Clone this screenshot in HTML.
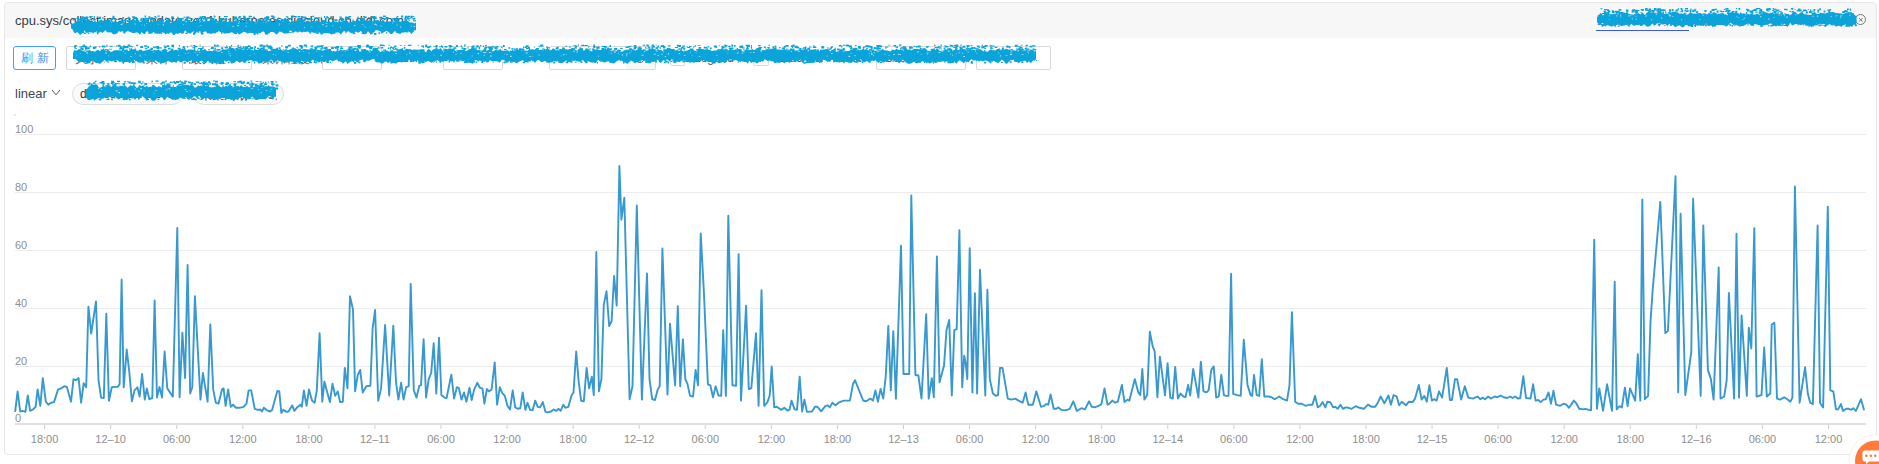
<!DOCTYPE html>
<html><head><meta charset="utf-8">
<style>
html,body{margin:0;padding:0;background:#fff;width:1879px;height:464px;overflow:hidden;font-family:"Liberation Sans",sans-serif;}
.abs{position:absolute;white-space:nowrap;}
#card{position:absolute;left:4px;top:2px;width:1873px;height:453px;border:1px solid #e6e6e6;border-radius:4px;box-sizing:border-box;}
#hdr{position:absolute;left:5px;top:3px;width:1871px;height:34.5px;background:#f7f7f7;border-radius:3px 3px 0 0;}
.title{position:absolute;left:15px;top:13px;font-size:13px;color:#383c4a;white-space:nowrap;}
.btn{position:absolute;left:13px;top:46px;width:43px;height:24px;box-sizing:border-box;border:1px solid #409eff;border-radius:3px;color:#3a94f5;font-size:12px;text-align:left;padding-left:7px;line-height:22px;letter-spacing:4px;white-space:nowrap;overflow:hidden;}
.inp{position:absolute;top:46px;height:24px;box-sizing:border-box;border:1px solid #d9d9d9;border-radius:2px;}
.lbl{position:absolute;top:51px;font-size:12px;color:#555;white-space:nowrap;}
.pill{position:absolute;top:83px;height:22px;box-sizing:border-box;border:1px solid #dedede;border-radius:11px;background:#fafafa;}
svg{position:absolute;left:0;top:0;}
.yl{font-size:11px;fill:#8e8e8e;}
.xl{font-size:11px;fill:#8e8e8e;}
</style></head><body>
<div id="card"></div>
<div id="hdr"></div>
<div class="title">cpu.sys/collect.image.update.ue01.kubernetes.didcloud.cn.didi.com</div>
<div class="abs" style="left:1597px;top:12px;font-size:12px;color:#3b5bdb;">数据源详情页面链接</div>
<div class="abs" style="left:1596px;top:30px;width:93px;height:1px;background:#3b5bdb;"></div>
<div class="abs" style="left:1692px;top:12px;font-size:12px;color:#777;">/ 监控 / 指标查看详细信息</div>
<div class="abs" style="left:1855px;top:14.25px;width:9px;height:9px;border:1px solid #777;border-radius:50%;"></div>
<div class="btn">刷新</div>
<div class="inp" style="left:66px;width:70px"></div>
<div class="lbl" style="left:75px;top:51px">大于</div>
<div class="lbl" style="left:146px">采样</div>
<div class="inp" style="left:182px;width:70px"></div>
<div class="lbl" style="left:190px;top:51px">最大值</div>
<div class="lbl" style="left:262px">采样粒度</div>
<div class="inp" style="left:322px;width:60px"></div>
<div class="lbl" style="left:393px">Outlier</div>
<div class="inp" style="left:443px;width:60px"></div>
<div class="lbl" style="left:512px">+</div>
<div class="inp" style="left:549px;width:107px"></div><div class="abs" style="left:626px;top:47px;width:29px;height:22px;background:#f7f7f7;"></div>
<div class="abs" style="left:635px;top:53px;width:8px;height:8px;border:1px solid #666;border-radius:50%;"></div>
<div class="inp" style="left:670px;top:54px;width:15px;height:12px"></div>
<div class="lbl" style="left:694px">Legend</div>
<div class="inp" style="left:753px;top:54px;width:16px;height:12px"></div>
<div class="lbl" style="left:778px">Stacked</div>
<div class="lbl" style="left:836px">Limit</div>
<div class="inp" style="left:876px;width:90px"></div>
<div class="lbl" style="left:886px;top:51px">500</div>
<div class="inp" style="left:976px;width:75px"></div>
<div class="abs" style="left:15px;top:86px;font-size:13px;color:#404552">linear</div>
<svg width="1879" height="464" viewBox="0 0 1879 464" style="z-index:1">
<path d="M52,90 L56,94.8 L60,90" fill="none" stroke="#555" stroke-width="1"/>
</svg>
<div class="pill" style="left:72px;width:111px"></div>
<div class="pill" style="left:193px;width:91px"></div>
<div class="abs" style="left:80px;top:87px;font-size:12px;color:#333">datasource: DeW</div>
<div class="abs" style="left:200px;top:87px;font-size:12px;color:#333">采集周期: 10s</div>
<svg width="1879" height="464" viewBox="0 0 1879 464" style="z-index:2">
<line x1="15" y1="366.5" x2="1866" y2="366.5" stroke="#ececec" stroke-width="1"/><text x="15" y="365" class="yl">20</text><line x1="15" y1="308.5" x2="1866" y2="308.5" stroke="#ececec" stroke-width="1"/><text x="15" y="307" class="yl">40</text><line x1="15" y1="250.5" x2="1866" y2="250.5" stroke="#ececec" stroke-width="1"/><text x="15" y="249" class="yl">60</text><line x1="15" y1="192.5" x2="1866" y2="192.5" stroke="#ececec" stroke-width="1"/><text x="15" y="191" class="yl">80</text><line x1="15" y1="134.5" x2="1866" y2="134.5" stroke="#ececec" stroke-width="1"/><text x="15" y="133" class="yl">100</text><text x="15" y="421.5" class="yl">0</text>
<rect x="14.5" y="114.5" width="1" height="1" fill="#6aaee0"/>
<line x1="15" y1="424" x2="1866" y2="424" stroke="#e0e0e0" stroke-width="2"/>
<line x1="44.58" y1="425" x2="44.58" y2="429" stroke="#cfcfcf" stroke-width="1"/><text x="44.6" y="443" class="xl" text-anchor="middle">18:00</text><line x1="110.65" y1="425" x2="110.65" y2="429" stroke="#cfcfcf" stroke-width="1"/><text x="110.6" y="443" class="xl" text-anchor="middle">12–10</text><line x1="176.72" y1="425" x2="176.72" y2="429" stroke="#cfcfcf" stroke-width="1"/><text x="176.7" y="443" class="xl" text-anchor="middle">06:00</text><line x1="242.79" y1="425" x2="242.79" y2="429" stroke="#cfcfcf" stroke-width="1"/><text x="242.8" y="443" class="xl" text-anchor="middle">12:00</text><line x1="308.86" y1="425" x2="308.86" y2="429" stroke="#cfcfcf" stroke-width="1"/><text x="308.9" y="443" class="xl" text-anchor="middle">18:00</text><line x1="374.93" y1="425" x2="374.93" y2="429" stroke="#cfcfcf" stroke-width="1"/><text x="374.9" y="443" class="xl" text-anchor="middle">12–11</text><line x1="441.0" y1="425" x2="441.0" y2="429" stroke="#cfcfcf" stroke-width="1"/><text x="441.0" y="443" class="xl" text-anchor="middle">06:00</text><line x1="507.07" y1="425" x2="507.07" y2="429" stroke="#cfcfcf" stroke-width="1"/><text x="507.1" y="443" class="xl" text-anchor="middle">12:00</text><line x1="573.14" y1="425" x2="573.14" y2="429" stroke="#cfcfcf" stroke-width="1"/><text x="573.1" y="443" class="xl" text-anchor="middle">18:00</text><line x1="639.21" y1="425" x2="639.21" y2="429" stroke="#cfcfcf" stroke-width="1"/><text x="639.2" y="443" class="xl" text-anchor="middle">12–12</text><line x1="705.28" y1="425" x2="705.28" y2="429" stroke="#cfcfcf" stroke-width="1"/><text x="705.3" y="443" class="xl" text-anchor="middle">06:00</text><line x1="771.35" y1="425" x2="771.35" y2="429" stroke="#cfcfcf" stroke-width="1"/><text x="771.4" y="443" class="xl" text-anchor="middle">12:00</text><line x1="837.42" y1="425" x2="837.42" y2="429" stroke="#cfcfcf" stroke-width="1"/><text x="837.4" y="443" class="xl" text-anchor="middle">18:00</text><line x1="903.49" y1="425" x2="903.49" y2="429" stroke="#cfcfcf" stroke-width="1"/><text x="903.5" y="443" class="xl" text-anchor="middle">12–13</text><line x1="969.56" y1="425" x2="969.56" y2="429" stroke="#cfcfcf" stroke-width="1"/><text x="969.6" y="443" class="xl" text-anchor="middle">06:00</text><line x1="1035.63" y1="425" x2="1035.63" y2="429" stroke="#cfcfcf" stroke-width="1"/><text x="1035.6" y="443" class="xl" text-anchor="middle">12:00</text><line x1="1101.7" y1="425" x2="1101.7" y2="429" stroke="#cfcfcf" stroke-width="1"/><text x="1101.7" y="443" class="xl" text-anchor="middle">18:00</text><line x1="1167.77" y1="425" x2="1167.77" y2="429" stroke="#cfcfcf" stroke-width="1"/><text x="1167.8" y="443" class="xl" text-anchor="middle">12–14</text><line x1="1233.84" y1="425" x2="1233.84" y2="429" stroke="#cfcfcf" stroke-width="1"/><text x="1233.8" y="443" class="xl" text-anchor="middle">06:00</text><line x1="1299.91" y1="425" x2="1299.91" y2="429" stroke="#cfcfcf" stroke-width="1"/><text x="1299.9" y="443" class="xl" text-anchor="middle">12:00</text><line x1="1365.98" y1="425" x2="1365.98" y2="429" stroke="#cfcfcf" stroke-width="1"/><text x="1366.0" y="443" class="xl" text-anchor="middle">18:00</text><line x1="1432.05" y1="425" x2="1432.05" y2="429" stroke="#cfcfcf" stroke-width="1"/><text x="1432.0" y="443" class="xl" text-anchor="middle">12–15</text><line x1="1498.12" y1="425" x2="1498.12" y2="429" stroke="#cfcfcf" stroke-width="1"/><text x="1498.1" y="443" class="xl" text-anchor="middle">06:00</text><line x1="1564.19" y1="425" x2="1564.19" y2="429" stroke="#cfcfcf" stroke-width="1"/><text x="1564.2" y="443" class="xl" text-anchor="middle">12:00</text><line x1="1630.26" y1="425" x2="1630.26" y2="429" stroke="#cfcfcf" stroke-width="1"/><text x="1630.3" y="443" class="xl" text-anchor="middle">18:00</text><line x1="1696.33" y1="425" x2="1696.33" y2="429" stroke="#cfcfcf" stroke-width="1"/><text x="1696.3" y="443" class="xl" text-anchor="middle">12–16</text><line x1="1762.4" y1="425" x2="1762.4" y2="429" stroke="#cfcfcf" stroke-width="1"/><text x="1762.4" y="443" class="xl" text-anchor="middle">06:00</text><line x1="1828.47" y1="425" x2="1828.47" y2="429" stroke="#cfcfcf" stroke-width="1"/><text x="1828.5" y="443" class="xl" text-anchor="middle">12:00</text>
<polyline points="15.1,411.9 17.6,391.4 20.2,411.5 22.7,410.9 25.4,411.9 27.8,395.5 30.1,410.9 32.9,409.5 35.6,406.8 37.6,389.4 40.3,405.8 42.8,378.1 45.8,401.7 48.3,404.7 51.0,402.7 54.0,402.1 58.1,389.4 61.2,388.4 64.3,386.3 66.9,386.9 71.0,401.7 73.5,379.2 75.9,380.2 78.6,378.1 81.1,402.7 83.7,383.2 86.2,387.3 88.4,306.6 91.2,333.6 96.0,301.4 98.5,380.2 101.1,397.6 103.8,398.0 106.3,313.7 108.9,400.7 111.8,387.3 114.4,386.9 117.5,386.9 119.6,384.3 121.6,279.5 123.7,387.3 126.7,349.5 129.2,371.0 131.9,401.3 134.5,390.4 137.4,387.3 139.6,396.6 142.1,374.0 144.8,399.6 146.8,388.4 149.3,399.2 152.3,398.0 154.6,300.4 157.0,397.6 159.5,386.9 162.0,397.6 164.6,351.5 167.3,388.4 172.8,396.6 177.3,228.0 179.6,397.2 182.4,332.6 185.1,378.1 187.6,265.0 190.2,393.5 192.3,387.3 194.9,296.3 200.5,399.6 202.9,373.0 207.6,401.7 210.3,324.4 213.2,389.4 215.8,402.7 218.5,403.7 222.0,389.4 223.6,388.4 225.6,405.8 228.1,389.4 230.8,406.8 233.2,404.7 235.9,407.8 239.4,407.8 243.5,406.8 246.5,403.7 248.6,390.4 251.2,390.4 254.7,408.8 257.8,409.9 260.3,409.5 261.9,411.5 263.9,407.8 267.0,410.3 270.1,411.5 272.1,409.9 277.3,391.0 279.3,391.4 281.3,412.9 283.4,409.9 286.5,411.9 288.5,411.5 292.2,405.4 294.3,410.9 296.7,407.8 300.4,404.7 301.8,406.8 303.9,390.4 306.5,405.8 309.0,389.4 312.1,400.7 314.7,402.7 316.8,390.4 319.6,333.2 322.3,401.7 324.4,381.6 327.0,391.4 329.9,402.1 332.5,383.7 335.2,395.9 337.7,391.4 340.1,402.1 342.8,401.7 344.8,367.9 347.5,388.4 350.0,296.3 353.0,309.6 355.1,391.4 357.7,375.1 360.2,369.9 362.7,392.5 366.3,386.3 370.4,385.7 372.6,328.5 375.1,310.0 378.2,400.7 381.1,388.4 385.1,325.0 389.2,395.5 393.3,325.6 396.0,382.2 398.4,399.6 401.1,382.8 403.6,399.6 406.2,386.9 408.7,386.3 410.7,284.0 413.8,390.4 416.5,397.6 419.3,385.7 421.0,385.3 423.6,339.2 426.1,397.6 428.7,379.2 431.2,373.0 433.7,343.3 436.3,393.5 439.0,337.8 441.4,395.1 444.5,397.6 446.6,398.0 451.3,374.6 454.1,398.6 456.8,387.3 458.8,387.8 461.5,399.6 464.0,392.5 466.4,401.7 469.5,387.8 471.7,400.0 474.2,389.4 477.3,382.8 479.9,387.8 482.4,388.4 484.4,403.7 486.9,389.0 488.9,391.4 491.6,389.4 494.7,362.4 497.1,404.7 499.8,387.3 502.3,393.1 504.9,395.9 507.4,405.8 510.0,409.5 512.7,390.4 515.2,407.4 517.6,408.8 520.3,408.2 522.7,392.5 525.4,409.9 527.5,402.7 530.1,409.9 532.6,410.3 535.2,400.7 537.7,406.8 540.1,407.4 542.8,402.1 545.5,411.9 547.9,412.3 551.0,411.5 553.7,409.5 556.1,410.9 558.6,408.8 560.6,410.9 563.3,404.7 565.3,407.8 568.4,406.8 571.5,395.5 573.5,392.5 576.2,351.5 578.6,381.2 581.1,400.7 583.8,401.3 586.6,367.9 589.1,388.4 591.8,376.7 593.8,395.1 596.3,252.0 598.9,391.4 601.4,379.1 603.8,304.6 606.5,291.3 609.2,326.1 611.6,321.0 614.1,276.0 616.7,305.6 619.4,166.0 621.4,219.7 624.3,197.8 629.6,399.2 632.5,386.3 636.8,205.4 641.9,399.6 647.0,273.5 649.5,379.1 652.2,399.2 655.0,400.0 657.7,389.4 659.7,386.3 662.4,248.4 667.5,394.5 670.0,323.6 675.1,385.3 677.8,306.2 680.2,386.3 682.9,339.2 685.3,379.1 687.4,383.6 690.0,395.9 693.1,396.5 695.6,369.9 698.0,385.3 700.7,233.4 703.8,290.2 707.9,384.3 710.3,385.3 713.0,397.2 715.6,386.3 718.5,395.5 721.2,395.9 723.2,330.2 725.9,395.9 728.3,215.6 732.4,385.3 736.1,385.7 738.6,254.1 741.0,400.6 746.1,305.6 748.8,389.0 751.3,388.4 756.0,333.1 758.6,405.8 761.5,290.2 764.2,405.8 767.2,402.7 769.7,395.5 771.7,366.4 774.2,407.4 776.8,406.8 781.3,409.9 784.3,407.8 787.4,410.5 789.5,409.9 791.5,400.6 794.6,409.4 797.0,409.9 799.7,376.7 802.1,411.5 804.4,399.6 806.9,411.9 812.0,411.5 815.0,406.8 817.5,406.8 821.2,411.3 825.3,406.2 827.7,405.3 829.8,407.4 832.4,402.7 835.5,405.3 838.6,402.7 841.7,401.3 844.1,400.6 849.9,400.6 852.9,384.3 855.0,380.2 863.2,400.6 866.2,401.3 870.3,398.6 873.0,400.6 875.4,390.4 877.9,401.7 880.6,389.0 883.2,398.6 885.7,377.1 888.3,326.0 890.8,390.4 893.3,331.1 895.9,398.6 901.0,245.7 903.5,374.0 909.2,374.0 911.3,195.5 915.4,375.0 918.4,375.5 921.5,398.6 926.2,314.1 928.7,398.6 931.8,378.1 933.8,397.2 936.9,256.4 939.5,382.2 944.0,365.8 946.5,330.1 949.2,319.9 951.8,395.5 954.3,330.1 956.7,329.1 959.4,230.3 962.2,387.3 964.2,355.6 965.6,362.8 967.3,379.1 969.7,248.2 972.4,392.4 974.9,293.2 977.1,393.5 980.0,269.7 985.3,395.5 987.4,289.8 989.8,379.1 992.9,393.5 996.0,395.9 998.0,395.1 1000.0,367.9 1002.5,367.9 1007.8,398.6 1011.3,399.6 1015.4,398.6 1018.5,400.6 1022.6,402.7 1025.6,392.4 1028.3,404.7 1032.8,404.7 1036.3,391.4 1041.0,406.8 1043.5,406.2 1046.1,404.1 1048.2,404.7 1050.6,394.5 1053.7,408.8 1056.4,408.8 1058.4,407.4 1061.5,409.9 1065.6,410.3 1069.7,408.8 1073.3,401.3 1076.8,410.9 1081.5,408.2 1085.0,409.4 1089.1,401.3 1091.8,406.8 1094.6,407.4 1097.9,406.2 1101.4,404.1 1104.5,388.4 1107.5,404.7 1109.6,403.7 1112.2,400.6 1115.1,402.7 1117.8,401.7 1121.9,384.9 1124.5,402.1 1127.4,399.6 1129.4,400.6 1134.8,379.1 1138.3,392.4 1140.3,395.1 1142.3,368.9 1144.4,399.6 1147.2,395.1 1149.8,331.6 1152.7,346.4 1154.7,351.5 1157.4,397.2 1159.9,356.6 1165.0,395.5 1167.6,363.2 1170.3,397.6 1172.8,398.6 1175.2,366.9 1177.9,398.6 1180.5,393.5 1183.4,396.5 1185.5,397.2 1188.1,384.9 1190.2,395.5 1193.2,368.9 1198.4,397.6 1200.8,361.7 1203.5,391.4 1206.5,392.4 1208.6,390.4 1211.3,369.9 1213.7,366.4 1216.2,397.6 1218.8,396.5 1221.3,374.6 1223.9,395.1 1226.0,395.9 1228.5,395.9 1231.1,273.8 1233.2,393.9 1237.3,395.1 1240.7,395.9 1243.8,339.8 1247.5,384.9 1250.6,395.1 1252.2,395.9 1254.0,375.0 1256.7,395.1 1259.2,395.9 1261.8,359.1 1264.3,396.5 1269.0,396.5 1272.1,397.6 1274.7,399.2 1279.2,396.5 1283.3,399.2 1287.0,400.6 1289.5,385.3 1291.9,312.1 1295.2,401.7 1298.1,403.7 1301.8,403.7 1305.4,405.8 1309.9,404.7 1312.4,404.7 1315.1,395.9 1317.7,407.4 1320.2,405.8 1322.6,402.1 1325.3,407.4 1327.4,401.7 1330.1,402.1 1333.2,407.4 1335.2,406.8 1337.7,408.8 1340.4,404.7 1343.0,408.8 1345.5,407.4 1348.5,407.8 1351.6,408.8 1355.7,406.2 1359.4,407.8 1363.9,408.8 1368.0,404.7 1371.7,406.8 1375.2,406.8 1377.8,402.7 1380.7,396.5 1384.4,403.3 1388.5,395.5 1390.9,404.7 1393.6,395.1 1396.7,396.5 1399.1,405.3 1401.8,401.7 1405.9,405.3 1408.9,401.7 1412.6,402.1 1415.1,398.6 1418.8,384.9 1421.6,399.6 1424.3,395.9 1426.8,401.7 1429.4,385.3 1431.9,400.6 1434.5,399.2 1436.6,400.6 1439.0,391.4 1442.1,397.6 1446.8,367.9 1449.9,400.0 1451.9,400.0 1455.0,379.1 1457.1,379.1 1461.2,399.6 1464.8,386.3 1468.3,397.6 1472.8,398.6 1477.5,396.5 1480.2,399.2 1482.7,397.6 1485.1,399.2 1488.2,396.5 1490.8,398.6 1494.9,396.5 1497.4,397.2 1500.7,395.5 1503.5,397.2 1507.2,398.0 1510.3,396.5 1512.5,398.0 1515.1,396.5 1517.8,398.6 1520.2,398.0 1523.3,376.1 1526.0,398.0 1530.5,398.6 1533.1,384.3 1535.6,400.6 1538.3,400.0 1540.7,402.1 1543.4,399.6 1545.8,399.2 1548.5,392.4 1551.0,403.7 1553.4,390.8 1556.1,404.7 1560.2,405.8 1563.6,403.7 1566.3,404.7 1569.0,407.8 1573.9,400.6 1576.5,403.7 1579.2,408.8 1583.7,409.4 1585.0,408.8 1591.1,410.3 1594.2,239.7 1596.9,408.8 1599.3,388.4 1603.0,410.9 1607.1,384.3 1612.0,410.9 1614.7,281.7 1616.7,409.4 1619.4,406.2 1621.9,407.4 1624.9,387.7 1627.6,406.2 1630.0,388.4 1635.2,400.6 1637.8,354.2 1638.6,373.0 1640.3,400.6 1642.3,199.4 1644.8,399.2 1648.1,395.9 1650.5,321.7 1652.6,291.0 1660.3,201.9 1665.3,333.1 1667.9,331.0 1675.5,176.3 1678.2,392.4 1680.6,213.7 1685.3,395.1 1691.3,352.0 1693.1,198.8 1700.7,395.9 1703.3,225.4 1707.9,369.9 1710.9,379.1 1713.6,399.6 1718.7,267.4 1720.5,398.6 1724.2,396.5 1726.7,380.2 1728.9,293.0 1734.1,398.6 1736.5,233.6 1739.0,397.6 1741.6,315.5 1746.8,395.9 1748.8,327.8 1751.3,348.4 1754.3,228.1 1756.6,396.5 1761.5,395.1 1764.2,347.4 1766.8,396.5 1770.3,393.5 1771.7,324.7 1774.4,322.7 1777.0,398.6 1780.1,399.6 1784.2,397.2 1787.3,399.2 1790.4,401.7 1792.4,397.6 1794.9,186.5 1799.6,402.7 1805.1,367.3 1807.8,393.5 1810.2,402.7 1812.9,404.1 1817.6,225.4 1820.0,402.7 1823.1,407.4 1827.8,206.6 1830.3,390.4 1833.3,391.4 1836.0,409.4 1838.1,409.4 1840.9,404.1 1843.0,410.9 1846.2,408.8 1848.7,408.8 1851.2,409.9 1853.2,408.2 1855.9,410.9 1861.0,399.2 1864.1,410.3" fill="none" stroke="#3898d0" stroke-width="1.9" stroke-linejoin="round"/>
<path d="M71.0 23.4L72.5 23.7L74.0 22.9L75.5 21.3L77.0 21.4L78.5 20.8L80.0 21.0L81.5 21.2L83.0 22.2L84.5 21.2L86.0 20.3L87.5 20.1L89.0 21.2L90.5 22.3L92.0 20.4L93.5 20.7L95.0 23.1L96.5 22.1L98.0 21.8L99.5 20.8L101.0 19.5L102.5 20.7L104.0 20.5L105.5 20.1L107.0 20.1L108.5 19.4L110.0 19.6L111.5 20.8L113.0 21.4L114.5 21.9L116.0 21.9L117.5 21.9L119.0 21.7L120.5 21.4L122.0 20.1L123.5 21.3L125.0 22.8L126.5 22.9L128.0 22.7L129.5 21.2L131.0 20.1L132.5 20.3L134.0 19.6L135.5 20.6L137.0 21.2L138.5 21.3L140.0 21.5L141.5 22.0L143.0 23.2L144.5 20.4L146.0 19.5L147.5 21.8L149.0 21.9L150.5 22.2L152.0 22.3L153.5 20.2L155.0 20.6L156.5 21.6L158.0 21.2L159.5 19.8L161.0 19.9L162.5 21.8L164.0 22.8L165.5 21.4L167.0 20.1L168.5 19.4L170.0 19.7L171.5 20.7L173.0 21.2L174.5 20.7L176.0 21.4L177.5 20.1L179.0 21.4L180.5 20.4L182.0 20.4L183.5 20.8L185.0 20.2L186.5 20.0L188.0 20.1L189.5 21.5L191.0 22.4L192.5 21.6L194.0 21.1L195.5 21.6L197.0 20.6L198.5 21.5L200.0 22.4L201.5 20.7L203.0 21.1L204.5 21.8L206.0 20.0L207.5 20.8L209.0 20.9L210.5 20.4L212.0 20.0L213.5 19.7L215.0 20.2L216.5 20.3L218.0 21.0L219.5 20.8L221.0 20.6L222.5 21.8L224.0 22.2L225.5 21.6L227.0 22.4L228.5 21.5L230.0 19.6L231.5 21.7L233.0 22.3L234.5 21.1L236.0 19.9L237.5 20.7L239.0 22.8L240.5 21.7L242.0 21.1L243.5 23.2L245.0 21.6L246.5 21.2L248.0 20.6L249.5 19.7L251.0 21.2L252.5 21.1L254.0 21.2L255.5 20.6L257.0 20.9L258.5 22.1L260.0 20.6L261.5 20.1L263.0 20.8L264.5 21.2L266.0 19.7L267.5 20.9L269.0 22.3L270.5 22.4L272.0 21.3L273.5 21.8L275.0 21.8L276.5 19.6L278.0 20.0L279.5 20.5L281.0 20.4L282.5 19.5L284.0 19.9L285.5 20.8L287.0 20.1L288.5 19.7L290.0 21.9L291.5 22.4L293.0 22.5L294.5 21.3L296.0 21.3L297.5 20.3L299.0 19.6L300.5 18.9L302.0 20.6L303.5 22.1L305.0 22.8L306.5 20.8L308.0 20.8L309.5 21.4L311.0 21.5L312.5 20.8L314.0 22.0L315.5 21.3L317.0 20.1L318.5 21.8L320.0 21.9L321.5 22.3L323.0 22.2L324.5 21.8L326.0 22.3L327.5 22.0L329.0 21.3L330.5 22.0L332.0 22.3L333.5 21.2L335.0 21.9L336.5 22.0L338.0 22.2L339.5 21.5L341.0 21.6L342.5 21.4L344.0 21.8L345.5 20.9L347.0 20.9L348.5 22.4L350.0 22.5L351.5 22.1L353.0 20.9L354.5 21.3L356.0 21.6L357.5 20.8L359.0 21.6L360.5 21.3L362.0 20.3L363.5 20.9L365.0 20.4L366.5 20.8L368.0 20.8L369.5 21.1L371.0 21.4L372.5 21.1L374.0 22.1L375.5 21.2L377.0 19.9L378.5 20.2L380.0 21.3L381.5 21.2L383.0 19.5L384.5 21.4L386.0 21.9L387.5 21.7L389.0 21.4L390.5 21.2L392.0 21.0L393.5 21.3L395.0 20.4L396.5 21.9L398.0 22.4L399.5 22.6L401.0 21.5L402.5 21.5L404.0 21.1L405.5 19.5L407.0 20.2L408.5 21.4L410.0 22.5L411.5 22.6L413.0 22.7L414.5 23.6L416.0 22.4L416.0 30.4L414.5 30.1L413.0 32.3L411.5 34.0L410.0 32.2L408.5 31.4L407.0 32.8L405.5 32.1L404.0 32.6L402.5 32.4L401.0 33.0L399.5 32.4L398.0 33.3L396.5 33.0L395.0 30.7L393.5 32.5L392.0 34.1L390.5 34.0L389.0 32.2L387.5 31.2L386.0 30.8L384.5 32.1L383.0 32.1L381.5 32.1L380.0 31.3L378.5 30.5L377.0 30.3L375.5 30.3L374.0 32.4L372.5 32.7L371.0 33.2L369.5 32.8L368.0 31.2L366.5 33.4L365.0 34.6L363.5 33.6L362.0 32.0L360.5 30.8L359.0 32.4L357.5 32.6L356.0 31.6L354.5 32.6L353.0 32.7L351.5 32.8L350.0 32.8L348.5 31.0L347.0 32.1L345.5 31.8L344.0 30.9L342.5 32.3L341.0 34.7L339.5 33.0L338.0 32.3L336.5 32.7L335.0 32.1L333.5 33.5L332.0 34.6L330.5 33.9L329.0 33.1L327.5 32.7L326.0 33.3L324.5 33.1L323.0 33.6L321.5 33.3L320.0 33.1L318.5 31.7L317.0 31.7L315.5 31.8L314.0 32.2L312.5 32.6L311.0 31.7L309.5 33.1L308.0 31.6L306.5 31.7L305.0 31.9L303.5 31.7L302.0 32.5L300.5 31.8L299.0 31.5L297.5 32.7L296.0 31.3L294.5 32.0L293.0 32.9L291.5 31.1L290.0 30.2L288.5 32.2L287.0 32.0L285.5 33.3L284.0 33.7L282.5 31.6L281.0 32.0L279.5 31.5L278.0 33.3L276.5 34.5L275.0 33.3L273.5 32.0L272.0 32.0L270.5 32.1L269.0 32.8L267.5 34.9L266.0 33.4L264.5 32.6L263.0 31.3L261.5 32.3L260.0 33.3L258.5 32.3L257.0 33.7L255.5 33.2L254.0 32.9L252.5 33.1L251.0 32.9L249.5 31.0L248.0 33.0L246.5 32.7L245.0 31.9L243.5 31.7L242.0 33.1L240.5 33.8L239.0 34.5L237.5 32.7L236.0 32.6L234.5 34.1L233.0 32.8L231.5 32.3L230.0 32.1L228.5 33.2L227.0 33.3L225.5 33.5L224.0 33.5L222.5 32.0L221.0 32.4L219.5 31.4L218.0 31.1L216.5 32.3L215.0 33.8L213.5 33.0L212.0 33.7L210.5 33.7L209.0 33.3L207.5 33.6L206.0 31.5L204.5 31.4L203.0 32.4L201.5 33.5L200.0 31.1L198.5 32.1L197.0 31.8L195.5 32.4L194.0 31.6L192.5 31.8L191.0 32.9L189.5 33.2L188.0 32.7L186.5 31.6L185.0 30.5L183.5 32.4L182.0 34.2L180.5 32.4L179.0 33.3L177.5 34.0L176.0 33.3L174.5 35.0L173.0 34.7L171.5 32.5L170.0 32.5L168.5 33.9L167.0 33.2L165.5 34.4L164.0 32.4L162.5 32.0L161.0 32.4L159.5 33.7L158.0 33.8L156.5 33.5L155.0 33.5L153.5 31.8L152.0 33.6L150.5 33.7L149.0 33.3L147.5 31.1L146.0 32.1L144.5 34.6L143.0 33.2L141.5 31.9L140.0 34.7L138.5 33.3L137.0 32.2L135.5 32.7L134.0 33.1L132.5 33.1L131.0 32.3L129.5 31.7L128.0 31.1L126.5 31.6L125.0 32.9L123.5 31.2L122.0 31.2L120.5 32.0L119.0 31.1L117.5 32.4L116.0 34.1L114.5 34.3L113.0 34.2L111.5 32.6L110.0 32.3L108.5 32.5L107.0 32.1L105.5 29.9L104.0 31.4L102.5 32.9L101.0 32.0L99.5 31.3L98.0 31.3L96.5 31.1L95.0 32.2L93.5 32.5L92.0 32.2L90.5 32.6L89.0 31.8L87.5 32.7L86.0 32.8L84.5 30.2L83.0 31.8L81.5 34.1L80.0 34.9L78.5 32.9L77.0 31.9L75.5 33.3L74.0 32.4L72.5 29.3L71.0 28.2ZM120.6 20.2h3.2v1.5h-3.2zM317.4 21.0h1.4v2.1h-1.4zM287.1 16.8h1.2v1.1h-1.2zM269.7 20.1h1.7v2.1h-1.7zM195.9 18.6h1.3v2.2h-1.3zM118.5 21.5h2.2v1.6h-2.2zM264.2 17.2h3.0v2.2h-3.0zM352.4 19.5h1.3v2.0h-1.3zM171.0 21.4h1.5v1.6h-1.5zM356.9 16.7h2.2v0.9h-2.2zM83.0 16.7h3.2v2.1h-3.2zM297.8 17.5h2.5v1.8h-2.5zM202.9 19.4h2.8v0.8h-2.8zM140.4 18.6h1.3v1.3h-1.3zM267.3 16.6h2.1v1.2h-2.1zM266.8 17.7h2.4v0.9h-2.4zM302.2 16.5h3.1v1.6h-3.1zM233.2 18.2h2.4v1.8h-2.4zM332.0 20.5h2.1v2.2h-2.1zM359.5 21.2h1.9v1.4h-1.9zM266.1 21.5h2.2v1.5h-2.2zM220.3 21.5h1.7v0.9h-1.7zM320.9 21.4h2.6v1.6h-2.6zM329.9 17.5h2.3v0.9h-2.3zM114.7 18.5h2.1v1.4h-2.1zM89.8 20.1h2.2v1.1h-2.2zM177.1 18.1h1.5v0.9h-1.5zM384.6 21.9h2.5v2.0h-2.5zM216.5 20.8h1.5v1.8h-1.5zM266.4 21.5h1.2v1.9h-1.2zM114.5 19.1h3.1v0.8h-3.1zM155.7 17.5h1.7v0.9h-1.7zM379.0 20.9h1.9v1.3h-1.9zM272.8 15.8h1.1v2.1h-1.1zM177.6 18.8h3.1v2.2h-3.1zM234.1 16.9h1.6v2.1h-1.6zM379.6 16.8h2.8v1.3h-2.8zM234.1 16.6h2.9v2.2h-2.9zM141.3 19.7h1.4v2.0h-1.4zM89.2 16.2h2.6v1.2h-2.6zM380.8 21.2h2.6v1.0h-2.6zM310.7 21.7h2.0v0.9h-2.0zM148.6 17.5h2.6v1.1h-2.6zM134.1 17.1h2.5v1.9h-2.5zM199.8 19.9h2.9v1.6h-2.9zM150.5 17.5h3.0v1.7h-3.0zM167.0 19.7h1.2v2.2h-1.2zM223.0 19.0h2.2v0.9h-2.2zM277.7 17.4h1.6v1.9h-1.6zM101.9 17.4h2.7v1.1h-2.7zM167.7 19.1h1.4v2.1h-1.4zM410.8 15.7h2.0v1.9h-2.0zM204.0 21.6h2.1v1.1h-2.1zM262.7 19.8h1.8v1.7h-1.8zM340.6 18.9h2.1v2.0h-2.1zM306.7 18.9h3.1v1.0h-3.1zM339.4 16.6h2.3v1.1h-2.3zM223.1 20.6h2.7v1.9h-2.7zM152.9 18.7h1.5v1.6h-1.5zM243.1 15.7h2.3v1.8h-2.3zM268.4 21.3h1.4v1.0h-1.4zM78.1 18.8h2.0v1.4h-2.0zM162.2 20.8h1.2v2.1h-1.2zM267.1 19.1h2.7v1.1h-2.7zM122.2 17.6h1.1v1.2h-1.1zM285.1 19.0h1.6v1.6h-1.6zM102.3 20.9h1.4v1.2h-1.4zM126.8 20.1h2.8v1.9h-2.8zM93.0 18.2h1.8v1.1h-1.8zM404.9 15.8h2.1v1.9h-2.1zM410.3 16.5h2.0v1.8h-2.0zM85.5 17.1h3.0v1.0h-3.0zM206.8 17.5h1.9v0.9h-1.9zM83.8 22.1h2.7v1.8h-2.7zM150.8 17.2h2.2v1.1h-2.2zM230.3 21.7h1.8v1.3h-1.8zM408.6 19.5h1.1v1.4h-1.1zM294.9 15.9h1.8v1.8h-1.8zM368.5 19.4h3.0v1.4h-3.0zM206.8 21.1h1.8v1.9h-1.8zM145.9 17.8h1.4v1.6h-1.4zM128.2 16.8h1.5v1.5h-1.5zM177.8 18.5h3.2v1.8h-3.2zM367.9 16.9h1.8v0.9h-1.8zM309.1 17.9h1.6v0.8h-1.6zM134.4 17.2h1.9v2.1h-1.9zM317.3 17.3h1.8v1.0h-1.8zM393.3 17.9h2.7v1.8h-2.7zM383.1 15.6h1.7v1.3h-1.7zM100.5 21.3h1.7v1.9h-1.7zM250.1 15.9h1.9v1.1h-1.9zM86.0 16.5h2.3v0.8h-2.3zM179.1 18.3h2.2v1.0h-2.2zM314.4 17.2h2.6v1.7h-2.6zM122.5 16.9h1.6v1.8h-1.6zM211.0 18.1h2.9v1.1h-2.9zM172.2 17.8h1.5v0.9h-1.5zM80.4 19.7h2.2v1.9h-2.2zM406.6 17.5h2.5v2.1h-2.5zM146.2 20.1h2.5v2.1h-2.5zM369.9 17.1h2.4v0.9h-2.4zM218.7 18.1h1.1v1.3h-1.1zM184.6 18.8h1.6v1.0h-1.6zM210.0 18.6h1.4v1.7h-1.4zM154.3 16.1h1.8v1.4h-1.8zM123.7 19.4h2.5v1.6h-2.5zM312.2 15.7h1.9v1.3h-1.9zM93.6 18.2h1.1v1.5h-1.1zM273.0 18.6h1.7v1.2h-1.7zM80.1 17.8h3.0v1.6h-3.0zM161.8 19.9h1.4v1.5h-1.4zM283.0 21.8h1.8v1.6h-1.8zM395.2 20.6h2.4v1.7h-2.4zM213.0 18.2h1.6v2.0h-1.6zM373.7 18.0h3.0v0.9h-3.0zM118.6 18.9h1.7v1.3h-1.7zM407.1 16.5h1.4v1.1h-1.4zM305.3 17.1h1.0v1.6h-1.0zM207.1 17.1h2.1v1.7h-2.1zM260.0 19.6h2.2v2.0h-2.2zM404.3 17.7h1.8v2.0h-1.8zM179.5 20.2h2.5v1.8h-2.5zM402.6 20.9h1.4v1.7h-1.4zM240.3 19.2h1.8v1.2h-1.8zM328.9 19.0h1.5v1.1h-1.5zM183.5 16.7h2.1v1.0h-2.1zM93.7 16.0h1.2v1.8h-1.2zM110.7 18.5h2.7v1.5h-2.7zM127.8 21.2h2.9v0.9h-2.9zM159.1 18.9h2.8v1.3h-2.8zM317.6 17.2h2.6v1.3h-2.6zM186.5 20.5h2.9v2.0h-2.9zM266.6 18.3h2.6v1.7h-2.6zM357.0 20.8h1.3v1.3h-1.3zM301.6 17.0h1.4v0.8h-1.4zM272.8 21.7h3.1v1.0h-3.1zM307.8 18.3h2.4v1.4h-2.4zM392.1 22.0h1.1v1.8h-1.1zM112.6 15.8h1.6v1.8h-1.6zM412.8 16.3h1.7v0.8h-1.7zM258.1 18.7h1.8v1.2h-1.8zM346.6 21.0h1.6v1.3h-1.6zM283.9 20.6h3.2v1.3h-3.2zM310.1 19.1h2.8v1.0h-2.8zM132.1 16.2h3.1v1.2h-3.1zM239.5 16.3h1.7v0.8h-1.7zM266.1 16.4h2.4v1.2h-2.4zM150.1 18.7h1.8v1.2h-1.8zM89.6 15.9h3.0v1.2h-3.0zM98.9 16.7h2.1v2.2h-2.1zM141.4 21.2h2.1v1.4h-2.1zM348.8 18.1h1.1v1.6h-1.1zM297.3 19.6h1.6v2.1h-1.6zM368.6 22.1h2.0v2.0h-2.0zM320.7 16.7h1.1v1.0h-1.1zM112.7 16.0h1.8v1.9h-1.8zM178.3 18.9h1.0v1.1h-1.0zM401.0 15.6h2.2v1.9h-2.2zM343.8 20.4h1.9v1.9h-1.9zM355.9 20.6h3.2v0.9h-3.2zM398.0 18.2h2.6v1.2h-2.6zM384.0 15.7h2.3v1.1h-2.3zM205.2 17.9h2.4v1.9h-2.4zM197.1 19.7h1.8v1.2h-1.8zM382.5 17.6h1.2v1.3h-1.2zM326.4 16.9h2.6v1.6h-2.6zM305.3 16.7h1.2v1.0h-1.2zM192.2 18.3h1.0v1.5h-1.0zM210.4 17.6h2.2v2.1h-2.2zM142.2 21.3h1.7v1.9h-1.7zM109.2 22.0h1.9v2.1h-1.9zM147.3 18.2h2.6v1.0h-2.6zM165.8 20.0h3.1v1.3h-3.1zM134.9 17.9h3.2v1.0h-3.2zM289.7 18.0h2.4v1.1h-2.4zM283.4 21.4h2.9v1.7h-2.9zM245.2 19.3h1.3v2.0h-1.3zM308.6 18.5h2.5v1.4h-2.5zM203.9 17.0h2.3v1.6h-2.3zM248.7 15.7h2.4v1.4h-2.4zM275.5 19.4h3.0v1.0h-3.0zM232.8 22.1h2.6v1.2h-2.6zM324.7 22.0h1.9v2.0h-1.9zM115.5 22.0h2.1v1.1h-2.1zM360.2 19.8h3.1v2.0h-3.1zM345.6 18.9h3.2v0.9h-3.2zM370.4 20.2h1.6v1.9h-1.6zM227.7 19.0h2.9v1.1h-2.9zM167.9 19.8h1.2v1.6h-1.2zM342.0 18.7h1.5v1.9h-1.5zM365.3 20.6h2.2v2.1h-2.2zM345.3 16.5h1.8v0.9h-1.8zM84.6 17.8h2.9v2.0h-2.9zM112.3 16.7h1.9v2.0h-1.9zM283.7 21.5h1.2v2.2h-1.2zM142.9 19.7h2.9v1.8h-2.9zM139.6 19.9h1.9v0.8h-1.9zM188.5 17.6h2.4v1.2h-2.4zM278.9 20.1h1.4v1.0h-1.4zM310.0 18.6h1.3v1.0h-1.3zM394.8 19.5h1.8v1.1h-1.8zM413.2 20.1h2.6v1.3h-2.6zM178.4 18.2h1.3v1.7h-1.3zM217.7 20.9h1.9v1.4h-1.9zM245.7 21.7h1.8v1.8h-1.8zM152.6 19.3h1.6v2.0h-1.6zM170.3 21.1h2.5v1.4h-2.5zM392.3 18.1h2.6v1.6h-2.6zM225.8 15.9h1.9v1.2h-1.9zM223.2 21.8h1.6v1.8h-1.6zM302.5 17.1h1.9v1.0h-1.9zM379.1 17.2h1.9v1.3h-1.9zM353.4 21.1h2.3v1.6h-2.3zM106.1 21.4h1.2v1.3h-1.2zM200.4 20.3h2.5v1.3h-2.5zM380.0 21.8h1.1v1.7h-1.1zM232.9 17.9h2.0v1.2h-2.0zM302.1 19.5h3.1v2.2h-3.1zM412.5 18.1h2.8v1.7h-2.8zM312.5 22.1h1.1v1.4h-1.1zM209.6 19.8h1.5v2.2h-1.5zM143.8 17.9h1.3v1.4h-1.3zM326.4 16.1h1.4v1.7h-1.4zM285.7 20.4h1.6v1.9h-1.6zM322.7 20.6h1.3v1.5h-1.3zM77.4 21.2h3.1v2.1h-3.1zM80.3 17.8h2.2v1.5h-2.2zM110.2 20.7h1.7v1.5h-1.7zM114.7 19.3h1.3v0.9h-1.3zM247.7 17.4h2.7v1.1h-2.7zM214.0 15.9h1.5v1.4h-1.5zM263.4 18.5h2.9v0.9h-2.9zM363.6 16.5h3.1v1.5h-3.1zM211.4 19.5h2.9v2.1h-2.9zM213.8 15.6h1.3v1.9h-1.3zM323.9 20.2h1.3v1.5h-1.3zM81.8 16.2h1.7v2.2h-1.7zM292.6 21.1h1.1v1.4h-1.1zM98.9 17.2h1.2v2.1h-1.2zM184.8 18.7h2.4v2.0h-2.4zM396.6 19.3h2.1v2.1h-2.1zM207.3 17.5h2.6v1.2h-2.6zM198.2 18.3h2.0v1.3h-2.0zM219.7 18.5h1.1v2.0h-1.1zM93.2 19.0h2.2v1.4h-2.2zM148.4 16.2h1.8v1.2h-1.8zM238.0 17.0h2.6v1.5h-2.6zM75.1 18.2h3.1v0.8h-3.1zM275.5 21.9h1.8v1.6h-1.8zM198.5 17.5h2.3v1.6h-2.3zM180.1 18.8h2.1v1.9h-2.1zM90.2 16.1h1.6v1.2h-1.6zM344.9 18.3h2.9v1.4h-2.9zM170.0 20.0h1.2v2.2h-1.2zM357.2 17.7h1.7v1.9h-1.7zM342.4 19.7h1.1v1.9h-1.1zM88.4 19.6h2.2v2.1h-2.2zM291.1 15.6h3.1v1.9h-3.1zM270.9 15.5h2.6v1.4h-2.6zM305.1 22.0h3.0v0.9h-3.0zM340.0 18.4h2.7v1.3h-2.7zM225.6 18.4h1.3v1.2h-1.3zM324.0 16.0h1.3v2.0h-1.3zM300.5 19.1h1.2v1.0h-1.2zM178.3 21.8h2.2v2.1h-2.2zM144.4 18.2h2.2v2.0h-2.2zM114.3 21.3h2.0v0.8h-2.0zM220.2 18.0h2.5v2.1h-2.5zM241.3 20.1h1.9v1.9h-1.9zM108.1 20.4h1.4v1.6h-1.4zM141.3 17.8h1.4v1.3h-1.4zM274.9 18.9h1.9v1.6h-1.9zM360.9 17.9h2.3v1.5h-2.3zM408.3 17.7h2.5v1.1h-2.5zM161.6 20.3h2.3v1.2h-2.3zM94.0 21.0h1.8v1.8h-1.8zM220.4 19.6h2.2v2.2h-2.2zM384.0 18.5h2.1v1.1h-2.1zM330.3 16.2h1.7v2.0h-1.7zM84.0 20.1h2.2v1.6h-2.2zM186.2 16.5h3.1v1.9h-3.1zM348.4 16.1h2.7v1.1h-2.7zM140.3 19.0h2.3v1.0h-2.3zM334.4 19.3h3.0v2.1h-3.0zM308.4 17.9h3.1v1.8h-3.1zM171.8 21.2h2.6v1.2h-2.6zM157.5 15.6h2.2v1.2h-2.2zM172.5 17.2h1.3v1.5h-1.3zM165.5 17.4h1.6v1.5h-1.6zM371.7 16.6h2.9v2.0h-2.9zM281.0 19.1h2.6v1.5h-2.6zM298.4 21.6h2.7v1.2h-2.7zM90.6 21.7h1.8v1.9h-1.8zM152.1 18.5h1.8v1.8h-1.8zM395.7 18.8h2.2v1.3h-2.2zM151.6 21.8h1.2v2.1h-1.2zM297.4 16.0h3.0v0.9h-3.0zM265.9 16.3h3.2v1.2h-3.2zM371.1 15.9h2.5v0.9h-2.5zM82.2 19.3h3.2v1.8h-3.2zM365.4 20.7h2.1v0.9h-2.1zM252.8 16.7h2.2v1.3h-2.2zM243.2 16.8h2.6v1.4h-2.6zM238.7 16.0h2.1v1.6h-2.1zM405.6 19.2h1.3v1.2h-1.3zM187.1 20.1h3.1v2.2h-3.1zM397.8 21.6h2.9v2.1h-2.9zM78.9 18.7h2.3v1.8h-2.3zM282.2 19.6h3.1v0.9h-3.1zM250.1 21.8h1.1v1.0h-1.1zM370.1 21.8h1.1v0.8h-1.1zM356.6 20.1h2.1v1.6h-2.1zM331.8 20.8h1.0v0.9h-1.0zM344.4 21.9h2.8v1.4h-2.8zM187.1 17.8h1.0v1.9h-1.0zM162.0 19.4h2.2v1.3h-2.2zM303.5 18.5h1.5v2.0h-1.5zM132.3 16.5h1.6v1.5h-1.6zM340.8 17.7h1.5v1.7h-1.5zM161.3 19.0h1.6v2.0h-1.6zM135.3 17.0h1.7v1.3h-1.7zM321.2 20.0h2.7v1.6h-2.7zM99.0 20.5h1.5v1.1h-1.5zM214.1 22.0h1.8v1.3h-1.8zM384.5 22.0h1.9v1.0h-1.9zM342.8 20.7h1.7v1.9h-1.7zM202.2 17.4h2.3v1.8h-2.3zM235.2 20.9h1.0v1.5h-1.0zM202.5 15.9h3.0v1.0h-3.0zM142.5 21.3h3.1v2.1h-3.1zM189.3 21.7h1.3v1.8h-1.3zM396.3 16.8h1.3v1.7h-1.3zM374.7 20.3h3.1v1.4h-3.1zM199.7 16.3h1.6v2.1h-1.6zM96.6 16.7h1.8v0.9h-1.8zM177.3 16.7h1.3v1.5h-1.3zM257.3 19.3h2.7v1.5h-2.7zM396.9 16.0h1.5v0.9h-1.5zM178.1 20.5h3.0v1.5h-3.0zM127.0 17.7h2.3v1.2h-2.3zM343.9 21.9h2.0v1.6h-2.0zM362.2 18.6h1.4v2.1h-1.4zM407.4 15.7h2.7v1.4h-2.7zM89.8 16.6h1.4v1.8h-1.4zM144.6 15.6h1.5v1.9h-1.5zM243.2 19.8h2.0v1.1h-2.0zM77.2 17.5h1.1v1.2h-1.1zM284.2 17.9h2.0v1.7h-2.0zM180.8 17.9h2.9v1.6h-2.9zM215.0 19.1h2.0v1.3h-2.0zM385.4 17.0h3.1v2.0h-3.1zM374.5 16.6h2.1v2.2h-2.1zM171.0 16.6h2.6v1.1h-2.6zM272.2 16.5h3.1v1.2h-3.1zM105.2 20.0h1.8v1.6h-1.8zM242.5 21.6h2.1v1.3h-2.1zM72.6 18.8h1.6v1.6h-1.6zM288.7 18.6h1.2v1.5h-1.2zM237.3 19.7h3.1v1.2h-3.1zM223.9 16.1h2.8v1.1h-2.8zM356.4 20.8h1.6v2.1h-1.6zM244.9 18.3h2.2v2.1h-2.2zM240.0 18.7h1.6v2.0h-1.6zM244.5 17.8h1.4v1.1h-1.4zM358.1 20.8h3.2v2.1h-3.2zM307.0 20.8h2.6v1.9h-2.6zM346.8 16.7h2.8v1.2h-2.8zM155.7 21.6h1.1v1.5h-1.1zM189.7 20.7h2.3v2.1h-2.3zM391.8 19.8h1.1v1.7h-1.1zM109.5 22.0h2.9v1.2h-2.9zM135.8 20.1h2.7v2.2h-2.7zM285.7 16.3h2.6v0.9h-2.6zM369.6 20.6h2.7v2.0h-2.7zM267.2 21.7h2.4v1.5h-2.4zM203.9 17.8h1.1v1.0h-1.1zM344.9 17.0h2.4v1.9h-2.4zM310.2 18.9h1.7v1.2h-1.7zM136.3 19.8h2.5v2.1h-2.5zM185.4 32.9h2.4v1.1h-2.4zM398.6 32.2h2.4v1.6h-2.4zM186.3 31.4h1.8v1.3h-1.8zM84.1 32.8h1.8v1.3h-1.8zM327.4 31.3h1.3v1.4h-1.3zM154.8 31.5h1.1v0.9h-1.1zM193.9 32.0h2.4v1.4h-2.4zM214.1 31.7h1.4v1.3h-1.4zM401.0 31.0h1.6v1.5h-1.6zM333.5 32.0h2.0v1.7h-2.0zM381.6 31.3h1.8v1.8h-1.8zM253.0 31.2h2.1v0.9h-2.1zM123.6 32.0h1.4v1.5h-1.4zM321.3 31.5h2.2v1.4h-2.2zM314.1 31.8h1.6v0.9h-1.6zM234.9 33.0h2.3v0.9h-2.3zM96.4 31.3h2.0v1.2h-2.0zM115.9 31.7h1.9v1.5h-1.9zM210.2 32.3h2.0v1.4h-2.0zM87.9 32.4h1.2v0.9h-1.2zM234.5 30.7h1.1v1.2h-1.1zM232.7 31.0h2.4v1.7h-2.4zM238.9 32.1h1.5v1.8h-1.5zM113.1 31.4h1.3v1.7h-1.3zM246.5 31.7h1.6v1.7h-1.6zM160.3 32.6h2.1v1.2h-2.1zM197.5 31.7h1.7v1.1h-1.7zM286.0 31.7h1.5v1.6h-1.5zM228.1 31.8h2.3v1.3h-2.3zM201.0 32.9h2.5v1.6h-2.5zM209.7 32.3h2.1v1.1h-2.1zM320.3 33.0h2.0v1.5h-2.0zM221.2 32.3h1.3v1.6h-1.3zM256.9 33.1h1.5v1.5h-1.5zM77.7 31.7h2.1v1.1h-2.1zM282.4 31.2h1.6v1.8h-1.6zM139.4 32.9h1.1v1.4h-1.1zM353.7 32.7h1.6v1.4h-1.6zM316.3 32.5h2.1v1.4h-2.1zM158.3 32.4h1.8v1.3h-1.8zM410.6 31.0h2.2v1.1h-2.2zM321.2 33.0h1.4v1.4h-1.4zM253.2 31.9h1.3v1.4h-1.3zM378.5 32.3h1.4v1.6h-1.4zM216.1 31.0h1.9v1.3h-1.9zM253.7 33.1h1.9v1.8h-1.9zM193.0 32.5h1.1v1.1h-1.1zM309.3 32.4h2.2v1.2h-2.2zM165.9 31.6h1.8v0.8h-1.8zM200.5 32.3h1.2v1.1h-1.2zM371.3 32.9h1.4v1.0h-1.4zM112.4 30.9h2.2v1.5h-2.2zM162.7 31.9h2.0v0.8h-2.0zM352.9 32.8h1.3v1.5h-1.3zM311.9 31.5h2.3v1.0h-2.3zM234.6 31.5h1.7v1.6h-1.7zM267.5 32.2h2.5v1.0h-2.5zM148.4 32.2h1.2v1.8h-1.2zM189.0 31.8h1.6v1.6h-1.6zM386.0 32.3h1.3v1.2h-1.3zM314.3 31.2h2.3v1.7h-2.3zM149.7 31.6h1.3v1.5h-1.3zM88.2 32.4h1.1v1.6h-1.1zM258.3 32.1h1.1v0.8h-1.1zM193.1 33.1h1.9v1.7h-1.9zM93.5 30.9h1.0v1.5h-1.0zM132.5 31.4h2.0v1.5h-2.0zM182.6 31.8h1.4v1.4h-1.4zM194.1 31.6h1.4v1.1h-1.4zM161.5 30.7h1.5v1.4h-1.5zM164.2 31.0h2.3v1.3h-2.3zM247.5 31.4h2.3v1.6h-2.3zM285.6 32.3h2.0v1.3h-2.0zM213.7 31.6h1.8v1.3h-1.8zM253.4 32.0h2.2v1.7h-2.2zM148.8 30.8h1.5v0.8h-1.5zM345.2 32.2h1.4v1.0h-1.4zM369.9 32.7h2.0v1.5h-2.0zM327.4 31.8h1.6v1.4h-1.6zM374.0 33.1h2.4v1.6h-2.4zM97.5 31.3h2.5v1.3h-2.5zM248.6 31.4h2.3v1.3h-2.3zM411.7 30.9h2.5v0.8h-2.5zM122.9 31.6h2.0v0.9h-2.0zM264.9 33.0h1.7v1.6h-1.7zM275.0 32.1h1.3v1.3h-1.3zM380.8 32.3h1.3v1.2h-1.3zM258.4 31.5h1.9v1.4h-1.9zM78.1 31.2h2.0v1.0h-2.0zM97.0 32.5h1.5v1.8h-1.5zM263.7 30.9h2.0v1.1h-2.0zM351.3 32.4h2.1v0.9h-2.1zM83.7 32.6h1.2v1.0h-1.2zM82.3 31.1h1.7v1.8h-1.7zM182.2 31.3h2.2v1.0h-2.2zM289.8 32.2h2.4v0.8h-2.4zM265.2 31.6h2.2v1.1h-2.2zM317.2 31.1h1.7v1.8h-1.7zM154.3 31.4h2.4v1.5h-2.4zM94.6 31.1h1.4v1.1h-1.4zM361.7 32.4h2.5v1.5h-2.5zM287.4 31.6h2.1v1.3h-2.1zM92.2 31.9h1.6v1.3h-1.6z" fill="#0aa3da"/><path d="M89.6 20.3h1.8v0.8h-1.8zM185.5 21.1h1.3v1.1h-1.3zM134.5 23.6h1.2v1.0h-1.2zM265.7 21.8h0.8v1.0h-0.8zM99.6 26.1h0.6v0.6h-0.6zM232.5 26.0h1.3v1.0h-1.3zM332.5 25.1h0.7v1.1h-0.7zM123.4 21.2h0.6v0.5h-0.6zM372.0 22.8h0.7v0.5h-0.7zM361.6 24.3h1.7v0.5h-1.7zM111.4 22.1h0.8v0.6h-0.8zM141.4 24.6h0.8v0.6h-0.8zM255.6 22.7h0.8v0.9h-0.8zM246.2 22.8h1.2v0.5h-1.2zM282.7 21.5h1.0v0.5h-1.0zM375.7 24.2h1.1v0.9h-1.1zM393.5 21.0h1.1v1.0h-1.1zM199.9 25.0h1.7v0.5h-1.7zM170.0 22.1h1.5v1.0h-1.5zM311.5 26.5h0.8v0.8h-0.8zM363.8 25.4h0.7v1.2h-0.7zM325.5 26.1h1.0v0.9h-1.0zM399.9 26.4h1.3v1.1h-1.3zM413.7 25.9h1.4v1.2h-1.4zM122.0 22.9h1.3v0.6h-1.3zM339.2 20.5h1.4v0.7h-1.4zM183.1 24.3h0.8v0.8h-0.8zM365.3 27.0h0.9v0.8h-0.9zM309.6 21.4h1.6v0.6h-1.6zM262.8 22.5h0.6v0.5h-0.6zM73.7 22.4h0.9v1.2h-0.9zM290.4 20.6h1.5v0.7h-1.5zM237.2 25.1h1.6v1.2h-1.6zM216.5 22.3h1.1v0.7h-1.1zM325.9 23.3h1.4v0.6h-1.4zM339.9 26.8h0.8v0.9h-0.8zM128.3 20.4h1.1v0.6h-1.1zM322.2 24.1h1.4v1.2h-1.4zM92.9 20.8h0.6v0.8h-0.6zM354.1 24.9h1.3v1.1h-1.3zM199.9 20.9h1.4v0.5h-1.4zM151.2 20.3h0.8v0.5h-0.8zM254.3 21.0h1.3v1.1h-1.3zM190.4 20.9h1.4v1.0h-1.4zM374.4 24.0h1.3v1.1h-1.3zM303.9 26.9h0.9v1.0h-0.9zM288.8 23.4h0.6v0.8h-0.6zM162.8 24.3h1.2v0.9h-1.2zM93.0 21.0h1.3v1.0h-1.3zM410.8 25.6h0.9v0.8h-0.9zM245.5 25.7h1.1v1.1h-1.1zM238.0 22.9h1.2v0.8h-1.2zM413.9 20.4h1.1v0.6h-1.1zM304.2 21.2h0.8v0.8h-0.8zM278.3 25.4h1.1v0.7h-1.1zM198.4 26.3h0.9v0.5h-0.9zM375.1 23.5h0.8v0.6h-0.8zM376.6 25.3h0.7v1.0h-0.7zM145.9 23.2h1.3v0.5h-1.3zM392.0 22.4h0.8v1.0h-0.8zM110.2 20.4h1.4v0.8h-1.4zM380.1 25.6h0.8v0.5h-0.8zM278.8 23.4h1.0v1.1h-1.0zM144.1 24.6h0.7v1.1h-0.7zM396.5 24.4h1.0v1.0h-1.0zM381.1 25.6h0.6v0.9h-0.6zM120.7 23.9h1.7v1.1h-1.7zM157.8 23.9h1.0v0.6h-1.0zM326.6 25.4h1.0v0.8h-1.0z" fill="#fff" fill-opacity="0.7"/><path d="M73.0 52.9L74.5 49.7L76.0 50.4L77.5 50.1L79.0 49.1L80.5 49.4L82.0 50.6L83.5 50.8L85.0 50.6L86.5 50.5L88.0 50.8L89.5 49.9L91.0 50.9L92.5 51.6L94.0 51.5L95.5 51.5L97.0 50.0L98.5 50.1L100.0 51.2L101.5 50.1L103.0 49.0L104.5 49.9L106.0 50.5L107.5 51.5L109.0 51.9L110.5 51.7L112.0 51.7L113.5 50.4L115.0 50.3L116.5 50.2L118.0 50.3L119.5 50.3L121.0 50.6L122.5 51.8L124.0 51.6L125.5 50.1L127.0 50.4L128.5 50.9L130.0 49.9L131.5 48.7L133.0 49.4L134.5 49.1L136.0 50.3L137.5 50.8L139.0 50.5L140.5 50.1L142.0 50.6L143.5 51.5L145.0 50.8L146.5 49.5L148.0 49.7L149.5 49.5L151.0 50.3L152.5 50.9L154.0 49.9L155.5 50.3L157.0 50.2L158.5 49.3L160.0 50.7L161.5 50.5L163.0 49.3L164.5 49.8L166.0 50.7L167.5 52.2L169.0 51.3L170.5 49.9L172.0 49.5L173.5 50.5L175.0 50.1L176.5 49.7L178.0 50.4L179.5 49.2L181.0 49.6L182.5 49.7L184.0 48.4L185.5 49.6L187.0 50.8L188.5 50.9L190.0 49.8L191.5 49.4L193.0 49.8L194.5 49.2L196.0 50.7L197.5 51.2L199.0 51.0L200.5 50.9L202.0 50.4L203.5 49.7L205.0 50.0L206.5 50.9L208.0 51.6L209.5 50.5L211.0 50.9L212.5 51.3L214.0 50.5L215.5 50.6L217.0 51.5L218.5 51.4L220.0 51.2L221.5 50.2L223.0 49.1L224.5 50.3L226.0 49.7L227.5 49.1L229.0 49.9L230.5 50.4L232.0 49.1L233.5 49.2L235.0 50.5L236.5 50.4L238.0 49.4L239.5 48.8L241.0 48.6L242.5 50.6L244.0 50.6L245.5 49.4L247.0 48.8L248.5 48.9L250.0 49.8L251.5 49.7L253.0 50.3L254.5 51.0L256.0 51.3L257.5 50.2L259.0 48.8L260.5 50.1L262.0 49.9L263.5 48.8L265.0 49.2L266.5 49.8L268.0 50.9L269.5 51.0L271.0 50.6L272.5 49.1L274.0 48.7L275.5 49.0L277.0 48.6L278.5 50.1L280.0 49.9L281.5 49.8L283.0 51.6L284.5 49.9L286.0 48.9L287.5 49.9L289.0 49.9L290.5 49.1L292.0 49.2L293.5 49.7L295.0 49.3L296.5 49.1L298.0 51.1L299.5 51.9L301.0 50.3L302.5 49.4L304.0 49.0L305.5 49.1L307.0 50.3L308.5 51.1L310.0 49.8L311.5 48.8L313.0 50.1L314.5 50.0L316.0 49.9L317.5 51.1L319.0 50.9L320.5 49.5L322.0 50.7L323.5 50.4L325.0 49.2L326.5 49.2L328.0 48.9L329.5 50.6L331.0 50.7L332.5 51.0L334.0 51.1L335.5 51.4L337.0 50.1L338.5 49.3L340.0 50.6L341.5 50.9L343.0 50.2L344.5 49.9L346.0 50.0L347.5 48.9L349.0 48.3L350.5 49.1L352.0 49.5L353.5 50.0L355.0 51.2L356.5 50.6L358.0 49.8L359.5 51.4L361.0 51.4L362.5 50.0L364.0 50.6L365.5 50.0L367.0 50.3L368.5 51.3L370.0 50.9L371.5 51.1L373.0 49.5L374.5 48.7L376.0 48.3L377.5 49.3L379.0 50.7L380.5 52.2L382.0 51.2L383.5 50.3L385.0 50.6L386.5 50.6L388.0 51.1L389.5 51.7L391.0 51.1L392.5 51.2L394.0 51.2L395.5 51.2L397.0 49.6L398.5 49.5L400.0 49.1L401.5 48.6L403.0 50.3L404.5 50.2L406.0 48.8L407.5 49.1L409.0 49.2L410.5 48.9L412.0 49.9L413.5 49.6L415.0 49.5L416.5 49.7L418.0 49.5L419.5 50.1L421.0 50.0L422.5 50.3L424.0 50.5L425.5 51.9L427.0 51.1L428.5 48.8L430.0 49.8L431.5 51.4L433.0 49.4L434.5 48.9L436.0 49.1L437.5 49.1L439.0 49.4L440.5 48.1L442.0 49.8L443.5 51.9L445.0 50.3L446.5 49.7L448.0 50.4L449.5 50.9L451.0 48.8L452.5 48.4L454.0 49.2L455.5 50.9L457.0 51.1L458.5 49.9L460.0 50.1L461.5 49.7L463.0 49.7L464.5 50.7L466.0 51.0L467.5 50.5L469.0 49.3L470.5 48.9L472.0 48.6L473.5 48.4L475.0 49.3L476.5 50.1L478.0 50.3L479.5 49.6L481.0 50.7L482.5 50.6L484.0 48.9L485.5 49.7L487.0 50.9L488.5 49.9L490.0 49.1L491.5 49.6L493.0 51.5L494.5 50.6L496.0 49.3L497.5 50.4L499.0 49.9L500.5 48.8L502.0 51.1L503.5 50.8L505.0 50.4L506.5 50.5L508.0 50.3L509.5 51.7L511.0 49.7L512.5 49.8L514.0 51.0L515.5 50.7L517.0 50.5L518.5 49.7L520.0 49.9L521.5 50.2L523.0 50.5L524.5 50.5L526.0 50.4L527.5 50.9L529.0 49.4L530.5 49.4L532.0 49.5L533.5 50.3L535.0 49.4L536.5 49.8L538.0 49.8L539.5 50.1L541.0 49.7L542.5 49.9L544.0 50.7L545.5 49.8L547.0 49.2L548.5 49.0L550.0 50.3L551.5 50.0L553.0 48.3L554.5 49.1L556.0 50.6L557.5 49.9L559.0 50.3L560.5 50.7L562.0 49.3L563.5 48.2L565.0 49.2L566.5 49.3L568.0 49.7L569.5 48.9L571.0 49.1L572.5 49.6L574.0 49.3L575.5 50.3L577.0 50.6L578.5 50.2L580.0 50.1L581.5 48.8L583.0 50.6L584.5 50.4L586.0 48.3L587.5 48.6L589.0 49.8L590.5 50.7L592.0 51.5L593.5 51.2L595.0 50.3L596.5 50.0L598.0 50.4L599.5 49.9L601.0 50.1L602.5 50.3L604.0 49.4L605.5 48.8L607.0 49.5L608.5 49.3L610.0 50.2L611.5 51.6L613.0 50.9L614.5 51.4L616.0 51.5L617.5 50.1L619.0 49.4L620.5 50.0L622.0 52.0L623.5 50.7L625.0 50.3L626.5 49.4L628.0 49.9L629.5 50.8L631.0 50.1L632.5 49.2L634.0 49.8L635.5 50.9L637.0 50.5L638.5 49.1L640.0 50.1L641.5 49.9L643.0 49.9L644.5 50.4L646.0 50.7L647.5 50.4L649.0 49.0L650.5 48.8L652.0 48.6L653.5 49.0L655.0 49.8L656.5 51.5L658.0 51.3L659.5 49.9L661.0 49.7L662.5 51.3L664.0 50.0L665.5 49.3L667.0 49.7L668.5 49.3L670.0 48.7L671.5 49.1L673.0 49.0L674.5 49.9L676.0 50.6L677.5 50.6L679.0 50.9L680.5 50.0L682.0 49.6L683.5 51.6L685.0 50.9L686.5 51.0L688.0 50.9L689.5 49.5L691.0 48.7L692.5 48.8L694.0 50.2L695.5 51.5L697.0 49.9L698.5 49.1L700.0 48.9L701.5 48.9L703.0 49.0L704.5 49.7L706.0 49.2L707.5 49.3L709.0 49.7L710.5 50.2L712.0 51.2L713.5 50.4L715.0 50.6L716.5 50.6L718.0 49.0L719.5 49.0L721.0 49.2L722.5 49.0L724.0 49.8L725.5 49.9L727.0 50.6L728.5 50.5L730.0 49.3L731.5 49.3L733.0 49.8L734.5 50.8L736.0 50.6L737.5 49.2L739.0 49.1L740.5 48.7L742.0 51.0L743.5 51.8L745.0 50.2L746.5 48.7L748.0 49.5L749.5 49.9L751.0 49.7L752.5 49.1L754.0 50.2L755.5 49.5L757.0 49.1L758.5 50.5L760.0 51.1L761.5 50.6L763.0 49.9L764.5 50.3L766.0 49.3L767.5 49.0L769.0 50.0L770.5 49.2L772.0 48.4L773.5 48.5L775.0 49.0L776.5 49.2L778.0 49.5L779.5 49.6L781.0 50.6L782.5 50.1L784.0 48.8L785.5 49.5L787.0 50.9L788.5 51.1L790.0 50.9L791.5 50.0L793.0 48.9L794.5 49.1L796.0 50.6L797.5 50.6L799.0 49.4L800.5 49.6L802.0 50.7L803.5 50.0L805.0 48.5L806.5 49.0L808.0 50.6L809.5 50.7L811.0 49.6L812.5 49.7L814.0 49.4L815.5 49.1L817.0 49.9L818.5 50.9L820.0 51.5L821.5 50.0L823.0 49.6L824.5 49.4L826.0 49.1L827.5 48.9L829.0 49.9L830.5 51.6L832.0 50.2L833.5 49.2L835.0 50.0L836.5 52.0L838.0 51.2L839.5 51.0L841.0 50.6L842.5 51.3L844.0 51.4L845.5 50.4L847.0 51.5L848.5 52.0L850.0 50.1L851.5 49.4L853.0 49.1L854.5 49.0L856.0 50.3L857.5 51.1L859.0 50.2L860.5 50.3L862.0 49.5L863.5 48.5L865.0 50.2L866.5 49.7L868.0 50.6L869.5 51.0L871.0 51.5L872.5 51.1L874.0 50.8L875.5 50.4L877.0 51.6L878.5 51.5L880.0 50.8L881.5 49.6L883.0 49.6L884.5 50.3L886.0 50.6L887.5 50.4L889.0 51.5L890.5 51.5L892.0 50.9L893.5 50.5L895.0 50.0L896.5 48.5L898.0 49.7L899.5 50.5L901.0 51.1L902.5 51.2L904.0 50.1L905.5 49.6L907.0 50.0L908.5 49.4L910.0 50.7L911.5 50.3L913.0 49.6L914.5 49.0L916.0 48.9L917.5 48.7L919.0 49.3L920.5 49.4L922.0 49.7L923.5 48.2L925.0 48.1L926.5 49.4L928.0 51.7L929.5 51.3L931.0 50.9L932.5 49.9L934.0 49.6L935.5 49.9L937.0 48.3L938.5 49.4L940.0 51.2L941.5 50.6L943.0 50.4L944.5 50.7L946.0 50.4L947.5 51.4L949.0 51.4L950.5 51.5L952.0 51.6L953.5 50.2L955.0 49.4L956.5 49.8L958.0 50.3L959.5 49.5L961.0 49.4L962.5 49.8L964.0 48.8L965.5 49.6L967.0 50.9L968.5 50.7L970.0 50.2L971.5 49.5L973.0 49.6L974.5 50.1L976.0 49.7L977.5 48.9L979.0 49.3L980.5 49.3L982.0 50.5L983.5 51.2L985.0 50.9L986.5 51.5L988.0 51.7L989.5 50.0L991.0 49.6L992.5 50.2L994.0 50.2L995.5 50.6L997.0 49.1L998.5 49.0L1000.0 50.0L1001.5 50.8L1003.0 50.6L1004.5 49.4L1006.0 48.8L1007.5 48.9L1009.0 50.1L1010.5 49.6L1012.0 49.0L1013.5 50.3L1015.0 50.4L1016.5 50.1L1018.0 48.4L1019.5 48.5L1021.0 49.0L1022.5 51.0L1024.0 50.6L1025.5 50.9L1027.0 51.2L1028.5 51.0L1030.0 50.6L1031.5 50.2L1033.0 50.8L1034.5 51.6L1036.0 50.9L1036.0 59.1L1034.5 60.7L1033.0 60.5L1031.5 62.2L1030.0 61.7L1028.5 61.5L1027.0 63.1L1025.5 60.5L1024.0 60.9L1022.5 61.0L1021.0 61.3L1019.5 62.4L1018.0 61.4L1016.5 61.6L1015.0 61.9L1013.5 59.8L1012.0 60.1L1010.5 60.3L1009.0 61.4L1007.5 63.3L1006.0 63.9L1004.5 61.9L1003.0 60.3L1001.5 59.6L1000.0 61.5L998.5 62.9L997.0 62.8L995.5 62.1L994.0 61.0L992.5 60.9L991.0 61.6L989.5 61.1L988.0 61.3L986.5 60.7L985.0 60.5L983.5 61.2L982.0 61.3L980.5 60.6L979.0 61.8L977.5 60.4L976.0 60.2L974.5 59.7L973.0 60.1L971.5 59.2L970.0 60.3L968.5 62.6L967.0 61.2L965.5 60.6L964.0 63.2L962.5 62.3L961.0 61.0L959.5 60.2L958.0 61.6L956.5 63.5L955.0 61.8L953.5 61.1L952.0 62.7L950.5 63.5L949.0 62.8L947.5 61.6L946.0 61.4L944.5 60.9L943.0 61.6L941.5 61.5L940.0 62.0L938.5 61.8L937.0 62.0L935.5 63.3L934.0 62.0L932.5 61.7L931.0 63.1L929.5 63.5L928.0 62.5L926.5 63.0L925.0 61.7L923.5 60.5L922.0 61.1L920.5 63.0L919.0 62.6L917.5 63.2L916.0 63.2L914.5 61.8L913.0 62.2L911.5 63.3L910.0 63.8L908.5 63.7L907.0 63.3L905.5 61.9L904.0 60.1L902.5 59.7L901.0 61.6L899.5 63.2L898.0 62.2L896.5 61.1L895.0 60.8L893.5 59.5L892.0 60.2L890.5 60.5L889.0 59.6L887.5 61.7L886.0 60.8L884.5 62.2L883.0 62.8L881.5 61.1L880.0 61.1L878.5 63.1L877.0 61.7L875.5 59.9L874.0 61.3L872.5 60.5L871.0 61.0L869.5 62.9L868.0 61.8L866.5 60.9L865.0 62.2L863.5 62.0L862.0 60.7L860.5 58.8L859.0 61.5L857.5 61.8L856.0 60.0L854.5 60.6L853.0 61.5L851.5 63.0L850.0 62.7L848.5 62.8L847.0 61.9L845.5 61.5L844.0 63.4L842.5 62.1L841.0 61.9L839.5 62.6L838.0 62.2L836.5 62.0L835.0 61.7L833.5 60.2L832.0 59.8L830.5 60.3L829.0 61.1L827.5 61.6L826.0 60.7L824.5 59.9L823.0 59.8L821.5 60.2L820.0 60.3L818.5 61.8L817.0 61.2L815.5 60.1L814.0 62.4L812.5 63.3L811.0 62.8L809.5 63.0L808.0 62.1L806.5 60.5L805.0 60.1L803.5 62.3L802.0 62.7L800.5 59.2L799.0 60.6L797.5 61.6L796.0 61.2L794.5 61.2L793.0 59.8L791.5 61.3L790.0 62.0L788.5 61.4L787.0 60.7L785.5 62.4L784.0 63.6L782.5 60.9L781.0 60.8L779.5 61.7L778.0 62.8L776.5 62.6L775.0 63.4L773.5 61.7L772.0 61.1L770.5 60.2L769.0 60.8L767.5 61.0L766.0 59.8L764.5 59.2L763.0 62.1L761.5 61.1L760.0 61.2L758.5 62.6L757.0 63.6L755.5 62.5L754.0 61.9L752.5 62.3L751.0 63.0L749.5 60.7L748.0 62.4L746.5 62.0L745.0 62.0L743.5 61.7L742.0 61.3L740.5 60.6L739.0 61.3L737.5 61.1L736.0 60.0L734.5 60.3L733.0 60.5L731.5 59.6L730.0 59.6L728.5 59.5L727.0 60.7L725.5 62.3L724.0 62.4L722.5 61.7L721.0 62.7L719.5 62.4L718.0 60.2L716.5 61.5L715.0 63.7L713.5 63.5L712.0 62.6L710.5 62.0L709.0 60.4L707.5 60.4L706.0 61.6L704.5 60.7L703.0 60.1L701.5 59.8L700.0 60.3L698.5 62.2L697.0 62.1L695.5 61.1L694.0 62.4L692.5 62.3L691.0 62.5L689.5 62.4L688.0 62.1L686.5 61.7L685.0 60.6L683.5 59.8L682.0 60.8L680.5 60.5L679.0 61.6L677.5 61.6L676.0 62.3L674.5 63.1L673.0 59.8L671.5 59.3L670.0 61.4L668.5 60.6L667.0 59.3L665.5 60.4L664.0 59.7L662.5 61.0L661.0 62.7L659.5 62.6L658.0 59.8L656.5 60.1L655.0 61.4L653.5 62.0L652.0 61.5L650.5 63.0L649.0 63.4L647.5 62.8L646.0 61.9L644.5 60.7L643.0 60.0L641.5 60.4L640.0 61.1L638.5 62.3L637.0 62.6L635.5 61.4L634.0 61.8L632.5 61.5L631.0 60.6L629.5 61.6L628.0 63.6L626.5 63.4L625.0 62.2L623.5 62.0L622.0 60.6L620.5 61.0L619.0 59.9L617.5 60.8L616.0 61.8L614.5 63.1L613.0 63.4L611.5 62.8L610.0 63.1L608.5 61.0L607.0 61.4L605.5 62.3L604.0 62.5L602.5 61.8L601.0 61.8L599.5 61.0L598.0 59.7L596.5 62.2L595.0 63.3L593.5 62.2L592.0 62.4L590.5 62.2L589.0 61.4L587.5 61.4L586.0 62.7L584.5 61.9L583.0 59.9L581.5 60.8L580.0 62.0L578.5 60.5L577.0 61.5L575.5 60.5L574.0 61.1L572.5 60.4L571.0 62.2L569.5 62.0L568.0 62.2L566.5 60.6L565.0 61.3L563.5 62.5L562.0 63.1L560.5 62.3L559.0 62.9L557.5 61.1L556.0 59.9L554.5 61.2L553.0 61.8L551.5 62.4L550.0 61.7L548.5 61.1L547.0 62.9L545.5 60.9L544.0 61.0L542.5 62.1L541.0 62.3L539.5 60.2L538.0 59.8L536.5 60.9L535.0 63.1L533.5 60.9L532.0 59.7L530.5 61.2L529.0 61.5L527.5 61.5L526.0 62.1L524.5 62.5L523.0 60.0L521.5 60.8L520.0 61.3L518.5 61.9L517.0 63.2L515.5 62.8L514.0 61.7L512.5 62.4L511.0 62.4L509.5 60.7L508.0 61.6L506.5 62.5L505.0 60.7L503.5 60.1L502.0 59.6L500.5 61.8L499.0 62.7L497.5 60.6L496.0 61.2L494.5 61.1L493.0 61.2L491.5 60.9L490.0 60.1L488.5 61.9L487.0 62.8L485.5 61.1L484.0 62.0L482.5 61.3L481.0 61.0L479.5 60.6L478.0 61.7L476.5 60.2L475.0 60.1L473.5 62.9L472.0 64.0L470.5 61.2L469.0 62.6L467.5 62.7L466.0 62.6L464.5 60.7L463.0 61.0L461.5 61.3L460.0 59.5L458.5 61.5L457.0 61.9L455.5 60.3L454.0 62.4L452.5 61.0L451.0 61.5L449.5 60.6L448.0 60.3L446.5 61.3L445.0 60.8L443.5 61.4L442.0 61.7L440.5 61.2L439.0 61.0L437.5 60.2L436.0 60.7L434.5 60.9L433.0 61.4L431.5 62.8L430.0 62.1L428.5 61.1L427.0 61.4L425.5 60.7L424.0 61.3L422.5 63.2L421.0 62.4L419.5 62.0L418.0 60.2L416.5 60.5L415.0 60.9L413.5 60.7L412.0 61.8L410.5 61.4L409.0 59.2L407.5 61.3L406.0 62.3L404.5 61.0L403.0 62.0L401.5 62.6L400.0 62.0L398.5 61.2L397.0 62.1L395.5 63.7L394.0 62.9L392.5 63.1L391.0 61.5L389.5 62.0L388.0 63.1L386.5 61.4L385.0 61.7L383.5 62.7L382.0 63.7L380.5 63.0L379.0 62.2L377.5 62.5L376.0 62.1L374.5 59.3L373.0 59.1L371.5 59.6L370.0 60.6L368.5 60.8L367.0 60.4L365.5 61.1L364.0 62.2L362.5 59.6L361.0 59.8L359.5 60.6L358.0 61.7L356.5 61.9L355.0 60.4L353.5 61.5L352.0 61.3L350.5 61.8L349.0 62.8L347.5 64.0L346.0 61.3L344.5 62.2L343.0 63.8L341.5 61.7L340.0 61.3L338.5 61.8L337.0 59.5L335.5 60.1L334.0 60.8L332.5 61.4L331.0 59.9L329.5 60.4L328.0 61.8L326.5 60.2L325.0 61.9L323.5 61.3L322.0 61.3L320.5 61.3L319.0 62.7L317.5 61.8L316.0 61.5L314.5 61.3L313.0 59.5L311.5 60.8L310.0 63.5L308.5 62.0L307.0 60.5L305.5 60.9L304.0 61.4L302.5 61.0L301.0 60.7L299.5 62.5L298.0 62.7L296.5 62.5L295.0 63.7L293.5 62.9L292.0 60.9L290.5 60.7L289.0 62.7L287.5 62.1L286.0 62.1L284.5 63.8L283.0 62.3L281.5 61.3L280.0 60.4L278.5 60.9L277.0 59.2L275.5 61.6L274.0 63.6L272.5 60.6L271.0 59.0L269.5 60.3L268.0 61.5L266.5 62.6L265.0 62.0L263.5 61.6L262.0 62.7L260.5 63.3L259.0 61.7L257.5 61.8L256.0 61.2L254.5 61.4L253.0 60.6L251.5 59.9L250.0 60.2L248.5 60.8L247.0 60.6L245.5 62.5L244.0 62.9L242.5 61.3L241.0 61.9L239.5 62.7L238.0 61.6L236.5 60.8L235.0 62.2L233.5 62.9L232.0 63.4L230.5 61.9L229.0 60.4L227.5 60.9L226.0 61.7L224.5 60.4L223.0 61.2L221.5 64.0L220.0 64.2L218.5 62.4L217.0 62.9L215.5 62.7L214.0 62.3L212.5 62.9L211.0 63.1L209.5 61.5L208.0 61.1L206.5 61.0L205.0 63.3L203.5 62.1L202.0 60.8L200.5 60.9L199.0 61.3L197.5 62.1L196.0 61.4L194.5 61.7L193.0 62.5L191.5 60.2L190.0 61.1L188.5 61.4L187.0 62.4L185.5 60.9L184.0 60.7L182.5 61.6L181.0 62.7L179.5 61.0L178.0 60.8L176.5 62.8L175.0 62.3L173.5 61.7L172.0 62.7L170.5 61.9L169.0 61.0L167.5 60.5L166.0 61.8L164.5 62.8L163.0 62.9L161.5 63.3L160.0 62.4L158.5 62.5L157.0 61.3L155.5 60.3L154.0 61.7L152.5 61.4L151.0 60.1L149.5 60.8L148.0 62.3L146.5 60.9L145.0 60.5L143.5 61.0L142.0 62.6L140.5 62.8L139.0 62.4L137.5 62.3L136.0 60.6L134.5 60.0L133.0 60.6L131.5 61.4L130.0 63.0L128.5 62.6L127.0 61.7L125.5 61.5L124.0 61.5L122.5 61.5L121.0 61.5L119.5 62.2L118.0 60.5L116.5 60.3L115.0 60.9L113.5 60.7L112.0 61.6L110.5 61.1L109.0 60.4L107.5 61.2L106.0 61.6L104.5 59.7L103.0 61.4L101.5 62.4L100.0 63.9L98.5 63.2L97.0 62.9L95.5 62.8L94.0 61.6L92.5 60.5L91.0 61.3L89.5 63.0L88.0 63.4L86.5 62.0L85.0 62.2L83.5 61.9L82.0 61.8L80.5 62.3L79.0 62.5L77.5 60.9L76.0 59.2L74.5 58.9L73.0 58.9ZM555.8 47.3h1.7v2.0h-1.7zM708.7 51.1h1.4v1.9h-1.4zM662.9 46.6h2.1v1.9h-2.1zM593.9 46.1h1.6v1.9h-1.6zM166.8 45.3h2.5v1.7h-2.5zM900.1 47.4h1.7v2.2h-1.7zM360.8 49.2h1.2v1.4h-1.2zM528.9 47.9h1.1v2.0h-1.1zM1000.4 49.4h2.8v2.1h-2.8zM1008.7 50.1h1.9v0.9h-1.9zM435.6 44.9h2.1v2.1h-2.1zM926.3 46.0h2.4v1.2h-2.4zM841.2 45.8h1.2v1.6h-1.2zM1002.0 47.4h2.1v2.0h-2.1zM642.6 49.3h2.2v1.3h-2.2zM511.4 47.9h1.3v1.2h-1.3zM218.5 48.9h2.0v1.6h-2.0zM448.6 49.4h2.7v0.9h-2.7zM121.6 50.0h1.5v2.2h-1.5zM393.6 46.4h1.1v1.6h-1.1zM642.7 44.8h2.6v0.9h-2.6zM531.0 50.5h1.1v2.0h-1.1zM809.1 46.6h2.4v1.0h-2.4zM737.7 51.0h1.7v0.8h-1.7zM92.8 46.9h2.4v2.2h-2.4zM945.5 50.0h2.4v1.8h-2.4zM682.2 45.4h2.8v1.3h-2.8zM224.9 50.9h2.8v0.9h-2.8zM581.2 44.7h2.8v1.3h-2.8zM504.0 49.1h2.6v0.9h-2.6zM651.6 47.0h1.7v2.0h-1.7zM735.1 49.3h1.6v1.3h-1.6zM571.1 47.9h2.1v2.0h-2.1zM263.2 45.3h2.1v1.6h-2.1zM885.2 46.4h3.2v1.1h-3.2zM500.9 46.6h1.4v1.1h-1.4zM441.7 45.9h1.5v1.8h-1.5zM363.0 50.5h1.8v0.8h-1.8zM241.2 50.2h2.2v2.1h-2.2zM487.4 46.7h1.9v1.4h-1.9zM792.4 50.8h2.6v1.9h-2.6zM390.1 47.6h1.0v2.1h-1.0zM946.5 49.2h1.7v1.3h-1.7zM634.8 46.8h2.0v1.1h-2.0zM856.6 50.6h2.5v2.1h-2.5zM970.0 47.8h1.1v1.8h-1.1zM495.6 46.9h1.6v1.6h-1.6zM903.4 46.6h2.3v1.4h-2.3zM874.9 47.9h3.1v0.9h-3.1zM994.6 46.7h2.7v1.4h-2.7zM347.6 50.4h2.3v1.0h-2.3zM666.7 48.0h3.2v1.5h-3.2zM654.5 49.0h1.0v1.4h-1.0zM984.3 48.0h1.6v1.1h-1.6zM387.8 47.6h1.6v1.5h-1.6zM231.0 45.1h1.1v1.4h-1.1zM243.0 46.3h1.4v1.3h-1.4zM731.3 44.6h1.7v2.0h-1.7zM116.9 50.8h1.2v1.3h-1.2zM971.7 49.6h1.6v1.4h-1.6zM402.0 48.3h1.1v1.9h-1.1zM495.6 50.2h1.3v1.0h-1.3zM869.2 49.0h1.8v1.7h-1.8zM122.6 46.1h1.4v2.2h-1.4zM943.0 50.5h2.4v2.2h-2.4zM357.6 46.5h2.9v2.0h-2.9zM833.3 49.1h2.5v0.8h-2.5zM368.8 46.8h2.9v1.2h-2.9zM672.6 48.9h2.0v1.3h-2.0zM377.5 47.3h2.1v1.1h-2.1zM865.4 46.2h1.9v0.9h-1.9zM363.8 48.9h2.3v2.0h-2.3zM703.7 46.7h3.2v1.9h-3.2zM780.1 50.5h2.7v1.4h-2.7zM1018.6 47.6h1.9v1.1h-1.9zM256.9 47.7h2.6v1.4h-2.6zM792.0 46.0h1.0v2.2h-1.0zM248.8 48.3h1.8v1.2h-1.8zM163.8 48.8h2.1v1.3h-2.1zM690.8 50.5h1.7v1.7h-1.7zM791.0 45.2h2.6v1.8h-2.6zM845.9 44.7h3.1v1.6h-3.1zM526.0 47.9h2.8v1.1h-2.8zM199.3 44.8h1.8v0.8h-1.8zM689.0 46.0h2.4v1.2h-2.4zM296.5 46.8h1.2v1.5h-1.2zM242.2 47.8h1.3v1.1h-1.3zM635.5 49.7h2.3v1.0h-2.3zM531.2 49.3h2.5v2.0h-2.5zM782.2 50.7h1.5v1.4h-1.5zM577.9 44.6h1.1v1.1h-1.1zM369.4 49.8h1.5v1.6h-1.5zM536.4 50.1h1.3v1.0h-1.3zM202.1 46.4h1.7v1.2h-1.7zM441.0 45.3h1.1v1.0h-1.1zM842.5 48.5h2.4v2.0h-2.4zM713.7 45.4h2.1v1.4h-2.1zM831.2 49.9h2.6v1.5h-2.6zM568.9 46.6h2.0v0.9h-2.0zM596.6 46.6h3.0v2.1h-3.0zM171.7 48.5h1.7v1.8h-1.7zM964.5 50.7h1.6v1.2h-1.6zM595.3 49.4h1.1v1.4h-1.1zM602.0 49.7h2.9v1.7h-2.9zM682.7 47.4h2.6v1.4h-2.6zM447.7 49.1h2.8v2.1h-2.8zM669.8 48.6h1.2v2.1h-1.2zM124.1 49.8h1.1v1.6h-1.1zM446.6 49.8h1.1v1.6h-1.1zM656.5 46.8h1.7v2.0h-1.7zM930.5 49.3h2.5v1.5h-2.5zM718.1 49.9h1.2v0.8h-1.2zM976.9 47.7h1.6v1.1h-1.6zM260.0 47.7h1.1v1.1h-1.1zM999.7 50.3h3.0v1.2h-3.0zM365.7 50.3h2.8v1.2h-2.8zM865.2 45.6h3.2v1.7h-3.2zM421.1 50.1h2.5v1.9h-2.5zM747.0 44.8h2.9v2.2h-2.9zM180.0 50.7h3.1v2.1h-3.1zM865.0 49.4h1.3v2.1h-1.3zM522.6 49.8h1.6v2.0h-1.6zM80.4 47.8h2.9v1.7h-2.9zM603.5 50.1h2.7v1.3h-2.7zM663.3 49.3h2.7v1.0h-2.7zM488.3 50.8h1.1v1.6h-1.1zM655.7 47.6h1.4v1.3h-1.4zM541.9 51.0h2.6v0.9h-2.6zM614.2 48.0h3.1v2.1h-3.1zM894.1 50.3h2.6v2.0h-2.6zM945.7 49.9h1.6v1.6h-1.6zM119.9 47.7h2.0v1.9h-2.0zM422.6 45.6h1.5v2.1h-1.5zM786.2 48.6h1.2v1.8h-1.2zM383.2 49.4h2.8v2.0h-2.8zM540.2 44.6h3.0v1.1h-3.0zM667.9 45.2h2.5v1.2h-2.5zM291.7 47.8h2.0v1.9h-2.0zM990.2 47.2h1.5v2.0h-1.5zM1008.2 46.1h1.6v1.4h-1.6zM596.8 49.7h2.0v1.8h-2.0zM606.8 47.6h2.2v2.1h-2.2zM213.9 44.5h1.7v1.9h-1.7zM662.9 46.0h2.4v2.1h-2.4zM945.1 46.6h3.0v1.0h-3.0zM97.2 50.9h2.3v1.9h-2.3zM400.3 45.0h1.2v1.1h-1.2zM874.1 46.9h1.1v1.1h-1.1zM915.8 46.0h2.9v1.6h-2.9zM982.7 46.0h2.0v2.1h-2.0zM1006.4 45.6h1.3v2.1h-1.3zM858.0 46.0h2.6v1.4h-2.6zM608.5 48.3h3.1v1.6h-3.1zM264.3 45.9h1.7v0.9h-1.7zM89.6 45.6h1.4v1.7h-1.4zM200.1 48.1h3.0v0.9h-3.0zM149.6 48.9h3.1v1.1h-3.1zM596.5 48.5h1.1v1.0h-1.1zM858.2 47.3h2.8v1.5h-2.8zM236.7 46.4h1.1v0.9h-1.1zM449.7 51.0h2.4v1.5h-2.4zM1024.6 47.9h1.6v1.6h-1.6zM971.3 47.0h1.9v1.9h-1.9zM595.6 49.4h2.2v1.0h-2.2zM767.9 48.4h2.5v1.2h-2.5zM310.4 45.8h2.2v1.0h-2.2zM426.9 50.0h3.1v0.8h-3.1zM773.4 47.5h2.8v1.6h-2.8zM636.2 50.7h1.5v0.8h-1.5zM423.2 49.8h1.3v1.6h-1.3zM551.8 50.1h1.6v1.2h-1.6zM331.1 47.1h2.7v1.9h-2.7zM1026.2 49.1h2.4v1.7h-2.4zM246.5 47.7h1.4v1.9h-1.4zM756.4 47.9h2.6v2.0h-2.6zM172.1 50.6h2.9v2.1h-2.9zM157.2 46.1h1.3v0.8h-1.3zM450.4 45.8h2.3v1.5h-2.3zM601.4 49.0h1.5v1.7h-1.5zM476.3 45.3h2.4v1.9h-2.4zM285.8 47.2h2.0v1.3h-2.0zM109.6 45.8h3.0v0.9h-3.0zM122.2 49.4h2.1v1.5h-2.1zM403.7 45.2h1.6v0.9h-1.6zM960.4 44.6h1.2v1.3h-1.2zM999.8 50.6h1.8v1.4h-1.8zM226.7 46.7h1.2v1.9h-1.2zM795.4 47.1h2.0v1.1h-2.0zM940.1 46.4h1.4v1.3h-1.4zM858.2 50.5h2.4v1.1h-2.4zM861.0 50.6h2.0v1.8h-2.0zM562.0 47.5h2.6v1.1h-2.6zM763.8 46.6h2.0v1.3h-2.0zM866.2 45.1h1.4v1.9h-1.4zM271.7 49.2h2.0v1.6h-2.0zM303.7 44.5h3.1v2.1h-3.1zM170.8 48.8h2.0v2.1h-2.0zM419.7 49.2h2.1v1.1h-2.1zM633.6 47.2h2.5v2.1h-2.5zM888.3 44.7h1.9v0.8h-1.9zM786.0 45.0h2.6v1.7h-2.6zM316.2 50.0h3.1v1.9h-3.1zM1018.0 49.3h2.3v2.1h-2.3zM692.9 46.6h1.8v1.0h-1.8zM794.4 45.7h3.2v1.4h-3.2zM701.7 49.4h2.8v1.3h-2.8zM199.8 49.9h1.5v1.6h-1.5zM182.8 46.0h1.9v2.1h-1.9zM535.8 48.0h3.1v1.5h-3.1zM85.6 50.5h2.9v1.1h-2.9zM924.1 49.6h2.2v2.0h-2.2zM299.2 45.0h3.1v1.7h-3.1zM271.1 48.1h1.6v1.7h-1.6zM646.5 44.6h2.2v1.7h-2.2zM990.4 48.3h2.9v0.8h-2.9zM248.7 45.4h1.7v1.8h-1.7zM306.1 45.9h1.1v1.7h-1.1zM848.6 45.3h2.0v1.9h-2.0zM474.7 47.4h2.7v0.9h-2.7zM867.7 45.4h2.7v2.2h-2.7zM578.5 49.1h2.6v2.1h-2.6zM644.9 46.7h1.1v0.9h-1.1zM584.5 50.7h1.3v1.4h-1.3zM216.6 49.3h2.2v1.5h-2.2zM998.4 50.2h2.6v1.1h-2.6zM1025.3 47.5h1.8v1.1h-1.8zM1009.7 49.9h1.4v0.8h-1.4zM394.8 48.1h1.6v1.4h-1.6zM731.6 45.3h1.5v1.5h-1.5zM596.3 49.8h2.4v1.9h-2.4zM660.6 45.3h2.3v1.6h-2.3zM959.4 46.7h1.9v1.6h-1.9zM262.3 47.5h2.4v2.0h-2.4zM420.4 49.3h3.1v1.2h-3.1zM187.0 46.2h1.2v1.4h-1.2zM721.5 46.6h3.1v1.8h-3.1zM242.5 46.9h2.2v1.5h-2.2zM484.8 45.1h2.1v1.1h-2.1zM837.1 48.6h2.5v2.0h-2.5zM862.5 47.4h1.9v1.0h-1.9zM427.9 46.3h2.3v1.3h-2.3zM214.1 49.4h2.7v0.9h-2.7zM276.3 47.8h1.7v1.4h-1.7zM863.0 46.4h2.3v1.1h-2.3zM940.5 44.6h1.5v1.1h-1.5zM816.4 49.8h2.6v1.3h-2.6zM314.4 46.6h2.5v2.1h-2.5zM303.6 50.3h2.6v1.2h-2.6zM783.6 46.0h2.6v1.4h-2.6zM282.7 49.2h1.2v1.0h-1.2zM949.4 50.3h2.6v1.8h-2.6zM211.0 47.1h2.9v1.9h-2.9zM629.7 49.8h1.9v2.0h-1.9zM232.1 50.4h2.6v1.4h-2.6zM575.5 45.4h1.7v1.9h-1.7zM240.7 48.3h2.2v0.9h-2.2zM648.2 46.7h2.0v2.1h-2.0zM774.7 45.5h1.6v1.8h-1.6zM129.1 45.4h2.0v1.4h-2.0zM876.7 49.6h1.7v0.9h-1.7zM178.9 45.1h1.1v1.3h-1.1zM311.4 45.2h2.0v1.4h-2.0zM853.9 49.4h1.0v1.1h-1.0zM80.7 46.2h2.6v0.8h-2.6zM877.3 48.0h2.6v1.6h-2.6zM668.9 50.0h2.7v2.1h-2.7zM119.6 46.5h2.6v1.9h-2.6zM878.7 47.8h2.2v1.6h-2.2zM728.0 50.8h3.0v1.2h-3.0zM797.1 47.0h2.2v1.6h-2.2zM807.3 47.7h2.8v2.1h-2.8zM1025.6 44.8h2.2v1.5h-2.2zM580.7 49.1h2.2v1.1h-2.2zM234.0 50.4h3.1v1.6h-3.1zM259.5 45.3h1.7v1.0h-1.7zM254.1 48.1h1.2v1.6h-1.2zM793.0 48.6h1.5v2.1h-1.5zM254.3 46.0h1.6v2.1h-1.6zM547.8 47.3h2.1v0.9h-2.1zM134.2 48.7h2.0v1.1h-2.0zM979.0 50.3h3.1v1.8h-3.1zM332.2 47.3h1.3v1.5h-1.3zM223.5 49.6h2.8v1.0h-2.8zM444.5 48.5h1.3v1.6h-1.3zM791.1 46.1h2.8v1.0h-2.8zM543.9 49.4h2.0v1.8h-2.0zM356.4 49.0h2.3v1.5h-2.3zM78.9 49.2h1.9v1.5h-1.9zM279.3 49.2h1.9v1.0h-1.9zM592.2 49.3h2.8v2.2h-2.8zM976.9 45.4h2.6v1.6h-2.6zM779.1 47.1h1.5v1.2h-1.5zM638.2 49.5h3.0v1.6h-3.0zM417.6 45.1h1.1v1.0h-1.1zM1033.9 49.0h2.4v1.3h-2.4zM420.5 50.9h2.9v1.2h-2.9zM91.9 50.9h1.6v1.2h-1.6zM124.1 46.2h1.6v2.1h-1.6zM877.8 50.3h2.3v1.1h-2.3zM347.6 50.7h1.2v1.8h-1.2zM557.2 46.8h1.5v2.0h-1.5zM572.5 49.9h2.8v1.2h-2.8zM349.9 46.6h2.4v2.1h-2.4zM919.7 48.1h1.8v1.8h-1.8zM604.5 46.6h1.4v1.9h-1.4zM984.2 50.1h1.1v1.9h-1.1zM247.1 48.3h3.2v1.7h-3.2zM292.0 49.2h2.2v1.1h-2.2zM758.1 45.1h2.6v1.1h-2.6zM315.4 48.0h1.9v1.7h-1.9zM464.1 44.6h1.1v1.9h-1.1zM864.6 50.0h3.1v1.2h-3.1zM157.6 45.9h1.5v1.8h-1.5zM706.6 47.7h1.4v1.1h-1.4zM297.5 48.7h3.2v2.2h-3.2zM740.9 45.5h2.4v2.1h-2.4zM109.1 48.7h3.0v0.8h-3.0zM724.8 46.0h1.7v1.6h-1.7zM292.6 51.0h2.1v0.8h-2.1zM907.9 49.6h3.0v0.9h-3.0zM372.0 46.0h1.3v1.0h-1.3zM528.0 46.7h1.8v1.3h-1.8zM933.4 48.6h1.6v1.6h-1.6zM893.4 45.1h2.8v0.8h-2.8zM131.7 46.7h1.2v0.9h-1.2zM999.0 49.3h1.0v1.1h-1.0zM444.5 45.9h2.9v1.6h-2.9zM391.1 50.9h1.2v1.8h-1.2zM214.4 47.4h1.5v1.9h-1.5zM359.3 47.1h1.4v1.7h-1.4zM869.6 45.9h2.9v1.9h-2.9zM798.6 49.3h2.8v1.6h-2.8zM938.9 48.4h3.1v0.9h-3.1zM520.7 48.6h2.1v1.2h-2.1zM677.6 44.7h1.5v2.1h-1.5zM340.1 48.2h1.9v0.9h-1.9zM193.9 46.3h1.2v2.0h-1.2zM152.9 46.6h1.3v1.1h-1.3zM327.2 49.3h1.5v1.3h-1.5zM233.9 50.4h1.5v1.3h-1.5zM848.9 45.6h3.0v1.9h-3.0zM268.6 45.6h3.0v1.7h-3.0zM238.3 50.7h1.7v1.3h-1.7zM126.3 46.4h1.1v1.7h-1.1zM728.2 45.8h2.4v1.3h-2.4zM857.6 49.7h1.3v1.2h-1.3zM574.5 46.8h2.1v1.8h-2.1zM1032.3 48.6h2.4v1.2h-2.4zM324.4 47.1h3.2v1.8h-3.2zM85.0 47.6h1.5v2.1h-1.5zM366.4 44.6h2.1v2.1h-2.1zM208.3 49.1h1.5v0.8h-1.5zM375.7 48.1h2.6v1.0h-2.6zM1006.3 45.4h2.0v2.1h-2.0zM171.5 44.9h2.3v2.1h-2.3zM369.6 45.9h3.2v1.5h-3.2zM879.3 45.1h1.4v1.9h-1.4zM639.5 47.4h2.3v2.0h-2.3zM546.1 46.6h2.0v0.9h-2.0zM801.0 50.7h2.5v1.7h-2.5zM786.3 50.8h2.3v1.6h-2.3zM496.3 46.0h2.2v1.6h-2.2zM154.1 46.8h1.3v1.4h-1.3zM76.4 51.1h2.8v1.3h-2.8zM144.1 45.3h3.1v1.3h-3.1zM294.8 51.0h2.5v2.1h-2.5zM620.1 47.7h1.5v1.2h-1.5zM1030.0 49.9h3.1v1.2h-3.1zM520.6 48.3h1.0v2.1h-1.0zM544.4 49.6h2.8v1.8h-2.8zM698.6 47.6h1.8v2.1h-1.8zM145.6 49.9h1.0v1.9h-1.0zM156.1 50.4h2.2v2.2h-2.2zM970.8 44.9h1.5v1.3h-1.5zM366.6 44.8h2.2v1.1h-2.2zM154.0 50.8h2.1v1.0h-2.1zM464.6 44.5h1.4v0.8h-1.4zM955.5 44.5h2.9v2.2h-2.9zM799.7 50.7h2.4v2.1h-2.4zM1031.4 50.7h1.9v1.4h-1.9zM630.1 45.7h1.5v1.1h-1.5zM1009.4 49.5h1.5v1.1h-1.5zM334.3 46.8h2.6v1.1h-2.6zM911.6 47.2h1.5v1.4h-1.5zM171.2 44.8h3.1v1.0h-3.1zM307.9 49.9h3.0v1.2h-3.0zM163.5 45.4h2.1v1.1h-2.1zM801.5 50.0h1.4v1.8h-1.4zM815.3 49.6h2.7v2.1h-2.7zM954.7 49.5h2.8v0.8h-2.8zM831.3 46.0h1.4v1.9h-1.4zM934.6 46.9h3.2v1.3h-3.2zM577.9 49.5h2.1v1.1h-2.1zM230.9 48.1h2.6v0.9h-2.6zM938.0 46.2h2.1v1.0h-2.1zM981.3 46.4h2.2v2.2h-2.2zM803.5 50.0h2.3v1.2h-2.3zM351.5 49.2h2.1v1.4h-2.1zM651.6 44.5h2.1v2.0h-2.1zM452.3 48.5h2.5v1.1h-2.5zM390.1 46.4h2.1v1.6h-2.1zM949.2 48.1h1.3v1.9h-1.3zM895.2 46.4h2.9v1.0h-2.9zM868.5 50.6h1.1v1.8h-1.1zM1021.7 48.6h1.3v1.7h-1.3zM268.5 46.2h1.8v1.7h-1.8zM741.6 47.6h3.1v0.9h-3.1zM443.2 49.7h1.1v1.3h-1.1zM421.3 49.2h2.3v0.8h-2.3zM382.3 45.3h2.8v1.0h-2.8zM453.6 47.2h2.7v1.6h-2.7zM234.0 50.0h1.2v1.1h-1.2zM74.5 47.9h2.5v0.9h-2.5zM851.8 50.7h2.6v1.5h-2.6zM194.2 46.1h3.2v1.2h-3.2zM379.8 44.6h2.4v1.4h-2.4zM794.8 46.7h1.4v0.9h-1.4zM644.5 50.3h1.5v1.4h-1.5zM340.1 49.6h2.0v2.1h-2.0zM932.3 49.0h2.1v2.0h-2.1zM267.5 45.7h1.3v1.9h-1.3zM152.8 50.5h1.2v1.6h-1.2zM202.4 46.8h1.1v2.1h-1.1zM266.5 49.3h1.2v1.2h-1.2zM711.0 51.1h2.8v1.3h-2.8zM737.4 51.0h2.0v1.0h-2.0zM1029.8 45.7h2.7v1.9h-2.7zM943.2 50.9h2.7v1.7h-2.7zM198.0 48.1h3.0v0.9h-3.0zM772.5 46.3h1.7v1.7h-1.7zM147.5 45.9h1.4v2.0h-1.4zM680.3 48.2h1.8v1.6h-1.8zM975.5 48.2h1.4v1.0h-1.4zM1011.5 50.6h1.7v1.3h-1.7zM138.0 50.9h1.1v2.2h-1.1zM601.9 49.4h1.4v2.0h-1.4zM124.9 47.0h1.8v1.1h-1.8zM834.5 47.7h1.5v1.0h-1.5zM102.8 50.4h2.0v1.2h-2.0zM472.1 47.6h2.5v2.0h-2.5zM573.9 45.3h1.8v1.0h-1.8zM984.6 44.9h3.2v1.3h-3.2zM203.5 50.3h3.0v1.7h-3.0zM956.0 50.5h2.9v1.4h-2.9zM746.3 47.9h2.9v0.9h-2.9zM200.0 49.0h2.3v1.6h-2.3zM722.0 49.3h2.6v1.4h-2.6zM432.1 49.9h2.9v1.9h-2.9zM125.3 49.6h2.5v1.9h-2.5zM295.9 50.2h1.3v2.1h-1.3zM81.7 48.6h2.0v1.4h-2.0zM894.3 46.2h1.3v0.9h-1.3zM876.4 45.0h3.0v2.2h-3.0zM404.6 49.5h2.3v1.0h-2.3zM163.8 50.1h1.9v1.3h-1.9zM289.4 50.6h1.1v1.7h-1.1zM725.7 45.3h2.1v1.0h-2.1zM946.2 45.9h2.6v0.9h-2.6zM493.0 46.4h2.8v1.1h-2.8zM686.7 46.0h1.0v1.6h-1.0zM592.3 48.2h1.8v1.1h-1.8zM546.0 49.1h1.8v1.5h-1.8zM827.1 47.3h1.4v1.2h-1.4zM714.3 45.4h2.8v2.1h-2.8zM960.0 48.6h2.8v1.9h-2.8zM1021.4 48.9h2.4v1.7h-2.4zM758.2 47.8h1.0v1.4h-1.0zM352.4 49.0h2.7v1.5h-2.7zM812.8 46.5h2.7v1.6h-2.7zM213.3 49.8h1.2v0.9h-1.2zM1014.7 44.7h3.1v2.1h-3.1zM156.6 47.0h2.4v1.9h-2.4zM286.7 45.9h1.5v1.2h-1.5zM276.6 49.0h2.1v0.8h-2.1zM261.0 47.6h2.1v1.5h-2.1zM369.2 47.1h2.9v1.8h-2.9zM134.5 50.3h1.1v2.1h-1.1zM609.0 48.5h2.9v1.4h-2.9zM403.9 51.0h2.4v1.9h-2.4zM774.9 49.5h1.9v1.9h-1.9zM805.0 46.5h1.5v2.2h-1.5zM131.5 50.3h2.5v0.9h-2.5zM953.6 45.0h2.9v1.1h-2.9zM867.6 50.2h2.2v2.0h-2.2zM1029.9 49.6h1.6v1.0h-1.6zM433.3 46.2h2.3v0.9h-2.3zM483.8 48.3h2.5v1.6h-2.5zM869.5 48.7h2.2v1.2h-2.2zM1002.5 48.8h1.1v1.4h-1.1zM732.8 49.7h2.5v1.8h-2.5zM118.4 45.1h2.0v1.7h-2.0zM937.1 47.0h2.6v1.2h-2.6zM515.3 49.7h1.9v1.3h-1.9zM359.4 45.6h1.6v1.4h-1.6zM187.4 49.4h3.0v2.1h-3.0zM916.1 49.5h1.8v2.0h-1.8zM321.7 46.8h1.3v1.9h-1.3zM340.3 47.7h2.9v1.3h-2.9zM300.9 46.0h2.1v1.4h-2.1zM448.0 49.6h2.8v0.9h-2.8zM106.6 50.8h2.3v1.5h-2.3zM74.0 46.1h1.9v1.7h-1.9zM854.9 45.0h1.8v1.2h-1.8zM136.1 44.8h2.1v1.5h-2.1zM1016.3 48.3h1.1v1.2h-1.1zM268.1 46.9h2.3v1.9h-2.3zM656.4 49.5h2.8v1.5h-2.8zM873.6 47.3h3.0v2.0h-3.0zM532.5 50.5h1.5v1.0h-1.5zM927.1 50.8h2.3v1.4h-2.3zM266.2 44.6h1.6v2.0h-1.6zM180.1 49.3h2.9v1.7h-2.9zM559.7 49.1h1.7v1.6h-1.7zM784.8 45.5h1.9v1.1h-1.9zM484.4 49.3h1.6v1.2h-1.6zM890.7 51.0h2.3v1.5h-2.3zM127.7 44.6h2.3v1.5h-2.3zM953.3 46.8h2.9v1.2h-2.9zM967.9 48.1h1.6v1.0h-1.6zM657.7 45.6h1.6v1.9h-1.6zM817.5 49.4h1.5v1.9h-1.5zM82.3 45.2h2.3v2.1h-2.3zM687.9 50.1h1.7v1.9h-1.7zM789.5 49.4h2.4v2.0h-2.4zM321.0 49.2h1.1v0.9h-1.1zM471.1 47.8h2.1v0.9h-2.1zM624.3 50.2h2.9v0.8h-2.9zM240.0 45.8h1.6v0.8h-1.6zM882.3 48.8h1.0v1.6h-1.0zM192.4 47.3h2.9v1.0h-2.9zM314.7 49.1h1.3v0.9h-1.3zM715.6 46.3h1.2v1.6h-1.2zM913.2 50.4h1.5v2.1h-1.5zM492.4 45.4h1.0v1.1h-1.0zM522.1 48.4h2.0v1.9h-2.0zM934.1 44.7h1.4v1.4h-1.4zM725.2 50.4h2.4v1.0h-2.4zM350.0 46.5h2.5v2.1h-2.5zM920.8 48.6h3.0v1.6h-3.0zM296.0 50.4h2.9v1.4h-2.9zM662.5 45.1h1.7v1.0h-1.7zM512.0 48.4h3.1v1.1h-3.1zM172.7 46.0h1.4v1.6h-1.4zM865.2 49.3h1.6v1.8h-1.6zM380.5 47.1h2.8v1.5h-2.8zM745.7 44.8h2.3v1.1h-2.3zM514.1 48.6h1.0v2.1h-1.0zM736.6 48.1h1.5v1.2h-1.5zM388.2 44.7h1.6v0.8h-1.6zM966.6 49.9h2.0v1.2h-2.0zM543.6 48.7h1.5v1.8h-1.5zM274.5 49.3h2.2v1.2h-2.2zM931.5 48.7h2.1v0.9h-2.1zM292.5 47.5h1.5v1.5h-1.5zM129.1 48.3h1.2v1.4h-1.2zM427.1 46.6h2.7v1.6h-2.7zM821.2 50.0h3.1v1.0h-3.1zM944.1 45.5h2.2v0.9h-2.2zM978.2 47.2h1.9v1.1h-1.9zM951.9 45.6h1.0v1.5h-1.0zM628.2 49.4h1.3v1.5h-1.3zM830.8 51.0h1.4v2.0h-1.4zM343.7 50.2h2.8v1.1h-2.8zM102.8 45.7h2.7v1.7h-2.7zM302.5 50.8h2.8v1.5h-2.8zM325.8 49.9h2.7v2.0h-2.7zM951.5 49.5h1.1v1.4h-1.1zM140.3 49.7h1.7v1.7h-1.7zM656.6 46.6h1.4v1.4h-1.4zM518.3 51.0h2.3v0.9h-2.3zM827.4 51.0h1.1v1.3h-1.1zM947.3 48.2h2.8v1.5h-2.8zM150.5 47.7h2.5v1.4h-2.5zM151.2 50.6h1.6v2.2h-1.6zM352.5 48.2h1.2v2.0h-1.2zM580.2 48.2h2.8v1.5h-2.8zM119.8 48.5h2.5v0.8h-2.5zM647.4 45.5h1.5v1.3h-1.5zM902.6 49.8h2.5v0.9h-2.5zM797.1 46.6h1.4v1.2h-1.4zM565.0 49.9h2.3v1.4h-2.3zM315.5 50.0h2.1v1.0h-2.1zM850.7 47.0h1.6v2.1h-1.6zM287.9 44.8h2.9v1.8h-2.9zM764.1 50.6h1.9v1.5h-1.9zM535.1 49.1h2.5v1.4h-2.5zM307.5 49.7h1.8v1.6h-1.8zM300.2 45.8h2.0v1.4h-2.0zM707.4 46.2h2.0v1.4h-2.0zM750.9 44.9h1.0v2.2h-1.0zM570.1 49.4h2.9v2.2h-2.9zM565.7 45.8h1.2v1.1h-1.2zM847.1 51.0h3.0v1.8h-3.0zM229.8 49.8h1.1v1.7h-1.1zM722.7 49.5h2.6v1.3h-2.6zM553.4 51.1h3.0v1.4h-3.0zM1016.2 51.1h1.2v1.9h-1.2zM699.3 50.2h2.8v2.1h-2.8zM872.0 50.7h3.1v1.0h-3.1zM710.0 47.6h1.5v1.6h-1.5zM823.5 49.9h2.5v1.9h-2.5zM625.6 46.4h2.7v1.6h-2.7zM740.3 46.1h1.3v1.8h-1.3zM515.4 48.3h2.5v2.0h-2.5zM559.1 48.9h2.7v1.2h-2.7zM289.6 49.4h1.1v1.7h-1.1zM372.5 48.2h1.4v1.5h-1.4zM228.4 47.9h2.7v2.0h-2.7zM167.9 47.7h2.7v1.7h-2.7zM696.8 49.0h2.0v1.8h-2.0zM728.8 47.5h2.9v1.7h-2.9zM238.8 47.0h2.7v1.3h-2.7zM852.7 48.3h2.5v1.3h-2.5zM767.2 47.1h2.4v1.1h-2.4zM328.6 49.0h2.6v1.8h-2.6zM627.7 46.0h2.3v1.6h-2.3zM353.9 48.0h1.7v2.1h-1.7zM730.4 50.5h2.8v1.7h-2.8zM216.5 49.4h2.6v0.9h-2.6zM814.9 47.2h1.6v0.9h-1.6zM463.2 49.2h2.0v1.5h-2.0zM259.4 48.9h2.5v2.1h-2.5zM487.6 51.1h2.4v1.9h-2.4zM884.7 51.0h1.2v0.9h-1.2zM270.8 46.8h1.8v1.3h-1.8zM107.6 49.0h1.0v1.1h-1.0zM496.5 48.6h1.6v0.9h-1.6zM639.0 46.4h1.6v1.3h-1.6zM409.4 44.7h2.2v1.0h-2.2zM659.7 47.1h1.0v1.9h-1.0zM125.6 46.1h3.0v2.1h-3.0zM359.1 45.1h1.7v1.5h-1.7zM597.0 46.7h1.4v2.0h-1.4zM651.7 50.8h2.2v2.0h-2.2zM573.1 48.2h2.2v1.5h-2.2zM140.3 45.9h2.9v2.0h-2.9zM913.6 48.9h2.6v0.9h-2.6zM729.9 48.0h1.7v1.0h-1.7zM366.0 45.3h3.1v2.2h-3.1zM603.8 50.3h2.2v2.0h-2.2zM266.7 45.4h2.9v1.7h-2.9zM922.8 48.4h2.6v1.9h-2.6zM250.2 47.0h3.0v1.9h-3.0zM435.5 47.2h1.8v1.8h-1.8zM319.9 45.4h1.1v1.2h-1.1zM489.5 47.0h1.4v2.0h-1.4zM369.0 46.9h2.2v1.1h-2.2zM490.9 47.9h2.0v1.9h-2.0zM226.1 49.9h2.1v1.3h-2.1zM571.5 50.3h3.0v1.0h-3.0zM455.9 44.9h2.0v2.1h-2.0zM216.4 45.6h2.8v1.0h-2.8zM275.4 48.6h1.2v2.2h-1.2zM840.5 48.8h1.2v1.8h-1.2zM745.9 44.8h2.3v1.1h-2.3zM709.8 47.7h1.9v1.1h-1.9zM230.6 48.0h2.6v2.2h-2.6zM320.8 45.2h3.2v0.9h-3.2zM269.4 46.5h1.3v2.1h-1.3zM489.8 50.1h1.6v1.0h-1.6zM106.9 49.7h1.9v1.3h-1.9zM1024.3 50.2h2.6v1.2h-2.6zM573.3 45.2h3.0v0.8h-3.0zM474.8 48.4h2.0v1.5h-2.0zM750.9 46.7h1.2v2.1h-1.2zM269.9 47.6h1.6v2.1h-1.6zM688.7 51.0h1.6v1.6h-1.6zM395.4 48.6h1.7v1.1h-1.7zM323.2 47.4h2.7v1.4h-2.7zM1019.6 46.9h2.9v1.5h-2.9zM593.1 46.2h2.1v1.6h-2.1zM898.1 49.8h3.0v1.1h-3.0zM854.8 48.0h2.7v2.2h-2.7zM798.1 50.3h2.1v2.1h-2.1zM448.6 45.0h2.4v1.2h-2.4zM966.7 46.8h1.6v1.0h-1.6zM467.4 47.2h1.3v1.4h-1.3zM588.1 46.1h1.1v1.5h-1.1zM852.2 49.2h1.1v1.0h-1.1zM281.0 45.5h1.7v1.1h-1.7zM381.9 44.6h1.6v1.1h-1.6zM984.7 45.8h1.6v1.5h-1.6zM651.5 46.9h1.5v1.1h-1.5zM755.1 49.2h2.0v1.4h-2.0zM787.9 49.4h1.4v1.4h-1.4zM970.4 45.2h1.2v0.8h-1.2zM288.0 51.0h2.1v1.6h-2.1zM478.6 50.0h2.4v1.7h-2.4zM122.0 48.0h2.2v1.4h-2.2zM425.2 44.6h2.0v2.1h-2.0zM604.0 46.3h3.0v1.3h-3.0zM106.2 44.7h1.2v1.9h-1.2zM235.3 48.0h3.0v2.2h-3.0zM166.3 49.9h1.1v1.4h-1.1zM237.6 44.8h1.5v1.8h-1.5zM83.8 45.8h3.1v1.6h-3.1zM981.6 44.8h1.3v1.3h-1.3zM698.7 47.1h2.5v1.5h-2.5zM863.3 50.9h2.0v0.9h-2.0zM101.8 45.6h3.1v1.7h-3.1zM758.7 48.1h2.5v2.0h-2.5zM336.7 48.5h1.9v1.3h-1.9zM461.6 47.2h1.6v1.9h-1.6zM950.5 50.8h1.2v1.1h-1.2zM955.1 47.3h2.4v2.1h-2.4zM320.7 45.7h2.1v1.7h-2.1zM639.0 48.3h2.7v1.4h-2.7zM839.3 50.4h2.1v2.2h-2.1zM433.0 49.6h2.1v1.5h-2.1zM850.1 47.9h2.1v1.3h-2.1zM448.9 47.6h2.3v0.9h-2.3zM142.7 50.8h1.9v2.1h-1.9zM146.2 50.5h1.8v2.0h-1.8zM632.0 50.4h2.1v1.3h-2.1zM719.5 50.8h1.2v1.8h-1.2zM244.2 48.2h2.0v1.4h-2.0zM721.3 48.3h1.5v1.5h-1.5zM156.7 47.1h1.6v1.7h-1.6zM373.3 47.7h2.5v1.0h-2.5zM686.3 50.6h2.5v1.0h-2.5zM676.8 44.7h1.0v1.7h-1.0zM526.1 45.2h2.5v1.5h-2.5zM1026.4 48.6h3.0v1.6h-3.0zM578.3 50.9h1.4v1.8h-1.4zM966.7 49.4h2.3v2.0h-2.3zM792.6 50.9h1.7v1.7h-1.7zM743.2 49.3h1.4v1.3h-1.4zM368.3 45.9h1.5v0.9h-1.5zM725.8 50.4h1.1v1.6h-1.1zM691.3 50.2h1.2v1.6h-1.2zM724.2 44.5h1.4v1.6h-1.4zM530.2 49.8h2.4v1.9h-2.4zM472.1 45.5h1.4v2.1h-1.4zM533.8 46.6h1.1v0.9h-1.1zM989.7 45.0h1.8v1.5h-1.8zM232.8 48.4h2.0v2.0h-2.0zM353.7 46.4h3.2v0.9h-3.2zM190.5 45.4h2.1v0.9h-2.1zM259.6 44.6h3.2v2.2h-3.2zM472.8 50.6h2.2v1.8h-2.2zM254.1 49.6h2.2v1.7h-2.2zM335.0 47.6h2.5v1.2h-2.5zM962.1 49.4h3.2v1.4h-3.2zM139.1 49.8h1.8v1.7h-1.8zM394.2 45.5h2.2v1.8h-2.2zM108.6 50.8h1.2v1.4h-1.2zM116.0 45.5h1.3v1.1h-1.3zM898.8 44.6h1.6v1.1h-1.6zM460.7 45.4h1.5v1.7h-1.5zM403.8 47.0h1.5v1.7h-1.5zM185.2 51.1h1.2v1.5h-1.2zM887.1 51.1h2.5v1.2h-2.5zM593.9 50.2h3.0v2.2h-3.0zM273.3 49.8h1.9v1.7h-1.9zM821.8 45.9h1.9v1.7h-1.9zM281.8 50.6h1.6v0.8h-1.6zM807.2 49.5h1.4v2.1h-1.4zM652.6 45.9h2.4v1.7h-2.4zM85.3 47.3h2.2v2.1h-2.2zM904.0 47.2h2.6v1.9h-2.6zM320.1 48.2h1.6v1.0h-1.6zM733.9 45.0h1.7v1.7h-1.7zM263.1 45.9h1.9v1.3h-1.9zM697.7 50.1h2.8v1.7h-2.8zM229.7 46.8h1.5v1.8h-1.5zM813.6 46.5h2.5v1.3h-2.5zM355.4 48.3h2.6v1.1h-2.6zM968.8 49.0h1.1v1.6h-1.1zM609.6 45.1h1.4v2.0h-1.4zM314.5 49.1h1.6v1.0h-1.6zM245.1 46.2h3.0v2.1h-3.0zM117.6 44.7h2.4v1.6h-2.4zM311.4 45.7h1.3v1.8h-1.3zM973.5 46.9h2.0v2.0h-2.0zM582.0 51.1h2.4v1.6h-2.4zM237.7 47.0h2.8v1.4h-2.8zM898.9 44.6h2.5v1.1h-2.5zM395.8 48.6h2.0v2.0h-2.0zM739.3 45.7h1.5v2.1h-1.5zM456.0 50.2h2.8v0.9h-2.8zM585.0 44.9h2.8v1.0h-2.8zM830.3 47.0h1.5v2.2h-1.5zM224.5 46.9h2.1v0.8h-2.1zM261.4 50.0h3.1v1.3h-3.1zM546.7 47.2h1.4v2.1h-1.4zM601.7 45.9h3.1v1.2h-3.1zM542.1 48.4h2.1v1.3h-2.1zM207.6 50.7h2.6v0.8h-2.6zM965.9 47.9h1.9v1.7h-1.9zM846.4 44.5h1.5v2.1h-1.5zM694.7 45.2h1.4v1.6h-1.4zM397.9 49.6h1.9v1.2h-1.9zM633.9 47.0h1.7v1.2h-1.7zM144.9 47.7h2.3v1.2h-2.3zM329.3 50.8h2.4v1.9h-2.4zM780.2 49.5h2.4v1.3h-2.4zM103.0 48.4h1.1v1.7h-1.1zM523.0 46.5h1.3v1.6h-1.3zM905.3 48.8h1.9v2.0h-1.9zM428.9 46.1h2.3v1.1h-2.3zM401.2 49.4h1.8v1.1h-1.8zM203.9 49.3h1.9v1.8h-1.9zM794.4 47.2h2.6v0.8h-2.6zM489.2 49.1h2.3v1.9h-2.3zM998.5 48.3h1.2v2.0h-1.2zM538.5 45.7h1.1v1.6h-1.1zM183.8 47.5h1.6v2.0h-1.6zM294.0 48.3h1.8v1.3h-1.8zM950.0 48.7h1.9v2.1h-1.9zM488.5 48.1h1.9v1.0h-1.9zM315.8 46.3h1.6v1.9h-1.6zM74.3 45.1h2.5v1.4h-2.5zM950.0 51.1h2.0v1.9h-2.0zM100.6 49.3h1.3v1.2h-1.3zM340.5 46.3h1.9v1.3h-1.9zM487.2 50.2h2.0v0.9h-2.0zM747.9 49.5h1.5v1.4h-1.5zM604.0 49.7h2.0v1.5h-2.0zM444.2 48.9h3.1v1.9h-3.1zM633.8 44.9h2.6v1.9h-2.6zM164.3 46.3h2.4v1.9h-2.4zM311.6 49.3h3.2v1.7h-3.2zM841.5 49.4h2.2v1.5h-2.2zM765.3 48.3h1.0v0.8h-1.0zM746.5 46.0h3.1v1.3h-3.1zM463.4 47.9h2.9v1.6h-2.9zM309.8 48.3h3.0v1.0h-3.0zM130.8 48.3h1.4v1.1h-1.4zM130.4 49.2h2.0v2.1h-2.0zM393.2 49.0h1.5v1.1h-1.5zM762.3 50.6h2.1v1.3h-2.1zM678.4 48.2h1.7v1.6h-1.7zM902.3 47.7h2.8v1.6h-2.8zM484.4 46.9h2.7v1.6h-2.7zM518.8 48.3h1.8v1.7h-1.8zM910.1 46.7h2.3v1.1h-2.3zM853.8 47.8h2.7v1.6h-2.7zM448.9 45.2h2.2v0.9h-2.2zM878.0 47.6h1.8v2.0h-1.8zM357.2 45.0h2.7v2.0h-2.7zM718.6 45.5h1.4v0.8h-1.4zM79.3 46.4h3.0v1.2h-3.0zM263.2 47.3h1.5v2.1h-1.5zM801.6 48.5h2.2v1.1h-2.2zM665.3 49.3h2.6v1.4h-2.6zM83.4 44.6h1.6v0.8h-1.6zM944.9 49.3h1.3v1.0h-1.3zM799.4 48.1h1.9v2.1h-1.9zM1008.9 46.4h1.5v1.8h-1.5zM976.8 51.1h3.1v1.3h-3.1zM182.4 48.4h2.5v1.6h-2.5zM260.9 50.9h2.8v1.4h-2.8zM392.3 47.3h1.7v1.9h-1.7zM488.8 46.6h3.1v1.7h-3.1zM768.6 50.5h2.3v2.2h-2.3zM158.5 47.2h3.2v1.4h-3.2zM132.8 50.4h1.5v1.8h-1.5zM778.4 50.5h1.8v1.8h-1.8zM229.0 46.5h2.3v2.0h-2.3zM86.8 47.2h2.9v2.1h-2.9zM108.5 50.9h1.5v1.5h-1.5zM144.1 45.9h3.2v0.8h-3.2zM605.3 45.9h1.3v1.3h-1.3zM902.9 46.3h2.7v2.1h-2.7zM877.5 46.8h1.1v1.1h-1.1zM596.2 47.2h3.1v1.0h-3.1zM318.1 45.9h2.9v1.2h-2.9zM724.8 50.2h1.5v2.1h-1.5zM285.1 46.2h2.9v2.1h-2.9zM758.6 46.9h2.2v1.3h-2.2zM210.6 48.1h2.4v1.0h-2.4zM781.9 47.4h2.9v1.7h-2.9zM508.4 47.2h1.8v1.5h-1.8zM469.6 50.0h2.5v2.2h-2.5zM863.2 50.8h2.1v1.0h-2.1zM679.0 45.1h1.9v1.8h-1.9zM247.9 49.7h1.5v2.0h-1.5zM317.2 45.6h2.6v2.0h-2.6zM962.7 45.7h2.7v2.0h-2.7zM683.4 48.4h1.4v2.0h-1.4zM300.6 46.9h2.2v1.9h-2.2zM725.2 48.6h1.3v1.5h-1.3zM163.7 49.3h2.7v1.6h-2.7zM353.8 48.0h1.5v1.5h-1.5zM813.5 45.0h1.0v2.2h-1.0zM555.5 48.2h3.0v1.3h-3.0zM948.2 49.0h3.1v1.7h-3.1zM254.7 50.0h3.2v1.2h-3.2zM1014.7 50.5h2.9v1.3h-2.9zM960.5 47.2h2.3v2.2h-2.3zM760.1 47.0h2.0v1.3h-2.0zM731.7 47.5h1.7v1.6h-1.7zM774.5 47.5h2.0v2.0h-2.0zM248.0 45.9h2.7v1.3h-2.7zM891.4 49.8h2.6v1.6h-2.6zM361.6 49.2h2.6v1.7h-2.6zM358.0 49.9h1.1v1.7h-1.1zM628.5 46.7h1.8v0.9h-1.8zM450.5 49.0h1.5v2.1h-1.5zM478.6 46.8h1.6v2.1h-1.6zM407.8 44.8h3.0v1.2h-3.0zM435.8 44.9h1.3v1.0h-1.3zM815.4 49.7h2.1v1.4h-2.1zM99.2 45.9h1.0v1.7h-1.0zM490.2 47.1h2.0v1.7h-2.0zM787.6 49.4h1.6v1.7h-1.6zM446.6 49.6h1.2v1.0h-1.2zM435.0 49.9h2.9v0.8h-2.9zM865.9 50.7h2.4v0.8h-2.4zM494.5 47.4h1.7v1.6h-1.7zM221.1 47.3h2.1v2.0h-2.1zM546.2 49.8h1.2v1.8h-1.2zM913.5 45.8h1.7v1.0h-1.7zM705.0 49.2h2.4v1.8h-2.4zM842.8 47.9h1.7v1.5h-1.7zM524.9 46.2h2.6v1.9h-2.6zM1032.3 45.3h3.1v1.2h-3.1zM588.6 48.4h2.6v1.1h-2.6zM177.6 47.8h3.0v1.7h-3.0zM447.9 48.7h1.2v2.1h-1.2zM790.1 48.6h2.2v2.1h-2.2zM991.8 45.5h2.8v1.1h-2.8zM569.6 50.9h2.6v1.2h-2.6zM304.3 49.2h3.2v1.2h-3.2zM629.1 48.3h2.8v1.8h-2.8zM970.4 50.2h2.8v1.0h-2.8zM943.9 50.1h1.6v1.0h-1.6zM336.0 46.1h2.9v1.9h-2.9zM949.9 45.0h2.8v1.6h-2.8zM214.9 45.4h1.7v1.2h-1.7zM842.7 44.7h2.9v1.1h-2.9zM681.2 47.0h2.3v1.2h-2.3zM122.6 46.2h1.4v1.7h-1.4zM216.6 44.8h1.8v1.8h-1.8zM804.1 50.1h2.3v1.8h-2.3zM248.0 45.2h1.1v1.1h-1.1zM690.7 48.5h2.7v1.7h-2.7zM562.3 48.5h2.7v1.0h-2.7zM178.3 51.0h1.8v1.4h-1.8zM808.4 49.7h3.1v1.1h-3.1zM746.6 47.1h1.4v1.8h-1.4zM871.0 47.4h1.9v1.3h-1.9zM870.8 49.6h2.9v1.3h-2.9zM425.0 46.2h3.1v1.1h-3.1zM226.1 45.4h1.1v1.3h-1.1zM921.9 50.9h2.9v1.2h-2.9zM1020.7 44.7h2.0v0.8h-2.0zM539.8 45.6h2.6v1.2h-2.6zM484.4 48.7h1.0v1.5h-1.0zM726.5 49.3h1.3v1.1h-1.3zM502.8 45.1h1.9v2.0h-1.9zM721.5 45.8h2.0v1.6h-2.0zM118.9 48.4h1.6v1.0h-1.6zM969.7 47.8h1.9v1.4h-1.9zM807.2 48.8h2.1v0.9h-2.1zM197.2 49.6h1.2v2.0h-1.2zM653.2 45.6h1.1v1.2h-1.1zM472.3 45.4h2.9v1.2h-2.9zM757.4 48.0h1.8v1.4h-1.8zM245.5 48.1h2.7v1.2h-2.7zM579.4 47.5h2.1v2.0h-2.1zM517.9 50.4h1.8v1.6h-1.8zM601.4 48.0h2.9v2.0h-2.9zM900.9 47.2h2.2v0.9h-2.2zM959.8 47.6h1.2v1.9h-1.2zM242.4 49.6h2.5v1.0h-2.5zM479.9 44.9h1.4v1.3h-1.4zM104.7 49.0h2.4v0.9h-2.4zM577.8 50.8h1.4v1.4h-1.4zM262.6 45.4h3.1v0.9h-3.1zM693.4 50.7h2.9v1.4h-2.9zM687.7 50.8h2.7v1.8h-2.7zM621.1 47.9h1.6v1.0h-1.6zM581.1 49.7h1.4v1.6h-1.4zM724.2 44.9h2.4v1.2h-2.4zM310.6 50.6h3.1v1.0h-3.1zM421.1 45.4h2.2v1.3h-2.2zM655.8 44.8h1.0v0.8h-1.0zM917.9 45.5h2.9v2.1h-2.9zM877.2 46.5h1.4v2.1h-1.4zM967.9 49.2h2.9v0.8h-2.9zM650.6 50.7h2.6v2.1h-2.6zM674.8 46.9h3.2v1.1h-3.2zM966.5 44.9h2.9v2.0h-2.9zM909.0 46.5h3.2v2.2h-3.2zM401.5 50.8h2.4v1.0h-2.4zM834.1 49.0h1.6v1.7h-1.6zM449.3 45.6h2.1v1.5h-2.1zM193.2 44.9h2.2v1.0h-2.2zM802.9 47.3h3.2v1.1h-3.2zM609.0 50.5h2.8v1.9h-2.8zM792.7 44.6h1.9v1.4h-1.9zM637.5 47.3h1.6v1.9h-1.6zM900.4 49.9h3.0v1.6h-3.0zM676.7 49.5h1.6v1.1h-1.6zM612.5 50.2h3.1v1.6h-3.1zM1011.3 49.1h1.5v1.8h-1.5zM485.0 50.7h2.5v1.9h-2.5zM866.0 48.2h2.3v1.1h-2.3zM119.7 45.4h1.3v1.5h-1.3zM902.6 51.0h2.7v1.4h-2.7zM278.6 47.3h1.9v1.7h-1.9zM348.4 46.8h3.2v2.0h-3.2zM725.0 45.7h1.7v1.3h-1.7zM482.9 45.6h1.1v1.5h-1.1zM696.0 49.2h2.3v1.6h-2.3zM864.8 50.5h1.1v1.9h-1.1zM439.0 46.2h2.7v1.0h-2.7zM758.0 49.9h2.5v2.0h-2.5zM790.1 48.8h1.7v1.4h-1.7zM943.6 47.4h1.7v2.0h-1.7zM390.3 50.3h3.0v1.1h-3.0zM885.3 47.6h1.2v1.1h-1.2zM879.9 45.6h2.2v1.6h-2.2zM994.3 51.1h2.5v1.5h-2.5zM838.9 44.9h2.5v1.6h-2.5zM224.9 47.6h2.2v0.8h-2.2zM604.6 47.2h1.2v1.9h-1.2zM872.1 50.0h2.0v2.1h-2.0zM896.4 46.3h1.4v1.6h-1.4zM644.6 49.4h1.1v1.5h-1.1zM739.1 49.1h2.3v1.2h-2.3zM902.3 49.5h2.9v1.9h-2.9zM593.3 44.5h1.7v2.1h-1.7zM821.2 46.5h3.1v1.9h-3.1zM531.5 50.8h1.2v1.1h-1.2zM542.5 45.7h1.4v0.9h-1.4zM93.9 46.5h2.6v2.1h-2.6zM630.9 49.3h2.7v1.5h-2.7zM689.8 48.6h2.9v1.3h-2.9zM903.9 47.8h1.5v1.6h-1.5zM130.7 45.9h1.4v1.2h-1.4zM955.4 45.9h1.7v1.8h-1.7zM193.9 48.1h1.4v1.5h-1.4zM949.5 44.7h2.9v0.9h-2.9zM1018.0 45.9h2.7v0.8h-2.7zM154.2 46.6h2.2v0.8h-2.2zM155.5 46.3h3.1v1.4h-3.1zM491.7 46.5h1.4v1.2h-1.4zM697.7 45.0h3.0v0.8h-3.0zM584.2 45.0h2.5v0.9h-2.5zM768.5 44.8h1.5v1.0h-1.5zM828.6 48.4h2.2v1.3h-2.2zM423.2 49.3h1.3v1.4h-1.3zM687.5 47.1h2.4v1.0h-2.4zM997.8 50.2h3.1v2.1h-3.1zM593.7 51.0h2.7v1.8h-2.7zM718.8 49.5h1.5v1.3h-1.5zM122.9 45.6h2.3v2.0h-2.3zM990.7 46.7h1.9v1.1h-1.9zM926.0 46.9h2.1v0.9h-2.1zM471.4 46.0h2.4v1.5h-2.4zM839.1 49.6h1.5v1.8h-1.5zM693.1 49.9h1.0v2.1h-1.0zM599.0 50.3h2.6v1.0h-2.6zM819.9 49.8h2.0v2.2h-2.0zM972.0 50.7h2.8v1.5h-2.8zM306.9 49.6h3.0v1.4h-3.0zM645.0 47.7h2.7v0.9h-2.7zM1033.2 49.5h2.9v1.0h-2.9zM314.9 62.1h2.2v1.2h-2.2zM855.7 61.6h1.9v1.2h-1.9zM963.2 61.4h1.2v1.3h-1.2zM664.0 61.7h1.6v1.5h-1.6zM951.4 61.9h2.2v1.0h-2.2zM507.4 60.8h1.4v1.4h-1.4zM248.1 61.7h2.1v1.4h-2.1zM585.1 61.9h2.4v1.4h-2.4zM509.8 60.8h2.3v1.3h-2.3zM707.1 60.0h2.2v1.8h-2.2zM612.2 60.0h1.0v1.1h-1.0zM326.6 61.4h2.5v1.5h-2.5zM807.1 61.2h1.8v1.7h-1.8zM346.1 60.6h1.3v1.3h-1.3zM469.8 61.6h2.2v1.4h-2.2zM439.7 62.0h1.1v0.8h-1.1zM577.6 60.0h2.0v1.4h-2.0zM554.7 60.3h2.3v1.1h-2.3zM131.6 60.5h2.0v1.7h-2.0zM592.0 61.3h1.2v1.4h-1.2zM222.6 60.2h1.5v1.8h-1.5zM810.3 60.9h1.6v1.0h-1.6zM188.8 59.8h1.6v1.2h-1.6zM659.3 60.5h2.1v1.1h-2.1zM348.8 60.1h2.1v1.2h-2.1zM297.9 60.7h1.2v0.8h-1.2zM682.5 60.3h2.3v1.7h-2.3zM357.1 61.2h2.2v1.0h-2.2zM244.3 61.4h1.5v1.3h-1.5zM340.3 60.4h2.0v1.6h-2.0zM712.6 60.4h1.7v1.6h-1.7zM665.7 61.6h1.5v0.9h-1.5zM964.3 59.8h2.1v1.2h-2.1zM342.7 61.2h1.8v0.9h-1.8zM309.7 62.0h2.4v1.3h-2.4zM1016.2 60.2h2.3v1.7h-2.3zM1001.1 62.0h1.8v1.0h-1.8zM739.1 60.9h2.3v0.9h-2.3zM81.1 60.0h1.0v1.7h-1.0zM698.8 59.7h2.4v1.4h-2.4zM682.8 60.2h1.8v1.2h-1.8zM923.4 60.9h1.2v1.4h-1.2zM759.8 61.1h1.3v0.9h-1.3zM509.8 61.2h1.5v1.6h-1.5zM1018.4 61.5h1.2v1.2h-1.2zM230.8 61.7h1.2v1.7h-1.2zM150.7 60.3h1.7v1.4h-1.7zM510.3 60.6h1.5v1.2h-1.5zM925.9 61.3h2.1v1.2h-2.1zM154.0 60.1h1.2v1.4h-1.2zM596.8 62.0h1.3v1.6h-1.3zM549.0 61.2h1.2v1.1h-1.2zM829.0 60.2h1.8v0.9h-1.8zM547.5 61.0h1.8v1.8h-1.8zM785.4 60.9h1.9v1.2h-1.9zM770.3 59.7h1.4v1.5h-1.4zM885.6 60.7h2.4v1.2h-2.4zM467.6 61.4h1.3v1.5h-1.3zM253.8 62.0h1.5v1.5h-1.5zM674.7 61.6h1.9v1.0h-1.9zM624.8 61.1h1.5v1.3h-1.5zM951.2 59.8h1.3v1.7h-1.3zM612.8 61.7h2.4v1.5h-2.4zM526.5 61.1h2.0v1.3h-2.0zM86.0 62.0h1.7v1.8h-1.7zM1021.4 61.2h1.9v1.8h-1.9zM553.4 60.7h2.5v0.9h-2.5zM682.7 61.4h1.5v1.1h-1.5zM320.5 60.7h1.8v1.0h-1.8zM833.1 60.7h1.7v1.6h-1.7zM673.5 61.3h2.3v1.7h-2.3zM217.7 60.9h2.4v1.5h-2.4zM522.7 61.9h2.2v1.3h-2.2zM294.7 60.4h1.9v1.0h-1.9zM580.6 61.6h1.8v1.4h-1.8zM645.3 61.7h1.6v1.2h-1.6zM458.1 60.4h2.4v1.2h-2.4zM570.5 61.3h2.0v1.4h-2.0zM322.9 60.3h2.3v1.7h-2.3zM910.4 59.9h1.8v1.4h-1.8zM404.2 59.9h1.4v1.5h-1.4zM717.7 61.4h2.1v1.7h-2.1zM664.2 60.2h2.3v1.1h-2.3zM270.3 60.4h1.9v1.3h-1.9zM780.0 60.6h1.3v1.6h-1.3zM179.2 60.9h1.9v1.1h-1.9zM853.8 61.1h2.2v1.4h-2.2zM553.2 61.9h2.0v1.6h-2.0zM470.6 61.4h1.6v1.3h-1.6zM623.0 62.0h1.5v1.6h-1.5zM782.8 59.9h1.1v1.7h-1.1zM506.0 61.4h1.7v1.4h-1.7zM833.1 60.0h1.1v1.6h-1.1zM803.5 62.1h2.0v1.6h-2.0zM559.5 60.6h1.4v1.3h-1.4zM911.1 60.9h1.5v1.2h-1.5zM422.3 61.3h2.4v1.6h-2.4zM693.4 61.9h1.7v0.8h-1.7zM352.8 61.3h1.7v0.9h-1.7zM88.6 61.4h1.8v1.8h-1.8zM923.9 61.6h1.2v1.5h-1.2zM723.8 61.5h1.7v1.5h-1.7zM277.1 62.0h1.4v1.3h-1.4zM707.2 60.5h2.4v1.0h-2.4zM142.4 60.7h1.7v1.2h-1.7zM1009.5 61.2h2.2v1.6h-2.2zM356.9 61.0h1.6v1.3h-1.6zM667.5 61.6h1.7v1.1h-1.7zM754.4 59.8h1.9v0.9h-1.9zM439.2 60.9h2.0v1.4h-2.0zM858.8 60.3h2.1v1.4h-2.1zM945.1 60.0h1.3v1.0h-1.3zM628.1 60.1h2.3v1.5h-2.3zM652.0 61.2h1.3v0.8h-1.3zM114.9 61.3h2.3v1.0h-2.3zM861.4 59.7h2.4v1.0h-2.4zM418.4 62.1h2.3v1.6h-2.3zM902.7 61.3h1.8v1.3h-1.8zM580.4 61.2h1.6v0.8h-1.6zM503.4 61.8h2.4v1.5h-2.4zM990.5 60.5h1.1v1.1h-1.1zM971.5 60.9h1.1v1.1h-1.1zM944.2 61.0h1.3v1.4h-1.3zM320.9 62.0h1.3v1.6h-1.3zM813.0 61.0h2.5v1.4h-2.5zM97.3 59.8h1.9v1.4h-1.9zM819.7 61.5h2.4v1.1h-2.4zM861.6 61.5h1.3v0.9h-1.3zM729.9 60.1h1.7v1.1h-1.7zM122.6 62.1h1.4v1.7h-1.4zM257.8 61.8h2.2v1.7h-2.2zM392.3 61.8h1.6v1.3h-1.6zM363.3 60.8h2.2v1.5h-2.2zM925.2 59.8h1.9v1.0h-1.9zM221.1 62.1h2.2v0.9h-2.2zM504.0 61.4h1.7v1.3h-1.7zM300.5 62.0h2.5v1.4h-2.5zM684.5 61.2h2.5v0.9h-2.5zM655.6 60.3h1.2v1.0h-1.2zM258.9 61.0h2.1v1.2h-2.1zM975.5 59.9h1.4v1.0h-1.4zM559.8 61.7h1.8v1.3h-1.8zM390.7 61.9h1.1v1.1h-1.1zM710.9 60.9h1.9v0.8h-1.9zM193.2 60.5h2.1v1.7h-2.1zM880.0 61.5h2.1v1.6h-2.1zM745.9 61.1h2.2v0.9h-2.2zM861.8 61.8h1.5v1.1h-1.5zM87.2 60.0h1.9v1.1h-1.9zM382.0 62.1h1.4v1.0h-1.4zM827.3 60.3h1.0v1.8h-1.0zM132.4 61.0h2.5v1.5h-2.5zM918.9 61.7h1.4v1.1h-1.4zM989.7 61.7h1.7v1.5h-1.7zM612.0 60.4h2.4v0.9h-2.4zM132.1 62.0h2.4v0.9h-2.4zM559.6 61.1h2.5v1.1h-2.5zM1029.7 61.7h1.8v1.0h-1.8zM777.1 61.8h1.6v0.9h-1.6zM639.9 61.2h1.0v1.4h-1.0zM129.2 60.8h1.0v1.7h-1.0zM202.0 61.9h1.8v0.8h-1.8zM468.8 60.2h2.2v1.8h-2.2zM565.7 61.5h2.4v1.8h-2.4zM509.8 60.3h2.0v1.1h-2.0zM432.7 61.8h1.1v0.9h-1.1zM899.6 60.2h1.5v0.9h-1.5zM184.2 60.4h1.0v1.1h-1.0zM1014.1 60.8h1.1v1.0h-1.1zM475.8 61.5h1.2v1.4h-1.2zM877.8 61.1h2.1v1.1h-2.1zM121.7 61.8h2.0v0.9h-2.0zM719.8 59.9h1.2v1.6h-1.2zM314.2 59.8h2.4v1.2h-2.4zM575.3 61.4h1.1v1.6h-1.1zM418.6 60.3h1.2v1.5h-1.2zM338.8 59.9h2.2v1.3h-2.2zM81.2 60.5h2.0v1.4h-2.0zM252.1 60.4h2.0v1.1h-2.0zM951.8 61.0h2.3v1.4h-2.3zM194.3 60.1h1.3v1.0h-1.3zM269.8 61.3h1.6v1.1h-1.6zM988.4 60.6h1.9v1.7h-1.9zM828.8 60.0h1.7v1.8h-1.7zM124.7 61.1h2.1v1.0h-2.1zM737.8 60.9h1.1v1.6h-1.1zM547.5 61.6h1.5v0.9h-1.5zM921.6 60.2h2.3v1.0h-2.3zM396.2 62.0h1.3v1.2h-1.3zM947.3 62.0h2.2v1.2h-2.2zM914.8 61.3h2.5v1.6h-2.5zM232.4 60.8h1.8v0.8h-1.8zM305.2 60.5h2.4v1.8h-2.4zM299.2 61.6h2.0v1.2h-2.0zM103.7 61.4h1.1v1.1h-1.1zM633.9 61.3h2.0v1.6h-2.0zM936.0 61.9h1.2v0.9h-1.2zM784.6 60.6h1.5v1.7h-1.5zM160.2 61.8h2.1v1.3h-2.1zM313.6 61.3h1.5v1.7h-1.5zM892.6 60.2h1.2v1.8h-1.2zM420.6 60.8h2.2v1.6h-2.2zM183.6 62.0h2.2v1.8h-2.2zM984.1 61.8h2.1v1.6h-2.1zM679.0 60.1h2.4v1.1h-2.4zM219.5 62.1h1.7v0.9h-1.7zM820.6 60.3h2.4v1.8h-2.4zM131.5 60.3h2.3v1.3h-2.3zM550.8 60.6h2.1v0.9h-2.1zM213.7 61.6h2.2v1.6h-2.2zM778.4 61.1h2.1v1.7h-2.1zM541.8 60.1h1.9v0.9h-1.9zM970.8 62.0h2.1v1.7h-2.1zM114.1 60.1h2.4v1.8h-2.4zM665.4 60.8h2.2v1.5h-2.2zM940.1 59.9h1.2v0.9h-1.2zM390.3 61.7h2.3v1.8h-2.3zM593.1 60.3h1.1v1.0h-1.1zM464.0 61.2h2.5v1.7h-2.5zM135.1 60.0h1.7v1.1h-1.7zM107.4 61.2h1.4v1.6h-1.4zM329.9 61.7h1.2v1.2h-1.2zM721.4 60.2h1.1v0.9h-1.1zM560.3 61.4h1.6v0.9h-1.6zM671.6 60.4h2.3v0.9h-2.3zM358.4 61.5h2.0v1.7h-2.0zM365.3 60.3h1.3v0.9h-1.3zM965.6 60.6h1.5v1.6h-1.5zM625.9 60.0h2.3v1.3h-2.3zM1036.0 60.2h1.3v0.8h-1.3zM227.8 61.8h1.8v1.5h-1.8zM435.8 61.3h1.0v1.5h-1.0zM686.2 60.3h1.1v1.7h-1.1zM415.5 60.3h1.6v1.0h-1.6zM856.2 61.2h2.1v1.4h-2.1zM189.0 61.9h1.1v1.8h-1.1zM932.7 61.9h1.4v1.7h-1.4zM325.9 60.7h2.2v1.5h-2.2zM970.9 61.0h1.5v1.1h-1.5zM652.9 60.4h1.9v1.3h-1.9zM492.7 61.6h1.1v1.0h-1.1zM532.0 60.2h1.8v1.1h-1.8zM290.5 60.8h1.2v1.5h-1.2zM221.1 61.8h1.7v1.0h-1.7zM837.4 60.8h2.1v1.0h-2.1zM496.6 60.1h2.0v1.5h-2.0zM420.3 60.6h1.1v1.0h-1.1zM954.7 61.1h1.3v1.7h-1.3zM548.4 61.8h1.0v1.5h-1.0zM991.7 60.0h1.0v1.7h-1.0zM1018.0 61.0h1.6v1.7h-1.6zM473.8 60.9h1.5v1.6h-1.5zM818.9 61.9h1.4v1.2h-1.4zM655.1 61.3h2.0v1.3h-2.0zM433.9 60.5h1.5v1.3h-1.5zM928.7 61.3h1.4v1.1h-1.4zM353.9 62.0h2.4v1.8h-2.4zM670.4 61.0h2.1v1.0h-2.1zM788.7 61.5h1.5v1.3h-1.5zM293.1 61.8h2.3v1.0h-2.3zM142.6 62.0h2.2v1.5h-2.2zM286.9 60.2h2.4v1.6h-2.4zM673.7 60.6h2.2v1.7h-2.2zM374.7 60.2h2.1v1.4h-2.1zM473.3 61.0h1.4v1.1h-1.4zM448.6 60.7h1.5v1.8h-1.5zM558.8 60.4h1.0v1.3h-1.0zM667.9 61.9h1.2v1.7h-1.2zM1017.2 61.1h1.2v1.4h-1.2zM549.7 61.3h1.0v1.2h-1.0zM129.9 60.6h2.1v0.9h-2.1zM746.6 62.1h1.8v1.2h-1.8zM869.2 61.8h1.5v1.0h-1.5zM208.3 61.7h2.0v0.8h-2.0zM805.3 61.8h2.3v1.5h-2.3zM843.4 59.9h1.2v1.2h-1.2zM468.9 60.9h2.0v1.6h-2.0zM808.3 60.7h1.1v1.2h-1.1zM122.5 61.6h2.3v0.9h-2.3zM678.1 61.1h2.1v0.9h-2.1zM712.2 60.3h2.0v1.5h-2.0zM972.4 59.7h2.3v0.9h-2.3zM923.8 60.6h1.9v1.7h-1.9zM160.8 60.1h2.0v1.6h-2.0zM481.3 61.2h1.8v1.7h-1.8zM622.1 60.2h1.7v1.1h-1.7zM948.4 60.4h2.3v1.2h-2.3zM739.5 59.9h2.0v1.2h-2.0zM417.9 60.2h1.5v1.6h-1.5z" fill="#0aa3da"/><path d="M630.6 50.6h1.2v0.7h-1.2zM538.5 54.6h1.2v0.9h-1.2zM425.2 51.2h1.4v1.1h-1.4zM848.5 55.8h1.7v1.1h-1.7zM621.7 54.3h1.3v1.1h-1.3zM884.7 53.7h0.6v1.2h-0.6zM196.7 54.4h1.7v1.0h-1.7zM341.1 49.2h1.0v1.1h-1.0zM1010.6 50.5h1.3v0.9h-1.3zM959.6 51.4h0.8v0.5h-0.8zM525.6 52.6h1.6v1.0h-1.6zM504.4 53.8h0.7v0.6h-0.7zM510.0 55.8h1.6v1.2h-1.6zM644.2 50.7h1.0v1.2h-1.0zM409.1 52.6h1.2v1.1h-1.2zM332.2 51.3h0.8v0.7h-0.8zM488.9 52.0h1.6v0.9h-1.6zM139.6 54.5h0.6v1.0h-0.6zM370.9 49.5h1.4v1.1h-1.4zM917.2 51.4h1.5v1.0h-1.5zM144.7 54.4h0.9v0.9h-0.9zM316.1 50.7h0.7v0.8h-0.7zM1028.0 52.6h1.0v1.0h-1.0zM275.5 54.5h0.8v1.1h-0.8zM247.0 49.3h1.4v0.6h-1.4zM105.1 52.5h1.8v0.9h-1.8zM620.5 50.9h1.2v1.1h-1.2zM750.1 51.9h0.7v0.6h-0.7zM1011.5 50.2h1.0v1.1h-1.0zM873.7 52.2h1.1v1.1h-1.1zM76.4 55.6h0.9v0.6h-0.9zM254.1 53.6h0.8v0.6h-0.8zM1021.7 54.1h1.8v0.7h-1.8zM338.1 49.8h1.3v1.1h-1.3zM453.0 51.6h0.8v1.1h-0.8zM84.6 50.9h1.6v1.0h-1.6zM135.2 53.0h0.7v1.2h-0.7zM411.6 54.8h0.6v0.8h-0.6zM483.7 54.7h1.1v1.1h-1.1zM760.5 50.7h1.2v1.1h-1.2zM221.1 51.9h1.7v0.9h-1.7zM187.8 52.6h0.9v0.9h-0.9zM955.7 53.4h1.0v0.9h-1.0zM342.2 54.7h0.8v0.7h-0.8zM589.2 50.5h0.7v0.8h-0.7zM161.3 51.0h0.8v0.7h-0.8zM510.8 50.1h1.3v0.8h-1.3zM854.5 55.0h1.0v1.2h-1.0zM794.2 49.3h1.7v1.2h-1.7zM626.1 55.1h0.7v1.2h-0.7zM1010.9 54.3h1.2v0.7h-1.2zM483.3 52.0h1.7v1.1h-1.7zM764.8 49.3h1.1v0.5h-1.1zM653.7 54.2h0.9v0.9h-0.9zM1034.0 52.7h0.6v0.6h-0.6zM433.7 54.7h0.6v1.0h-0.6zM249.6 55.2h0.8v0.7h-0.8zM963.0 55.9h0.9v0.6h-0.9zM535.9 50.8h0.6v0.6h-0.6zM903.1 49.7h1.0v1.1h-1.0zM286.3 51.5h1.0v0.6h-1.0zM441.6 51.7h0.6v0.6h-0.6zM194.7 52.5h1.5v0.6h-1.5zM178.0 54.9h1.4v0.8h-1.4zM961.7 52.8h1.3v0.6h-1.3zM130.2 55.9h1.7v0.8h-1.7zM797.9 50.7h1.8v1.1h-1.8zM529.3 56.0h1.5v0.9h-1.5zM490.8 52.7h1.0v0.6h-1.0zM1017.3 50.1h1.4v0.6h-1.4zM958.5 52.5h1.3v0.8h-1.3zM480.2 50.7h1.1v1.1h-1.1zM302.7 51.0h1.0v0.7h-1.0zM629.5 52.6h0.9v0.9h-0.9zM967.6 51.5h0.9v1.2h-0.9zM346.6 49.5h1.7v0.9h-1.7zM716.5 55.0h0.8v1.0h-0.8zM878.3 50.9h0.9v1.0h-0.9zM75.5 50.1h1.1v1.0h-1.1zM826.6 55.5h0.9v1.1h-0.9zM455.3 53.9h1.4v0.6h-1.4zM790.8 51.1h1.1v0.8h-1.1zM418.3 51.4h1.0v1.2h-1.0zM831.0 52.9h1.6v1.1h-1.6zM597.8 55.7h1.0v0.9h-1.0zM963.7 55.9h1.3v1.1h-1.3zM626.0 53.5h1.7v0.9h-1.7zM952.3 54.6h0.7v1.1h-0.7zM395.6 50.3h1.6v1.1h-1.6zM807.5 50.6h1.1v0.9h-1.1zM477.4 53.0h1.7v1.0h-1.7zM228.3 53.6h1.0v0.5h-1.0zM873.1 55.1h0.7v1.1h-0.7zM667.7 54.0h1.3v0.6h-1.3zM1017.7 50.5h1.0v0.9h-1.0zM492.6 50.0h1.2v1.1h-1.2zM1000.2 55.1h0.7v0.8h-0.7zM897.7 54.2h1.5v0.9h-1.5zM484.8 52.0h1.4v1.0h-1.4zM654.7 53.5h1.1v1.1h-1.1zM696.0 50.2h1.4v1.1h-1.4zM871.2 53.8h1.4v1.1h-1.4zM617.9 52.7h0.8v1.2h-0.8zM815.8 49.8h1.0v0.6h-1.0zM199.1 52.2h1.3v0.7h-1.3zM108.4 55.5h0.7v0.9h-0.7zM893.2 53.9h1.6v1.1h-1.6zM86.4 52.3h1.5v1.1h-1.5zM1027.1 51.8h0.6v0.6h-0.6zM153.3 51.9h0.8v0.9h-0.8zM753.1 52.0h1.6v1.0h-1.6zM321.2 55.7h1.6v0.7h-1.6zM471.3 55.8h1.7v0.5h-1.7zM395.1 53.0h1.8v0.8h-1.8zM727.2 52.7h1.2v0.6h-1.2zM871.2 52.7h1.0v1.0h-1.0zM899.5 53.9h1.4v1.0h-1.4zM920.9 49.3h1.3v0.5h-1.3zM460.3 52.7h1.3v0.8h-1.3zM1015.1 50.0h1.2v0.6h-1.2zM228.0 51.2h1.5v0.5h-1.5zM850.6 53.3h1.0v0.6h-1.0zM667.8 53.2h1.4v0.7h-1.4zM576.4 51.4h1.4v1.1h-1.4zM492.4 50.1h1.6v0.9h-1.6zM526.8 52.4h0.9v1.2h-0.9zM741.7 52.4h1.6v1.1h-1.6zM440.3 54.7h1.6v1.1h-1.6zM999.8 55.9h0.9v0.8h-0.9zM869.0 55.7h1.3v0.6h-1.3zM1010.0 54.1h1.8v1.0h-1.8zM229.6 53.2h1.0v0.7h-1.0zM998.2 52.7h1.1v0.8h-1.1zM287.7 52.1h1.0v1.0h-1.0zM764.7 49.4h1.0v0.9h-1.0zM808.1 49.7h1.2v0.8h-1.2zM336.2 50.6h1.2v0.6h-1.2zM641.7 54.7h1.8v1.1h-1.8zM736.8 52.4h1.8v1.2h-1.8zM663.1 51.5h1.0v0.8h-1.0zM506.3 54.3h1.5v0.6h-1.5zM965.8 50.6h0.8v0.5h-0.8zM920.6 54.2h1.4v0.6h-1.4zM927.0 54.1h1.1v0.5h-1.1zM229.3 55.6h1.8v0.6h-1.8zM691.6 54.9h0.9v0.6h-0.9zM1005.8 55.0h1.6v0.7h-1.6zM561.4 55.4h0.7v0.9h-0.7zM383.5 50.6h1.0v1.1h-1.0zM718.6 49.4h0.9v0.9h-0.9zM146.6 50.4h0.7v0.5h-0.7zM272.8 54.2h1.1v0.7h-1.1zM344.7 50.4h1.1v1.2h-1.1zM868.7 53.1h1.0v0.7h-1.0zM573.2 50.8h1.5v0.9h-1.5zM657.5 54.9h1.6v0.9h-1.6zM124.7 52.7h1.1v0.7h-1.1zM926.8 52.6h1.7v0.8h-1.7zM698.8 56.0h1.6v0.8h-1.6zM406.1 54.5h1.4v0.6h-1.4zM531.7 55.9h1.1v0.6h-1.1zM975.2 50.6h0.9v1.1h-0.9zM888.5 55.0h1.4v0.5h-1.4zM456.1 50.7h0.8v1.0h-0.8zM140.1 55.6h0.9v0.9h-0.9zM184.8 52.9h1.6v0.6h-1.6zM661.3 53.7h1.2v1.0h-1.2zM950.2 53.5h0.6v1.2h-0.6zM563.0 54.2h1.6v1.1h-1.6zM169.7 49.7h1.1v0.8h-1.1zM211.1 49.8h1.5v0.8h-1.5zM938.5 52.0h1.8v1.1h-1.8zM1010.1 52.6h1.6v0.6h-1.6zM610.7 52.8h0.7v1.1h-0.7zM79.9 52.9h1.0v0.7h-1.0zM695.8 52.6h0.6v0.7h-0.6zM308.6 52.8h0.9v1.0h-0.9zM681.8 49.9h1.4v1.1h-1.4zM566.1 54.0h0.7v0.8h-0.7zM744.1 51.7h0.8v0.6h-0.8zM490.0 55.5h1.7v1.1h-1.7zM376.8 54.8h0.8v0.6h-0.8zM664.8 55.9h1.2v1.2h-1.2zM614.1 51.5h1.5v1.2h-1.5zM976.5 52.8h0.8v1.0h-0.8zM918.0 51.3h0.7v0.8h-0.7zM369.1 51.3h1.3v1.0h-1.3zM684.1 54.9h1.3v1.1h-1.3zM941.6 50.8h1.3v1.2h-1.3zM678.7 53.1h1.3v0.8h-1.3zM690.2 51.6h0.6v1.1h-0.6zM750.7 52.0h0.8v0.7h-0.8z" fill="#fff" fill-opacity="0.7"/><path d="M1597.0 16.7L1598.5 16.4L1600.0 14.6L1601.5 13.7L1603.0 15.0L1604.5 15.5L1606.0 14.2L1607.5 13.5L1609.0 13.9L1610.5 14.2L1612.0 14.3L1613.5 15.0L1615.0 13.2L1616.5 14.4L1618.0 14.5L1619.5 13.0L1621.0 12.9L1622.5 13.2L1624.0 12.6L1625.5 13.0L1627.0 14.0L1628.5 14.1L1630.0 13.9L1631.5 15.3L1633.0 14.9L1634.5 14.4L1636.0 13.3L1637.5 11.9L1639.0 13.4L1640.5 14.5L1642.0 12.2L1643.5 13.5L1645.0 15.3L1646.5 12.9L1648.0 12.2L1649.5 13.2L1651.0 12.5L1652.5 12.2L1654.0 12.6L1655.5 13.5L1657.0 13.5L1658.5 13.0L1660.0 12.6L1661.5 12.3L1663.0 13.3L1664.5 14.5L1666.0 14.1L1667.5 12.7L1669.0 12.0L1670.5 12.4L1672.0 12.2L1673.5 11.9L1675.0 11.9L1676.5 12.6L1678.0 12.6L1679.5 13.7L1681.0 13.6L1682.5 13.8L1684.0 13.4L1685.5 13.7L1687.0 13.9L1688.5 14.2L1690.0 11.9L1691.5 12.7L1693.0 13.7L1694.5 13.5L1696.0 13.7L1697.5 13.4L1699.0 12.9L1700.5 13.1L1702.0 14.0L1703.5 13.2L1705.0 13.7L1706.5 15.3L1708.0 13.6L1709.5 12.7L1711.0 14.1L1712.5 13.4L1714.0 11.8L1715.5 13.3L1717.0 14.5L1718.5 14.0L1720.0 13.6L1721.5 13.3L1723.0 13.1L1724.5 14.3L1726.0 15.4L1727.5 14.9L1729.0 13.0L1730.5 12.9L1732.0 13.6L1733.5 13.8L1735.0 12.4L1736.5 12.4L1738.0 13.4L1739.5 14.5L1741.0 13.4L1742.5 13.6L1744.0 14.2L1745.5 15.3L1747.0 15.3L1748.5 14.3L1750.0 14.5L1751.5 14.6L1753.0 15.0L1754.5 15.2L1756.0 14.7L1757.5 13.7L1759.0 14.7L1760.5 14.2L1762.0 14.5L1763.5 13.1L1765.0 12.1L1766.5 12.5L1768.0 13.0L1769.5 14.0L1771.0 13.6L1772.5 12.0L1774.0 14.2L1775.5 13.2L1777.0 13.7L1778.5 15.3L1780.0 13.8L1781.5 15.2L1783.0 15.2L1784.5 12.9L1786.0 13.6L1787.5 14.2L1789.0 14.7L1790.5 15.5L1792.0 13.6L1793.5 11.9L1795.0 11.5L1796.5 13.1L1798.0 14.5L1799.5 13.4L1801.0 12.3L1802.5 12.3L1804.0 14.2L1805.5 14.3L1807.0 14.5L1808.5 15.0L1810.0 14.9L1811.5 15.1L1813.0 13.1L1814.5 11.7L1816.0 13.6L1817.5 14.1L1819.0 13.8L1820.5 12.8L1822.0 13.0L1823.5 13.3L1825.0 13.7L1826.5 13.0L1828.0 12.6L1829.5 11.7L1831.0 12.1L1832.5 12.6L1834.0 12.5L1835.5 13.1L1837.0 12.9L1838.5 13.7L1840.0 13.9L1841.5 13.2L1843.0 14.1L1844.5 13.6L1846.0 12.6L1847.5 12.2L1849.0 12.1L1850.5 12.9L1852.0 13.2L1853.5 13.3L1855.0 15.4L1856.5 15.8L1856.5 23.4L1855.0 24.2L1853.5 24.8L1852.0 27.1L1850.5 26.1L1849.0 25.7L1847.5 24.6L1846.0 24.0L1844.5 24.8L1843.0 25.6L1841.5 25.9L1840.0 25.9L1838.5 25.7L1837.0 26.3L1835.5 26.4L1834.0 24.7L1832.5 23.6L1831.0 24.5L1829.5 24.1L1828.0 24.7L1826.5 26.5L1825.0 24.4L1823.5 23.8L1822.0 24.5L1820.5 23.6L1819.0 24.3L1817.5 23.8L1816.0 23.4L1814.5 25.2L1813.0 26.1L1811.5 27.2L1810.0 25.6L1808.5 25.2L1807.0 25.5L1805.5 24.7L1804.0 24.3L1802.5 24.3L1801.0 25.3L1799.5 24.5L1798.0 24.2L1796.5 23.9L1795.0 24.0L1793.5 25.1L1792.0 25.4L1790.5 22.8L1789.0 24.5L1787.5 26.9L1786.0 25.7L1784.5 23.6L1783.0 25.1L1781.5 23.6L1780.0 25.8L1778.5 25.9L1777.0 25.2L1775.5 26.3L1774.0 25.5L1772.5 24.3L1771.0 23.4L1769.5 23.8L1768.0 24.2L1766.5 24.8L1765.0 24.4L1763.5 24.3L1762.0 25.6L1760.5 24.9L1759.0 25.0L1757.5 24.4L1756.0 24.2L1754.5 24.2L1753.0 24.5L1751.5 26.1L1750.0 24.6L1748.5 22.9L1747.0 23.9L1745.5 24.8L1744.0 25.6L1742.5 25.9L1741.0 26.2L1739.5 25.1L1738.0 26.0L1736.5 25.1L1735.0 24.5L1733.5 25.1L1732.0 23.8L1730.5 22.5L1729.0 24.3L1727.5 25.7L1726.0 26.4L1724.5 25.4L1723.0 25.3L1721.5 25.1L1720.0 25.2L1718.5 24.6L1717.0 24.4L1715.5 26.8L1714.0 26.3L1712.5 27.3L1711.0 24.8L1709.5 26.1L1708.0 25.7L1706.5 23.5L1705.0 23.7L1703.5 26.0L1702.0 25.6L1700.5 24.7L1699.0 24.6L1697.5 25.8L1696.0 24.6L1694.5 24.1L1693.0 25.5L1691.5 26.7L1690.0 26.2L1688.5 26.5L1687.0 24.8L1685.5 24.7L1684.0 26.7L1682.5 27.6L1681.0 26.6L1679.5 25.0L1678.0 24.5L1676.5 26.6L1675.0 27.2L1673.5 25.6L1672.0 24.4L1670.5 23.8L1669.0 24.0L1667.5 25.7L1666.0 23.6L1664.5 23.9L1663.0 24.8L1661.5 23.7L1660.0 23.6L1658.5 23.6L1657.0 23.3L1655.5 25.1L1654.0 25.1L1652.5 23.2L1651.0 25.0L1649.5 26.3L1648.0 26.8L1646.5 26.5L1645.0 24.8L1643.5 24.0L1642.0 26.1L1640.5 26.1L1639.0 24.8L1637.5 25.1L1636.0 25.0L1634.5 25.8L1633.0 25.5L1631.5 23.4L1630.0 25.2L1628.5 23.9L1627.0 24.7L1625.5 24.9L1624.0 25.2L1622.5 26.0L1621.0 26.1L1619.5 24.7L1618.0 23.7L1616.5 25.1L1615.0 24.8L1613.5 25.3L1612.0 26.8L1610.5 26.3L1609.0 25.4L1607.5 23.7L1606.0 26.4L1604.5 25.9L1603.0 22.9L1601.5 23.1L1600.0 24.8L1598.5 24.0L1597.0 21.9ZM1845.7 12.6h2.6v1.2h-2.6zM1797.2 10.1h1.6v1.3h-1.6zM1677.7 8.3h1.3v1.2h-1.3zM1654.0 8.1h2.6v2.0h-2.6zM1683.8 12.7h2.9v0.8h-2.9zM1745.9 11.9h1.4v2.1h-1.4zM1805.7 11.5h2.2v2.0h-2.2zM1612.7 13.8h2.2v1.2h-2.2zM1665.1 11.6h1.2v2.0h-1.2zM1703.4 13.9h3.1v1.9h-3.1zM1626.0 9.6h2.4v2.1h-2.4zM1759.3 10.4h2.8v1.4h-2.8zM1750.2 11.0h3.1v1.7h-3.1zM1625.9 12.3h1.9v1.0h-1.9zM1725.9 9.8h3.1v1.1h-3.1zM1738.5 8.0h1.7v1.7h-1.7zM1727.0 12.4h2.3v1.7h-2.3zM1664.2 14.1h2.4v0.8h-2.4zM1813.5 9.1h1.9v1.7h-1.9zM1829.5 9.1h1.7v1.5h-1.7zM1773.9 11.1h2.6v2.2h-2.6zM1615.0 10.7h2.7v1.9h-2.7zM1844.4 10.2h1.5v1.7h-1.5zM1811.6 13.3h2.2v1.0h-2.2zM1778.5 9.7h1.1v0.8h-1.1zM1686.0 10.5h2.2v1.4h-2.2zM1730.1 12.2h1.4v1.9h-1.4zM1771.0 13.4h2.2v1.6h-2.2zM1813.9 12.4h1.6v2.0h-1.6zM1647.5 9.8h2.8v1.4h-2.8zM1637.3 13.9h2.3v0.8h-2.3zM1687.0 10.3h1.6v1.8h-1.6zM1657.0 8.6h2.9v1.6h-2.9zM1721.0 13.9h2.5v2.0h-2.5zM1684.4 10.0h1.7v1.5h-1.7zM1746.9 9.3h2.2v2.1h-2.2zM1791.3 8.0h2.0v1.7h-2.0zM1612.0 14.6h2.7v1.6h-2.7zM1731.5 12.2h1.9v1.6h-1.9zM1728.7 10.3h2.0v0.9h-2.0zM1755.7 9.6h1.6v1.0h-1.6zM1791.5 11.0h2.3v1.5h-2.3zM1749.5 10.4h1.6v1.9h-1.6zM1785.0 9.0h1.3v1.3h-1.3zM1803.0 10.0h1.5v1.4h-1.5zM1727.1 12.2h1.7v1.4h-1.7zM1851.9 13.0h1.5v1.5h-1.5zM1637.3 14.5h1.6v2.1h-1.6zM1653.9 9.5h1.8v1.3h-1.8zM1686.7 10.6h1.9v1.0h-1.9zM1759.9 12.6h1.5v1.0h-1.5zM1607.0 9.2h2.1v1.7h-2.1zM1840.2 13.4h1.3v1.2h-1.3zM1648.6 8.5h1.1v1.6h-1.1zM1844.4 14.5h1.1v1.1h-1.1zM1688.7 13.7h1.2v1.4h-1.2zM1823.4 13.2h1.4v1.5h-1.4zM1773.5 8.8h2.9v1.7h-2.9zM1692.6 10.2h1.2v2.1h-1.2zM1647.4 11.9h2.5v1.6h-2.5zM1803.5 9.8h2.5v1.1h-2.5zM1780.8 13.0h2.0v1.8h-2.0zM1772.6 8.1h1.5v1.1h-1.5zM1776.3 13.5h1.5v2.1h-1.5zM1648.7 10.8h2.9v1.2h-2.9zM1819.3 8.3h1.6v2.0h-1.6zM1767.1 8.8h2.1v1.5h-2.1zM1605.5 14.2h1.1v2.1h-1.1zM1777.3 12.3h1.8v1.1h-1.8zM1725.3 14.3h1.2v1.5h-1.2zM1754.1 14.4h2.6v2.1h-2.6zM1778.7 10.9h3.1v0.9h-3.1zM1790.9 8.1h1.2v0.9h-1.2zM1714.0 13.3h2.8v1.7h-2.8zM1693.3 9.9h2.0v1.3h-2.0zM1730.6 12.3h1.2v2.1h-1.2zM1631.6 13.8h1.0v0.8h-1.0zM1845.9 10.2h1.9v1.9h-1.9zM1618.9 12.0h2.9v1.5h-2.9zM1604.1 9.0h2.9v1.1h-2.9zM1780.2 12.2h2.7v1.7h-2.7zM1736.6 13.3h2.6v1.1h-2.6zM1616.9 11.9h2.3v1.7h-2.3zM1673.2 14.5h2.3v1.4h-2.3zM1641.8 9.2h1.6v1.8h-1.6zM1704.4 13.4h1.7v2.0h-1.7zM1848.4 12.4h2.8v1.2h-2.8zM1716.6 10.5h1.9v2.2h-1.9zM1683.9 14.4h2.6v1.2h-2.6zM1709.8 10.8h2.0v2.1h-2.0zM1762.1 11.3h2.3v1.3h-2.3zM1631.6 10.6h2.8v1.9h-2.8zM1606.6 12.2h2.7v1.7h-2.7zM1844.5 10.0h1.4v1.4h-1.4zM1604.2 13.7h2.0v1.7h-2.0zM1727.7 11.5h1.8v1.9h-1.8zM1822.8 14.6h2.2v1.5h-2.2zM1744.7 14.3h1.7v0.8h-1.7zM1728.1 13.7h1.3v1.3h-1.3zM1759.8 12.2h1.7v1.9h-1.7zM1810.9 12.7h2.9v1.0h-2.9zM1704.6 10.7h1.6v1.4h-1.6zM1838.2 12.9h1.4v1.8h-1.4zM1766.0 9.7h1.8v1.0h-1.8zM1714.6 12.9h1.8v1.2h-1.8zM1661.1 14.4h1.5v1.4h-1.5zM1657.6 11.2h2.7v2.0h-2.7zM1747.7 14.1h1.6v1.8h-1.6zM1693.0 9.7h1.9v1.1h-1.9zM1759.6 9.1h2.6v1.8h-2.6zM1603.5 10.5h2.4v1.7h-2.4zM1757.8 8.1h2.6v1.0h-2.6zM1602.6 13.0h2.0v1.1h-2.0zM1634.4 10.5h2.5v0.8h-2.5zM1731.7 11.0h2.9v1.4h-2.9zM1640.3 11.9h1.2v0.9h-1.2zM1829.4 11.7h1.8v1.1h-1.8zM1635.1 10.7h1.9v2.1h-1.9zM1719.5 10.6h2.1v1.2h-2.1zM1727.5 10.6h1.4v1.3h-1.4zM1798.1 8.6h2.3v2.1h-2.3zM1749.7 11.0h2.9v1.8h-2.9zM1685.0 8.0h3.0v1.4h-3.0zM1680.5 8.0h1.5v1.8h-1.5zM1753.7 9.0h2.7v1.9h-2.7zM1621.7 12.1h1.7v1.3h-1.7zM1672.3 11.5h1.2v2.1h-1.2zM1636.1 14.5h1.1v1.4h-1.1zM1668.4 14.6h1.8v2.2h-1.8zM1694.4 8.8h1.8v0.9h-1.8zM1723.8 9.1h1.5v1.0h-1.5zM1681.5 14.6h2.2v1.7h-2.2zM1812.0 10.8h2.5v0.8h-2.5zM1733.8 13.5h1.8v1.0h-1.8zM1834.7 13.2h1.7v1.0h-1.7zM1696.5 11.2h1.6v2.0h-1.6zM1743.0 13.4h2.2v2.1h-2.2zM1762.1 11.3h2.1v2.0h-2.1zM1758.6 11.7h1.4v2.0h-1.4zM1771.3 14.5h1.9v1.1h-1.9zM1611.8 10.2h2.1v1.1h-2.1zM1784.8 9.3h3.0v1.0h-3.0zM1645.0 8.8h2.7v2.0h-2.7zM1776.1 9.6h2.8v1.8h-2.8zM1663.4 14.0h2.7v1.2h-2.7zM1735.9 8.1h1.2v0.9h-1.2zM1808.9 11.0h2.3v2.1h-2.3zM1671.9 8.9h1.6v2.1h-1.6zM1681.4 8.3h1.2v1.3h-1.2zM1827.2 9.5h2.7v1.3h-2.7zM1850.2 12.0h1.5v1.3h-1.5zM1735.3 10.7h2.0v2.1h-2.0zM1607.7 10.4h2.6v2.1h-2.6zM1823.6 10.5h1.8v2.0h-1.8zM1746.3 14.3h1.3v1.9h-1.3zM1786.0 14.6h1.6v1.6h-1.6zM1817.5 11.0h1.3v1.8h-1.3zM1640.7 9.1h3.2v1.5h-3.2zM1845.9 14.2h1.3v1.1h-1.3zM1794.6 9.2h1.2v0.9h-1.2zM1822.7 13.9h2.9v1.3h-2.9zM1659.4 11.5h1.1v1.1h-1.1zM1833.7 14.5h1.8v1.1h-1.8zM1755.9 14.0h2.2v1.5h-2.2zM1769.7 12.7h1.6v1.3h-1.6zM1720.9 11.1h3.2v1.1h-3.2zM1603.9 11.7h3.1v2.1h-3.1zM1635.7 14.6h3.0v1.2h-3.0zM1660.9 9.3h2.1v1.6h-2.1zM1652.4 11.3h2.2v1.0h-2.2zM1766.0 8.8h2.0v1.1h-2.0zM1634.9 11.8h2.8v1.5h-2.8zM1632.2 9.2h2.9v1.6h-2.9zM1669.4 10.6h1.3v1.6h-1.3zM1599.8 13.2h1.4v1.3h-1.4zM1847.0 8.4h1.8v1.7h-1.8zM1760.9 13.5h2.8v1.4h-2.8zM1798.8 9.6h2.7v2.0h-2.7zM1601.9 13.1h1.8v1.0h-1.8zM1635.2 9.8h2.8v2.0h-2.8zM1760.6 10.3h1.6v1.1h-1.6zM1617.3 11.0h2.4v1.9h-2.4zM1792.9 13.8h2.3v1.8h-2.3zM1758.8 12.3h2.7v0.9h-2.7zM1606.8 9.4h1.9v1.4h-1.9zM1615.9 12.3h2.4v1.3h-2.4zM1828.3 9.8h1.7v2.2h-1.7zM1663.0 9.3h1.1v1.3h-1.1zM1749.9 10.4h2.2v1.7h-2.2zM1741.4 14.6h2.6v0.9h-2.6zM1833.1 12.7h2.7v2.0h-2.7zM1817.3 9.6h1.9v1.7h-1.9zM1732.3 13.1h2.0v1.8h-2.0zM1694.0 10.2h2.4v1.4h-2.4zM1692.2 10.9h1.8v1.3h-1.8zM1695.9 11.7h1.3v1.3h-1.3zM1767.0 10.4h2.7v1.2h-2.7zM1716.8 11.0h1.7v1.5h-1.7zM1830.4 14.1h1.3v1.9h-1.3zM1760.5 11.3h1.5v1.2h-1.5zM1711.7 8.9h2.9v2.0h-2.9zM1849.7 8.5h1.4v2.2h-1.4zM1746.8 9.7h2.6v1.6h-2.6zM1785.0 13.8h1.5v1.2h-1.5zM1768.8 14.4h2.2v1.7h-2.2zM1725.5 8.1h3.0v1.5h-3.0zM1649.1 8.6h2.0v1.9h-2.0zM1812.9 13.4h3.1v1.7h-3.1zM1669.0 9.3h2.3v1.5h-2.3zM1653.6 14.3h1.1v1.1h-1.1zM1648.2 11.4h2.6v1.1h-2.6zM1652.5 12.8h3.0v1.5h-3.0zM1831.7 12.0h2.1v1.2h-2.1zM1658.3 10.5h3.0v1.7h-3.0zM1791.6 13.8h2.9v1.2h-2.9zM1645.2 8.1h2.5v1.0h-2.5zM1799.4 13.5h1.4v2.0h-1.4zM1679.7 11.4h2.9v0.9h-2.9zM1656.4 9.7h2.8v2.1h-2.8zM1714.3 8.8h2.8v1.2h-2.8zM1755.1 14.4h2.7v1.7h-2.7zM1755.3 11.4h2.2v1.4h-2.2zM1782.0 14.1h1.1v1.1h-1.1zM1768.3 13.6h2.3v1.4h-2.3zM1659.2 12.2h1.1v1.1h-1.1zM1809.0 11.5h2.3v1.0h-2.3zM1616.2 13.5h1.3v1.5h-1.3zM1750.0 10.7h1.7v1.6h-1.7zM1746.2 8.7h1.7v1.8h-1.7zM1752.3 9.8h2.2v1.4h-2.2zM1618.6 9.0h2.7v1.7h-2.7zM1674.4 10.7h1.5v0.9h-1.5zM1669.0 10.3h1.9v0.9h-1.9zM1801.8 11.0h1.0v1.7h-1.0zM1626.3 12.5h2.0v1.5h-2.0zM1690.6 13.7h1.6v1.0h-1.6zM1739.9 12.6h1.5v1.5h-1.5zM1784.0 8.8h2.9v1.3h-2.9zM1727.4 9.9h2.7v1.7h-2.7zM1704.2 10.2h2.7v1.2h-2.7zM1658.0 8.2h2.9v2.0h-2.9zM1805.1 14.5h1.9v2.1h-1.9zM1759.3 9.7h1.8v1.3h-1.8zM1681.4 9.8h1.8v2.1h-1.8zM1611.9 11.0h2.7v1.9h-2.7zM1607.0 13.4h1.7v1.7h-1.7zM1750.4 13.5h3.0v1.9h-3.0zM1637.8 10.0h1.6v0.9h-1.6zM1662.6 9.4h3.1v1.7h-3.1zM1823.8 14.3h2.9v1.8h-2.9zM1689.6 10.1h1.9v2.0h-1.9zM1675.5 11.4h2.7v0.9h-2.7zM1766.6 8.2h1.6v1.7h-1.6zM1773.1 14.4h2.4v2.0h-2.4zM1802.8 9.5h3.1v0.8h-3.1zM1789.4 10.7h1.5v1.3h-1.5zM1787.0 14.0h2.0v2.0h-2.0zM1683.2 13.7h3.1v1.8h-3.1zM1692.3 9.8h1.3v1.9h-1.3zM1810.1 9.5h1.3v2.1h-1.3zM1811.3 11.4h1.0v1.9h-1.0zM1662.6 11.4h1.4v2.0h-1.4zM1755.8 8.1h2.5v1.1h-2.5zM1796.7 9.7h2.2v1.7h-2.2zM1690.0 8.8h1.8v0.9h-1.8zM1810.3 10.0h1.0v1.5h-1.0zM1710.6 12.4h2.0v0.9h-2.0zM1598.8 14.4h2.3v1.3h-2.3zM1655.7 12.7h2.8v1.6h-2.8zM1651.4 10.0h2.9v1.4h-2.9zM1768.4 8.1h2.3v2.0h-2.3zM1820.7 13.6h1.8v1.3h-1.8zM1724.8 10.7h2.4v1.4h-2.4zM1836.4 14.4h2.0v1.8h-2.0zM1829.3 14.4h2.0v1.2h-2.0zM1600.4 8.3h2.1v1.0h-2.1zM1717.4 13.7h1.7v1.5h-1.7zM1842.3 11.0h2.8v2.1h-2.8zM1675.7 9.6h2.7v1.5h-2.7zM1660.2 10.0h2.4v1.3h-2.4zM1772.2 9.9h1.6v1.2h-1.6zM1807.7 9.2h1.4v0.9h-1.4zM1773.3 13.8h1.6v2.2h-1.6zM1773.4 11.1h2.0v2.0h-2.0zM1751.4 12.8h1.4v1.6h-1.4zM1805.5 10.0h1.6v1.2h-1.6zM1642.6 24.0h1.4v0.8h-1.4zM1709.8 24.2h1.9v1.1h-1.9zM1839.8 23.6h1.7v0.9h-1.7zM1716.2 24.1h1.7v1.0h-1.7zM1695.0 24.8h1.4v1.1h-1.4zM1627.4 24.2h1.3v1.5h-1.3zM1724.3 23.7h2.0v1.8h-2.0zM1729.2 24.3h1.9v1.4h-1.9zM1855.9 24.5h1.1v1.4h-1.1zM1752.1 24.2h2.0v1.6h-2.0zM1716.8 23.8h1.1v1.2h-1.1zM1760.1 23.3h2.4v1.4h-2.4zM1669.9 24.4h2.1v1.3h-2.1zM1691.0 25.2h2.1v1.8h-2.1zM1699.6 24.6h1.2v1.1h-1.2zM1807.9 25.4h2.3v1.0h-2.3zM1676.5 24.8h2.4v1.0h-2.4zM1639.8 23.9h1.5v1.0h-1.5zM1623.0 23.8h2.3v1.6h-2.3zM1806.6 24.6h1.8v1.2h-1.8zM1682.1 23.7h1.0v1.3h-1.0zM1699.1 24.1h2.4v0.8h-2.4zM1628.2 25.1h1.7v1.4h-1.7zM1760.2 25.1h2.3v1.6h-2.3zM1771.4 24.6h1.3v1.5h-1.3zM1739.2 25.0h1.2v1.7h-1.2zM1830.3 23.5h2.4v1.7h-2.4zM1609.0 23.9h1.8v1.6h-1.8zM1812.6 23.6h2.2v1.6h-2.2zM1614.6 25.4h1.5v0.9h-1.5zM1783.4 24.9h2.5v1.0h-2.5zM1648.1 23.8h2.4v1.6h-2.4zM1847.5 25.2h2.5v1.6h-2.5zM1731.6 25.0h1.7v1.6h-1.7zM1607.4 23.8h1.3v1.6h-1.3zM1601.5 24.5h2.4v1.5h-2.4zM1787.2 23.6h1.7v0.8h-1.7zM1719.8 23.3h1.5v1.3h-1.5zM1786.8 23.9h2.1v1.3h-2.1zM1770.3 24.9h2.5v1.6h-2.5zM1845.4 25.1h2.2v1.6h-2.2zM1647.1 24.1h1.7v1.8h-1.7zM1824.3 25.1h1.7v1.6h-1.7zM1775.6 24.6h1.3v1.7h-1.3zM1613.7 24.4h2.0v1.5h-2.0zM1700.0 23.8h1.5v1.6h-1.5zM1840.4 25.4h1.6v1.3h-1.6zM1637.6 23.8h1.1v1.4h-1.1zM1685.1 23.6h1.6v1.3h-1.6zM1618.2 25.5h1.2v1.4h-1.2zM1854.6 23.4h1.3v1.6h-1.3zM1818.5 24.8h2.2v1.5h-2.2zM1805.2 23.8h2.2v1.7h-2.2zM1664.2 24.9h1.2v1.2h-1.2zM1854.9 24.7h1.4v1.6h-1.4zM1771.8 25.1h2.2v1.0h-2.2zM1657.8 24.3h1.0v1.1h-1.0zM1777.0 24.0h1.5v1.1h-1.5zM1815.2 23.7h2.3v1.6h-2.3zM1645.8 24.4h1.7v1.4h-1.7zM1768.2 24.9h1.1v1.5h-1.1zM1658.9 24.5h1.1v1.7h-1.1zM1607.1 23.4h1.1v0.9h-1.1zM1601.7 25.5h1.7v1.3h-1.7zM1842.7 23.2h2.0v1.2h-2.0zM1780.4 24.5h2.3v1.6h-2.3zM1849.4 23.9h2.4v1.4h-2.4zM1614.5 25.6h1.5v1.1h-1.5zM1705.2 25.0h1.7v1.2h-1.7zM1832.1 24.1h1.5v1.5h-1.5zM1815.9 23.8h2.3v0.9h-2.3zM1812.5 24.7h1.9v1.5h-1.9zM1737.6 23.7h1.5v0.9h-1.5zM1694.6 25.3h1.4v1.8h-1.4zM1762.7 24.3h2.0v1.3h-2.0zM1845.7 23.7h2.4v1.4h-2.4zM1761.7 25.2h1.0v1.7h-1.0zM1620.6 24.0h1.3v1.0h-1.3z" fill="#0aa3da"/><path d="M1635.4 18.7h1.5v0.8h-1.5zM1836.0 15.3h1.4v0.5h-1.4zM1672.5 15.9h0.8v1.1h-0.8zM1699.4 19.0h0.8v0.9h-0.8zM1784.0 15.6h1.0v0.7h-1.0zM1655.8 13.8h1.4v1.0h-1.4zM1608.7 18.9h1.1v0.5h-1.1zM1667.0 13.0h1.6v1.0h-1.6zM1636.9 13.4h0.8v0.9h-0.8zM1742.0 19.0h1.6v0.6h-1.6zM1736.1 16.5h1.1v0.5h-1.1zM1685.8 13.9h1.7v1.1h-1.7zM1702.4 14.7h1.7v0.9h-1.7zM1830.7 16.1h1.0v0.8h-1.0zM1602.4 14.6h0.7v0.8h-0.7zM1786.0 16.8h1.3v0.8h-1.3zM1840.0 16.5h1.5v0.9h-1.5zM1840.4 15.3h1.3v0.8h-1.3zM1787.0 16.5h0.9v0.9h-0.9zM1779.4 15.0h0.7v0.7h-0.7zM1810.6 12.7h0.9v1.1h-0.9zM1628.2 15.4h0.8v1.1h-0.8zM1668.7 14.6h1.7v1.2h-1.7zM1795.1 14.6h1.4v0.6h-1.4zM1743.7 18.0h1.6v0.6h-1.6zM1629.6 15.7h1.3v0.5h-1.3zM1669.5 15.6h1.7v0.8h-1.7zM1629.5 15.1h0.8v1.2h-0.8zM1620.0 16.5h1.3v0.8h-1.3zM1631.6 17.7h1.2v0.7h-1.2zM1743.7 17.4h1.2v1.1h-1.2zM1616.3 15.2h1.0v1.2h-1.0zM1680.9 19.3h0.9v0.9h-0.9zM1645.4 15.5h1.7v1.1h-1.7zM1760.2 16.0h1.1v1.2h-1.1zM1773.4 17.3h1.1v0.8h-1.1zM1784.4 13.2h1.0v1.0h-1.0zM1635.3 15.8h1.3v0.8h-1.3zM1849.5 14.6h0.9v1.1h-0.9zM1812.4 15.8h1.3v0.9h-1.3zM1816.9 15.6h1.3v1.2h-1.3zM1737.6 17.5h1.4v0.5h-1.4zM1608.9 15.6h1.0v0.6h-1.0zM1661.0 17.5h1.2v1.1h-1.2zM1768.1 18.4h1.5v1.1h-1.5zM1783.7 14.1h1.4v0.7h-1.4zM1785.8 16.7h1.2v0.9h-1.2zM1650.9 19.4h1.5v0.9h-1.5zM1841.9 14.4h0.6v0.9h-0.6zM1620.0 14.5h1.3v1.1h-1.3zM1632.0 19.4h0.7v0.6h-0.7zM1835.5 15.7h0.7v1.0h-0.7z" fill="#fff" fill-opacity="0.7"/><path d="M85.5 89.2L87.0 88.9L88.5 87.1L90.0 85.3L91.5 85.4L93.0 84.8L94.5 84.7L96.0 84.5L97.5 85.6L99.0 87.8L100.5 87.4L102.0 86.8L103.5 85.7L105.0 86.8L106.5 86.0L108.0 84.9L109.5 86.2L111.0 87.2L112.5 85.7L114.0 84.8L115.5 84.4L117.0 86.8L118.5 86.7L120.0 85.7L121.5 87.4L123.0 86.9L124.5 85.4L126.0 86.2L127.5 87.7L129.0 86.5L130.5 84.9L132.0 85.9L133.5 85.3L135.0 86.2L136.5 87.8L138.0 87.4L139.5 85.0L141.0 85.7L142.5 87.4L144.0 87.2L145.5 86.0L147.0 86.3L148.5 87.2L150.0 86.8L151.5 86.8L153.0 85.8L154.5 85.3L156.0 86.9L157.5 87.3L159.0 86.5L160.5 86.7L162.0 87.5L163.5 86.3L165.0 85.3L166.5 85.0L168.0 84.6L169.5 85.9L171.0 86.8L172.5 86.7L174.0 87.1L175.5 87.0L177.0 85.7L178.5 85.3L180.0 85.7L181.5 86.6L183.0 87.1L184.5 85.8L186.0 85.8L187.5 85.6L189.0 85.4L190.5 85.6L192.0 84.7L193.5 85.9L195.0 87.9L196.5 86.9L198.0 85.8L199.5 86.1L201.0 86.1L202.5 85.4L204.0 84.5L205.5 86.1L207.0 86.6L208.5 85.9L210.0 86.9L211.5 87.5L213.0 87.0L214.5 87.4L216.0 86.4L217.5 85.4L219.0 85.5L220.5 87.1L222.0 87.2L223.5 86.4L225.0 86.3L226.5 85.8L228.0 85.2L229.5 86.0L231.0 86.3L232.5 87.7L234.0 86.4L235.5 85.4L237.0 87.0L238.5 88.0L240.0 86.1L241.5 85.2L243.0 86.9L244.5 87.1L246.0 86.4L247.5 86.0L249.0 87.6L250.5 86.3L252.0 85.7L253.5 87.3L255.0 86.2L256.5 86.1L258.0 87.4L259.5 85.3L261.0 85.5L262.5 85.3L264.0 85.3L265.5 86.1L267.0 86.4L268.5 85.6L270.0 86.4L271.5 86.4L273.0 86.4L274.5 87.0L276.0 88.3L276.0 96.8L274.5 96.8L273.0 99.7L271.5 98.1L270.0 95.8L268.5 96.5L267.0 97.2L265.5 99.8L264.0 98.4L262.5 96.9L261.0 99.0L259.5 99.0L258.0 99.7L256.5 100.0L255.0 99.8L253.5 97.4L252.0 96.5L250.5 98.2L249.0 99.5L247.5 98.5L246.0 99.7L244.5 98.2L243.0 97.3L241.5 96.8L240.0 97.5L238.5 98.6L237.0 99.1L235.5 99.6L234.0 98.8L232.5 99.4L231.0 100.1L229.5 98.7L228.0 99.0L226.5 98.8L225.0 98.1L223.5 98.3L222.0 97.9L220.5 97.8L219.0 98.4L217.5 99.3L216.0 99.8L214.5 98.0L213.0 98.9L211.5 99.0L210.0 98.7L208.5 97.7L207.0 98.2L205.5 98.6L204.0 97.5L202.5 99.4L201.0 98.4L199.5 96.1L198.0 96.7L196.5 97.9L195.0 96.2L193.5 96.6L192.0 98.7L190.5 98.7L189.0 99.8L187.5 99.2L186.0 96.9L184.5 98.3L183.0 99.0L181.5 98.1L180.0 97.5L178.5 99.2L177.0 99.4L175.5 100.0L174.0 99.3L172.5 99.7L171.0 99.0L169.5 97.5L168.0 96.8L166.5 97.4L165.0 100.2L163.5 98.9L162.0 97.3L160.5 97.3L159.0 96.4L157.5 97.8L156.0 98.9L154.5 99.7L153.0 101.1L151.5 100.0L150.0 97.7L148.5 98.0L147.0 100.9L145.5 98.9L144.0 97.5L142.5 96.2L141.0 97.0L139.5 98.9L138.0 98.1L136.5 98.1L135.0 99.9L133.5 98.1L132.0 98.4L130.5 97.7L129.0 98.2L127.5 99.6L126.0 98.9L124.5 100.5L123.0 98.6L121.5 97.3L120.0 98.7L118.5 99.5L117.0 98.5L115.5 96.7L114.0 96.6L112.5 96.8L111.0 96.2L109.5 96.8L108.0 98.0L106.5 97.8L105.0 96.7L103.5 97.2L102.0 98.9L100.5 98.3L99.0 97.8L97.5 98.5L96.0 99.2L94.5 100.8L93.0 98.8L91.5 99.6L90.0 99.9L88.5 99.9L87.0 99.1L85.5 95.9ZM203.2 81.5h2.8v0.8h-2.8zM88.6 82.6h1.8v2.2h-1.8zM226.0 83.5h2.3v1.4h-2.3zM257.0 84.8h1.8v2.1h-1.8zM241.0 83.3h3.1v0.9h-3.1zM252.5 83.6h2.1v2.0h-2.1zM166.5 83.5h1.5v1.8h-1.5zM222.4 85.2h1.3v2.0h-1.3zM179.6 81.3h1.5v1.0h-1.5zM113.6 84.1h2.7v1.8h-2.7zM270.5 87.4h2.4v2.0h-2.4zM259.4 84.0h2.9v1.6h-2.9zM229.7 86.1h3.0v1.5h-3.0zM101.7 80.9h2.6v1.7h-2.6zM246.7 81.7h2.8v2.2h-2.8zM177.6 81.1h2.5v0.9h-2.5zM237.1 86.1h1.8v2.1h-1.8zM157.9 86.2h1.6v1.8h-1.6zM107.4 82.9h1.9v2.0h-1.9zM242.9 81.2h2.0v2.0h-2.0zM272.2 83.7h1.4v1.9h-1.4zM122.9 84.6h1.7v0.9h-1.7zM90.7 83.4h1.1v1.7h-1.1zM227.8 85.6h2.1v1.7h-2.1zM250.7 82.7h2.3v1.0h-2.3zM215.7 87.4h1.7v1.8h-1.7zM116.0 87.4h1.1v1.2h-1.1zM164.7 85.8h2.2v0.9h-2.2zM208.2 81.0h1.7v2.1h-1.7zM184.6 80.5h1.5v1.2h-1.5zM119.6 85.8h1.6v1.7h-1.6zM190.9 86.5h1.7v0.8h-1.7zM208.0 84.4h1.1v1.5h-1.1zM115.1 87.4h2.2v1.9h-2.2zM206.3 84.7h2.9v0.8h-2.9zM152.2 85.1h1.7v2.1h-1.7zM142.8 85.5h2.2v1.5h-2.2zM249.7 87.2h3.2v1.3h-3.2zM188.0 81.5h2.7v1.7h-2.7zM178.4 84.1h1.8v1.1h-1.8zM172.8 85.3h1.2v1.1h-1.2zM141.6 85.8h2.1v2.0h-2.1zM161.9 81.7h1.6v0.8h-1.6zM180.1 83.7h1.9v1.7h-1.9zM198.6 82.8h2.5v1.0h-2.5zM212.1 83.3h2.7v2.0h-2.7zM178.4 81.2h2.4v0.8h-2.4zM99.6 81.9h2.7v1.3h-2.7zM220.6 84.0h2.3v0.8h-2.3zM263.8 83.5h1.2v1.6h-1.2zM251.7 83.8h2.4v0.9h-2.4zM118.5 82.7h1.1v1.7h-1.1zM87.5 83.7h2.5v1.0h-2.5zM275.6 84.6h2.7v1.8h-2.7zM193.6 83.2h2.3v1.8h-2.3zM155.5 80.6h3.1v1.2h-3.1zM262.4 87.4h1.1v2.1h-1.1zM152.1 86.5h2.7v1.2h-2.7zM237.0 81.2h3.0v1.6h-3.0zM272.1 83.7h2.5v1.2h-2.5zM138.2 80.8h2.6v2.2h-2.6zM165.5 80.9h1.2v1.1h-1.2zM227.0 82.6h2.0v2.0h-2.0zM215.0 80.8h3.0v1.8h-3.0zM117.0 80.8h3.0v1.2h-3.0zM183.4 82.5h2.6v1.4h-2.6zM214.2 86.8h1.2v1.3h-1.2zM224.9 86.3h2.9v1.4h-2.9zM214.6 84.5h2.9v1.0h-2.9zM100.8 81.7h1.7v1.8h-1.7zM203.0 82.5h1.1v1.4h-1.1zM270.6 81.1h3.0v1.4h-3.0zM202.1 83.0h3.1v1.9h-3.1zM213.5 84.0h2.3v1.1h-2.3zM205.6 86.8h1.2v1.5h-1.2zM180.2 84.2h3.2v1.6h-3.2zM173.3 81.1h1.6v2.0h-1.6zM204.8 85.7h3.0v2.1h-3.0zM255.2 87.3h3.0v1.8h-3.0zM184.2 80.8h3.1v1.5h-3.1zM144.3 83.0h2.7v1.9h-2.7zM141.8 81.6h1.9v1.0h-1.9zM201.5 86.4h1.9v1.0h-1.9zM265.0 81.7h1.4v1.5h-1.4zM215.1 83.0h1.3v1.2h-1.3zM252.6 87.3h1.5v1.8h-1.5zM236.0 86.2h1.0v0.8h-1.0zM102.5 84.4h1.4v2.1h-1.4zM133.3 83.6h1.3v2.1h-1.3zM128.9 82.4h1.7v1.1h-1.7zM102.5 86.1h1.2v1.2h-1.2zM91.1 84.3h2.1v2.1h-2.1zM91.8 87.1h1.3v1.3h-1.3zM260.5 86.5h3.0v1.0h-3.0zM115.0 82.9h1.7v1.6h-1.7zM94.7 84.5h1.0v1.3h-1.0zM190.7 82.3h2.6v1.9h-2.6zM204.3 83.6h1.9v1.5h-1.9zM245.0 87.4h1.5v2.0h-1.5zM229.2 84.2h2.0v1.9h-2.0zM271.8 84.1h1.1v1.6h-1.1zM123.8 81.3h2.3v1.2h-2.3zM233.7 83.3h2.9v0.9h-2.9zM267.9 85.3h1.1v1.2h-1.1zM263.0 86.1h1.1v1.9h-1.1zM167.5 83.5h2.8v1.0h-2.8zM205.6 82.6h2.9v2.1h-2.9zM262.7 81.8h1.2v1.4h-1.2zM110.9 82.1h2.2v1.9h-2.2zM195.1 87.4h2.6v2.2h-2.6zM204.3 83.0h3.1v1.6h-3.1zM205.2 81.5h1.2v0.8h-1.2zM111.3 82.4h1.8v1.8h-1.8zM160.4 83.1h2.0v1.6h-2.0zM246.7 87.3h1.5v1.4h-1.5zM166.4 84.9h1.8v1.1h-1.8zM260.2 82.8h2.6v1.7h-2.6zM93.2 82.3h2.2v1.8h-2.2zM271.3 81.9h1.1v1.9h-1.1zM259.6 81.2h1.9v1.1h-1.9zM140.6 82.9h1.9v1.4h-1.9zM133.7 82.4h2.3v1.5h-2.3zM180.7 81.6h2.1v2.0h-2.1zM128.5 81.6h2.0v1.0h-2.0zM130.6 82.3h3.1v1.7h-3.1zM168.6 84.6h2.0v1.7h-2.0zM209.2 82.6h1.7v2.2h-1.7zM233.6 84.2h2.5v1.2h-2.5zM121.7 86.0h1.7v1.5h-1.7zM250.6 84.8h2.1v1.5h-2.1zM142.3 85.8h1.7v1.8h-1.7zM233.7 85.1h2.4v1.0h-2.4zM264.0 83.6h3.1v1.4h-3.1zM246.7 83.0h1.9v1.2h-1.9zM234.7 84.3h1.7v0.8h-1.7zM250.5 80.5h1.8v1.2h-1.8zM220.7 81.9h2.8v2.0h-2.8zM183.6 84.7h2.2v1.6h-2.2zM170.1 81.4h1.2v1.6h-1.2zM106.6 85.1h2.4v2.0h-2.4zM168.4 83.4h1.7v1.5h-1.7zM215.7 86.5h1.5v2.0h-1.5zM255.0 83.9h2.2v2.1h-2.2zM196.1 81.6h2.9v1.3h-2.9zM120.0 85.7h1.8v2.1h-1.8zM161.2 82.5h1.4v1.9h-1.4zM128.6 81.6h1.8v1.8h-1.8zM275.4 87.4h2.7v2.0h-2.7zM190.4 83.8h1.7v2.1h-1.7zM239.4 80.6h1.3v2.1h-1.3zM257.1 87.4h1.6v1.5h-1.6zM240.6 82.2h2.2v1.0h-2.2zM115.5 83.2h2.6v0.8h-2.6zM177.4 81.1h1.6v2.0h-1.6zM275.4 81.3h1.5v1.1h-1.5zM133.0 82.6h1.2v1.6h-1.2zM162.1 85.0h2.9v2.2h-2.9zM255.6 80.9h2.9v0.9h-2.9zM200.2 85.6h1.8v1.9h-1.8zM198.9 87.0h1.6v1.5h-1.6zM182.3 82.2h2.6v2.1h-2.6zM225.1 83.7h1.9v1.2h-1.9zM272.2 86.5h1.3v0.8h-1.3zM167.0 86.8h1.5v1.8h-1.5zM250.8 82.8h2.4v1.7h-2.4zM105.3 85.3h1.6v0.8h-1.6zM134.2 87.2h1.2v1.1h-1.2zM202.8 81.8h2.4v1.8h-2.4zM182.2 85.2h2.6v1.7h-2.6zM272.0 82.2h1.1v1.2h-1.1zM271.2 83.4h2.1v1.6h-2.1zM213.0 80.5h2.2v0.9h-2.2zM179.5 80.6h1.3v1.6h-1.3zM174.6 82.1h2.8v1.1h-2.8zM112.9 81.9h1.8v1.5h-1.8zM250.6 82.5h2.7v1.8h-2.7zM201.0 81.9h1.4v2.1h-1.4zM164.9 85.9h1.3v2.1h-1.3zM102.5 82.5h2.2v2.0h-2.2zM267.7 81.5h1.1v1.3h-1.1zM185.8 84.7h2.9v2.0h-2.9zM218.7 87.1h2.9v0.9h-2.9zM151.4 80.8h1.5v1.5h-1.5zM179.9 85.9h2.9v1.6h-2.9zM175.9 81.0h1.5v2.1h-1.5zM265.9 86.3h2.8v1.9h-2.8zM112.3 83.7h1.0v1.9h-1.0zM236.6 86.2h2.4v1.2h-2.4zM165.2 80.5h1.6v1.8h-1.6zM169.8 81.7h2.9v1.4h-2.9zM174.3 81.7h1.9v2.2h-1.9zM161.9 81.6h3.0v1.8h-3.0zM94.8 80.7h1.7v1.4h-1.7zM239.7 80.8h2.6v1.4h-2.6zM127.0 81.3h2.0v1.0h-2.0zM95.6 87.4h2.6v1.8h-2.6zM233.3 81.2h2.7v1.1h-2.7zM191.4 83.9h1.2v2.1h-1.2zM244.0 85.1h2.1v1.0h-2.1zM111.1 80.7h2.9v2.1h-2.9zM225.8 82.2h2.8v2.2h-2.8zM96.1 84.6h1.4v1.5h-1.4zM107.9 85.0h2.6v1.7h-2.6zM163.9 84.2h1.3v2.1h-1.3zM215.6 84.1h2.5v2.1h-2.5zM123.5 82.9h1.5v1.2h-1.5zM249.2 84.1h1.4v1.4h-1.4zM170.9 86.9h3.1v1.9h-3.1zM116.4 86.6h3.0v1.4h-3.0zM122.5 83.6h2.5v1.9h-2.5zM99.9 98.8h1.2v1.2h-1.2zM129.0 99.1h1.7v1.0h-1.7zM113.2 96.7h1.2v1.6h-1.2zM107.3 98.6h2.2v1.3h-2.2zM196.9 97.2h2.2v1.5h-2.2zM184.3 97.9h1.4v1.0h-1.4zM153.7 99.0h1.9v1.5h-1.9zM106.3 98.9h1.8v1.2h-1.8zM117.1 96.8h1.7v1.1h-1.7zM233.0 98.9h1.8v1.7h-1.8zM99.4 98.8h1.8v1.8h-1.8zM251.6 97.8h2.0v1.0h-2.0zM125.7 98.7h1.8v1.2h-1.8zM269.8 97.1h1.1v1.2h-1.1zM172.1 98.8h2.0v1.0h-2.0zM225.1 97.9h2.4v1.1h-2.4zM114.2 97.2h1.3v1.4h-1.3zM163.1 97.9h1.7v1.6h-1.7zM168.2 96.8h1.1v1.0h-1.1zM153.2 98.9h1.7v1.2h-1.7zM124.5 96.8h1.1v1.0h-1.1zM145.4 98.4h2.2v1.2h-2.2zM244.8 97.4h2.2v1.2h-2.2zM122.5 98.9h2.5v1.2h-2.5zM216.5 98.1h1.5v1.1h-1.5zM102.1 97.6h1.9v1.0h-1.9zM253.3 97.0h1.9v1.3h-1.9zM202.6 97.9h1.0v1.1h-1.0zM240.7 99.0h1.4v1.7h-1.4zM128.7 98.5h1.3v1.0h-1.3zM213.9 98.2h2.0v1.3h-2.0zM152.6 98.6h1.9v1.0h-1.9zM138.1 98.1h1.3v1.7h-1.3zM157.5 98.7h1.8v1.2h-1.8zM129.3 99.1h1.3v1.4h-1.3zM193.4 99.0h1.6v1.0h-1.6zM173.0 97.8h1.4v1.4h-1.4zM92.2 96.7h1.7v1.7h-1.7zM261.2 97.7h2.0v1.2h-2.0zM111.1 98.6h1.7v1.7h-1.7zM174.3 97.9h2.0v1.1h-2.0zM191.2 99.0h1.6v0.9h-1.6zM192.7 98.1h1.9v1.8h-1.9zM210.5 98.3h1.1v1.0h-1.1zM231.6 97.3h1.2v1.6h-1.2zM144.4 96.9h2.1v1.1h-2.1zM222.6 99.1h1.1v0.8h-1.1zM194.7 98.8h1.9v1.4h-1.9zM100.2 97.4h1.9v1.5h-1.9zM198.2 97.8h1.4v1.5h-1.4zM189.1 97.2h1.3v0.8h-1.3zM263.6 97.6h1.4v1.4h-1.4zM98.6 98.8h1.0v1.1h-1.0zM147.2 99.0h1.8v1.0h-1.8zM275.8 98.4h1.0v1.8h-1.0zM154.4 97.7h2.2v1.6h-2.2zM210.9 97.0h1.5v1.3h-1.5z" fill="#0aa3da"/><path d="M189.7 90.5h0.8v1.0h-0.8zM264.4 86.1h1.0v0.7h-1.0zM166.6 90.2h0.6v0.5h-0.6zM144.1 86.1h1.8v0.9h-1.8zM99.1 92.0h1.7v0.6h-1.7zM227.3 85.6h0.8v1.2h-0.8zM270.6 88.8h1.7v0.8h-1.7zM164.9 89.8h0.6v0.7h-0.6zM108.6 85.5h1.6v0.6h-1.6zM186.3 91.0h1.5v1.0h-1.5zM257.9 89.0h1.0v1.1h-1.0zM98.2 88.0h1.2v1.1h-1.2zM143.7 90.5h0.8v1.1h-0.8zM140.4 88.1h1.6v1.1h-1.6zM176.2 86.7h0.7v0.8h-0.7zM249.9 87.7h0.7v0.6h-0.7zM223.9 86.3h0.9v0.6h-0.9zM115.8 90.3h1.6v1.2h-1.6zM241.3 90.7h1.3v0.5h-1.3zM134.6 88.4h1.1v0.7h-1.1zM166.4 88.8h1.1v0.8h-1.1zM205.4 91.1h1.1v1.1h-1.1zM269.5 90.9h1.3v0.5h-1.3zM184.8 89.1h1.4v0.8h-1.4zM138.5 90.8h1.0v0.9h-1.0zM238.5 90.1h0.9v1.1h-0.9zM205.5 91.2h1.0v1.1h-1.0zM153.6 92.6h0.7v0.8h-0.7zM168.5 88.2h1.7v1.0h-1.7zM251.3 87.9h1.8v0.8h-1.8zM118.3 92.0h1.7v1.2h-1.7zM155.3 90.3h1.5v0.7h-1.5zM101.1 89.1h1.0v1.0h-1.0zM135.1 89.0h1.1v0.6h-1.1zM261.6 87.0h1.0v0.7h-1.0zM265.8 90.1h1.6v0.7h-1.6zM128.0 92.4h0.7v1.2h-0.7zM260.4 92.4h1.3v0.9h-1.3z" fill="#fff" fill-opacity="0.7"/>
<path d="M1859,18 L1862.6,21.6 M1862.6,18 L1859,21.6" stroke="#777" stroke-width="1"/>
<circle cx="1875.5" cy="461" r="26.5" fill="#fff" stroke="#f2f2f2" stroke-width="1"/>
<circle cx="1875.5" cy="461" r="20.5" fill="#ff7b3a"/>
<rect x="1862.5" y="450.5" width="20" height="11" rx="2.5" fill="#fff"/>
<path d="M1866,461 L1866,464 L1869.5,461Z" fill="#fff"/>
<circle cx="1866.3" cy="455.8" r="1.3" fill="#ff7b3a"/><circle cx="1870.8" cy="455.8" r="1.3" fill="#ff7b3a"/><circle cx="1875.3" cy="455.8" r="1.3" fill="#ff7b3a"/>
</svg>
</body></html>
